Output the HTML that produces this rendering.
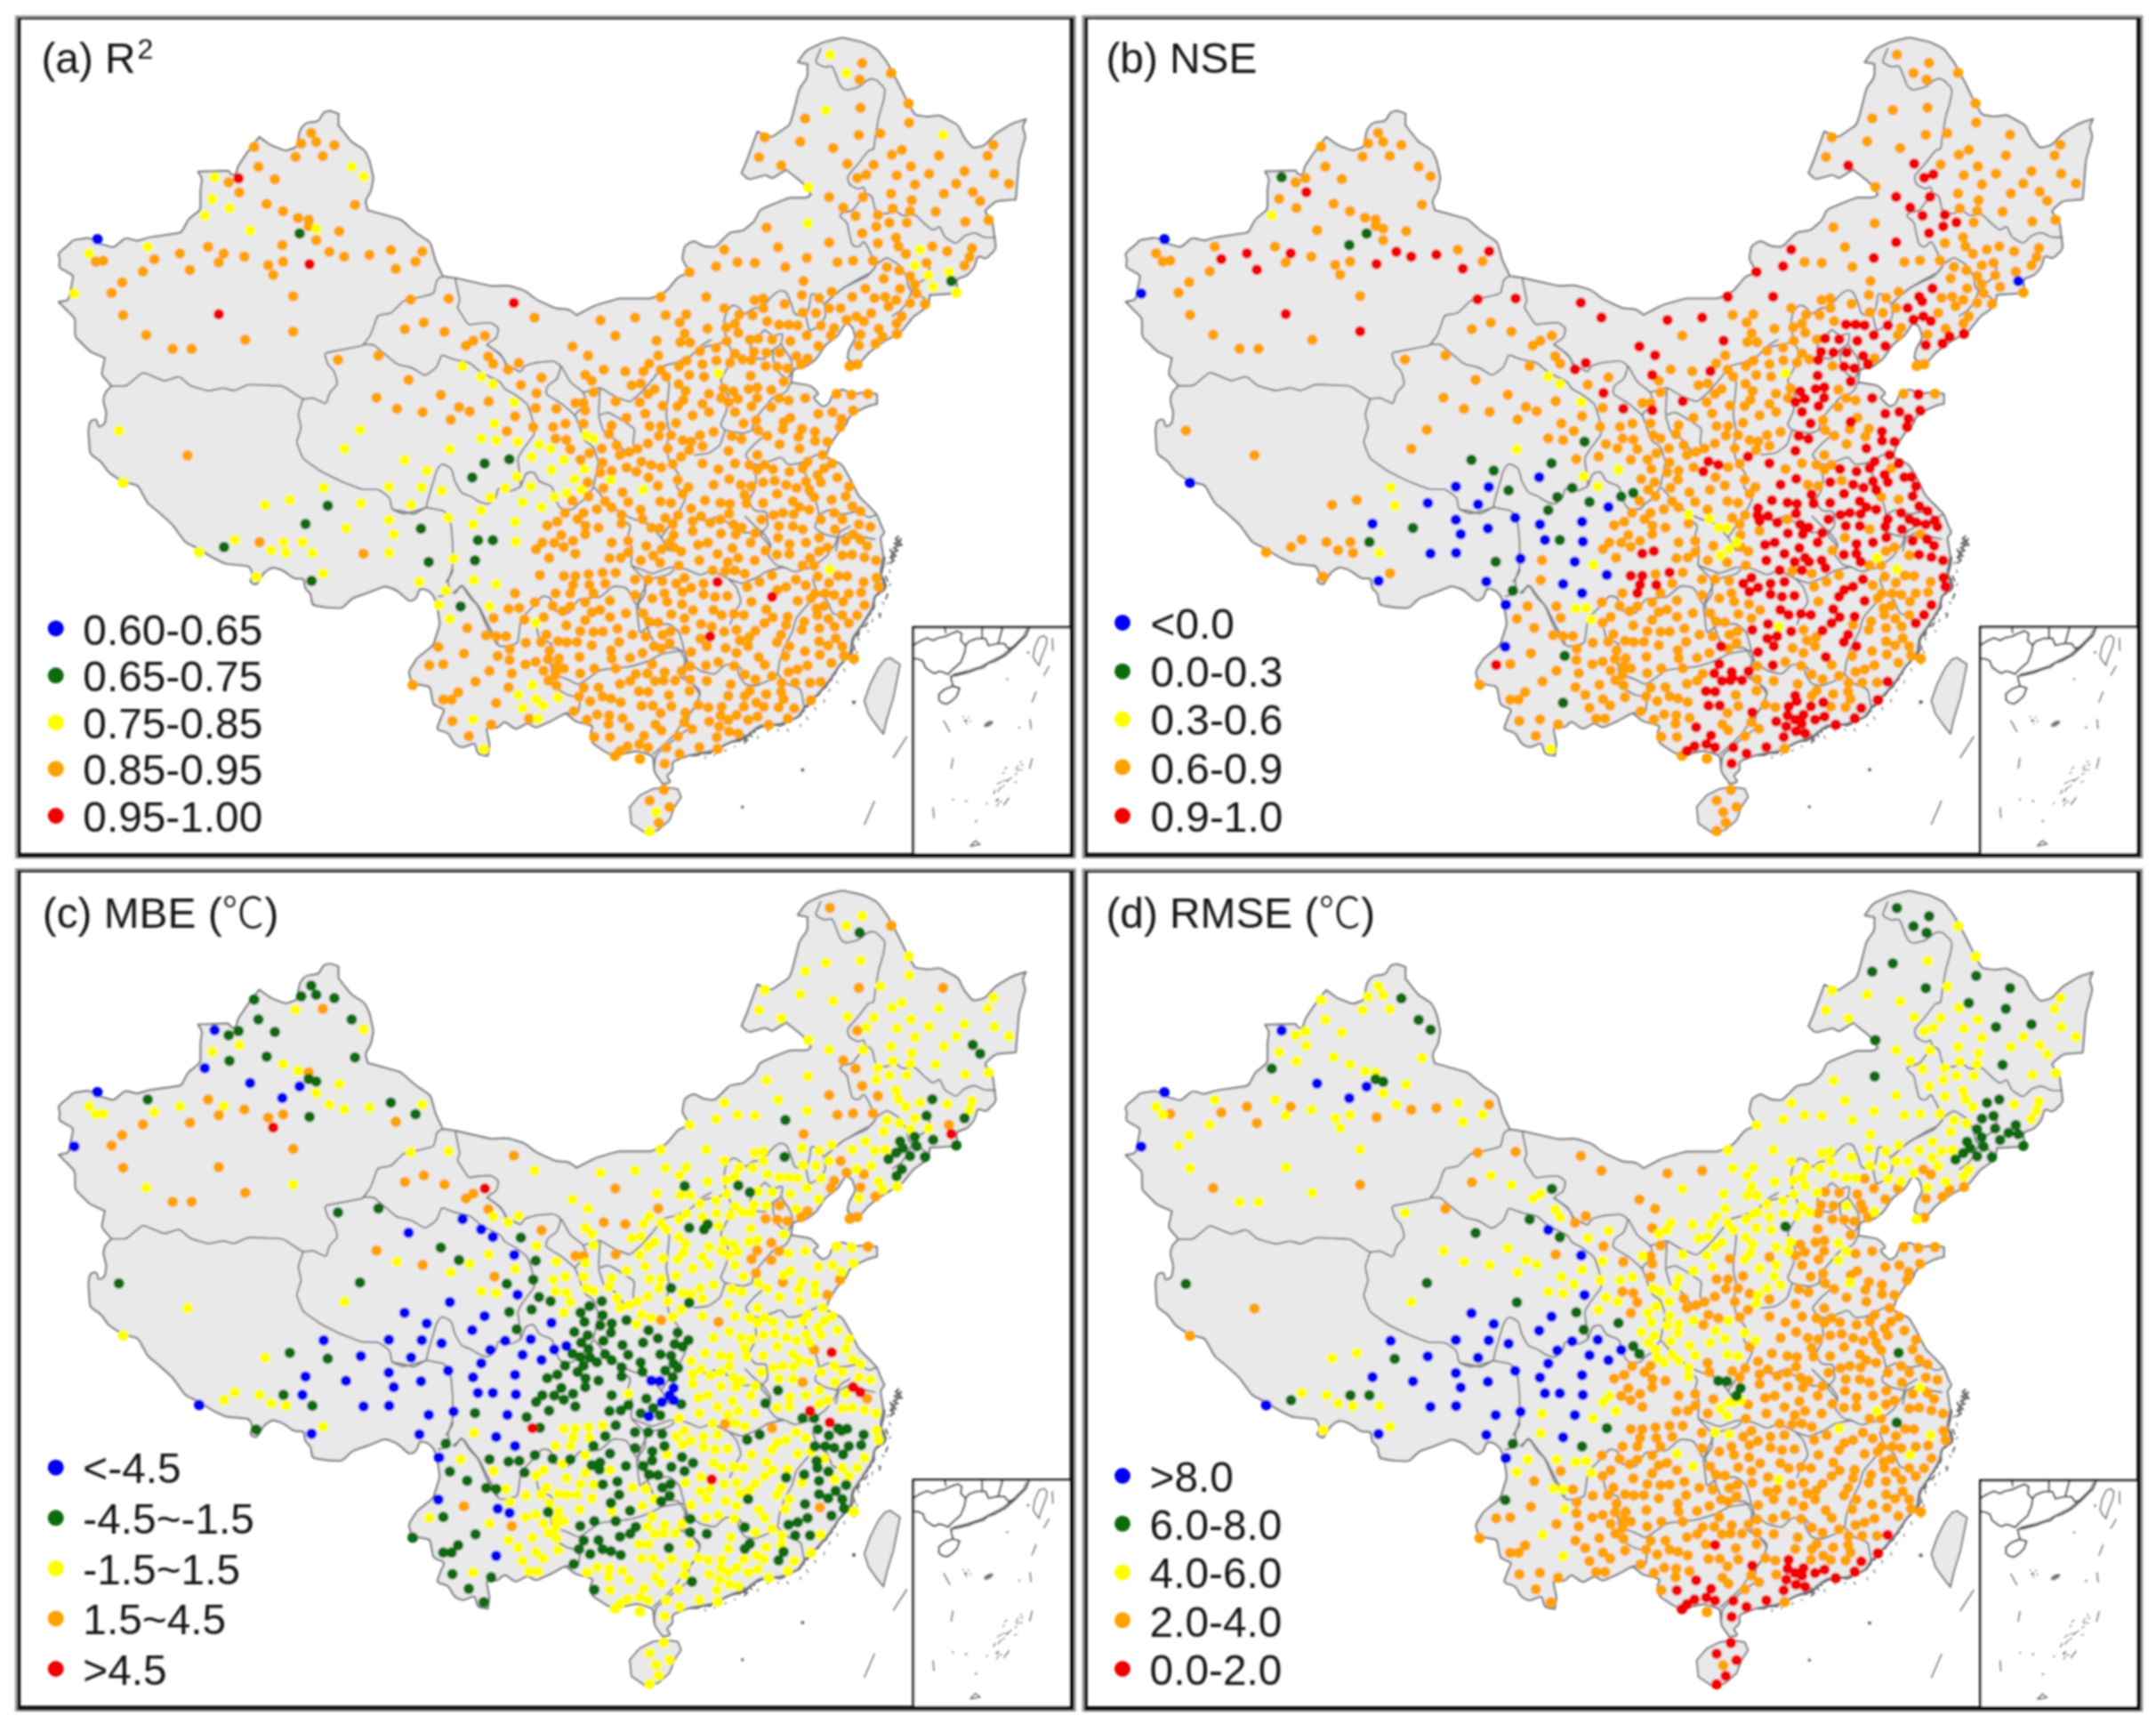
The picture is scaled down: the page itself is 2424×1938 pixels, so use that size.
<!DOCTYPE html><html><head><meta charset="utf-8"><title>Figure</title>
<style>html,body{margin:0;padding:0;background:#fff}svg{display:block}text{font-family:"Liberation Sans","Noto Sans CJK SC",sans-serif;fill:#151515}.cj{font-family:"Noto Sans CJK SC","Noto Serif CJK SC",sans-serif;font-weight:300}</style></head><body>
<svg width="2424" height="1938" viewBox="0 0 2424 1938">
<rect width="2424" height="1938" fill="#fff"/>
<defs><filter id="bl" x="-1%" y="-1%" width="102%" height="102%"><feGaussianBlur stdDeviation="1.0"/></filter>
<g id="map">
<path d="M66.7 289.2 Q65.9 285.8 65.9 285.8 L65.9 285.8 Q65.9 285.8 67.3 283.9 L67.3 283.9 Q68.7 282.0 71.5 279.8 L75.2 276.9 Q78.0 274.7 79.8 272.4 L79.8 272.4 Q81.7 270.0 85.2 269.5 L96.7 267.8 Q100.2 267.3 103.2 269.1 L108.4 272.0 Q111.4 273.8 114.8 274.7 L124.6 277.5 Q128.0 278.4 130.7 276.1 L138.3 269.6 Q141.0 267.3 144.4 268.3 L150.6 270.0 Q154.0 271.0 157.3 270.0 L163.7 268.0 Q167.0 267.0 170.5 266.5 L200.5 262.2 Q204.0 261.7 205.6 258.6 L210.0 250.0 Q211.6 246.9 214.3 244.7 L222.8 237.9 Q225.5 235.7 225.5 232.2 L225.5 216.9 Q225.5 213.4 226.0 209.9 L226.9 204.0 Q227.4 200.5 225.5 197.5 L224.6 196.0 Q222.7 193.0 222.7 193.0 L222.7 193.0 Q222.7 193.0 226.2 192.9 L253.5 192.1 Q257.0 192.0 257.0 192.0 L257.0 192.0 Q257.0 192.0 258.4 194.3 L258.4 194.3 Q259.9 196.7 262.6 196.7 L262.6 196.7 Q265.4 196.7 266.1 193.3 L266.6 190.9 Q267.3 187.5 269.2 184.6 L276.5 173.7 Q278.4 170.8 280.5 168.0 L289.3 156.8 Q291.4 154.0 291.4 154.0 L291.4 154.0 Q291.4 154.0 294.2 156.0 L301.6 161.3 Q304.4 163.3 307.7 164.6 L317.7 168.5 Q321.0 169.8 324.3 168.6 L330.7 166.4 Q334.0 165.2 334.5 161.7 L336.4 150.1 Q336.9 146.6 339.1 143.8 L341.2 141.1 Q343.4 138.3 346.9 137.9 L354.7 136.8 Q358.2 136.4 359.9 133.3 L362.1 129.3 Q363.8 126.2 367.2 125.4 L367.8 125.2 Q371.2 124.4 374.5 125.7 L377.2 126.7 Q380.5 128.0 380.5 128.0 L380.5 128.0 Q380.5 128.0 380.5 131.5 L380.5 137.5 Q380.5 141.0 380.5 141.0 L380.5 141.0 Q380.5 141.0 382.6 143.8 L392.7 156.6 Q394.8 159.4 397.8 161.3 L406.7 166.8 Q409.7 168.7 411.3 171.8 L413.7 176.7 Q415.3 179.8 416.1 183.2 L419.1 196.8 Q419.9 200.2 419.2 203.6 L417.7 211.6 Q417.0 215.0 415.2 218.0 L412.4 223.0 Q410.6 226.0 411.5 229.4 L412.5 233.0 Q413.4 236.4 413.4 236.4 L413.4 236.4 Q413.4 236.4 416.8 237.3 L447.1 245.7 Q450.5 246.6 453.1 248.9 L464.6 259.2 Q467.2 261.5 470.1 263.4 L481.1 270.7 Q484.0 272.6 484.9 276.0 L488.6 289.6 Q489.5 293.0 491.0 296.2 L496.4 307.5 Q497.9 310.7 497.9 310.7 L497.9 310.7 Q497.9 310.7 501.4 311.1 L508.3 312.1 Q511.8 312.5 515.2 313.3 L549.2 321.0 Q552.6 321.8 556.1 321.6 L567.7 321.1 Q571.2 320.9 574.5 321.9 L586.4 325.5 Q589.7 326.5 592.5 328.7 L599.9 334.5 Q602.7 336.7 605.9 338.2 L621.8 345.4 Q625.0 346.9 628.5 347.1 L636.4 347.6 Q639.9 347.8 642.7 350.0 L645.4 352.1 Q648.2 354.3 648.2 354.3 L648.2 354.3 Q648.2 354.3 651.3 352.7 L666.5 344.8 Q669.6 343.2 673.0 342.2 L692.1 336.7 Q695.5 335.7 699.0 335.7 L729.2 335.7 Q732.7 335.7 735.8 334.1 L746.3 329.0 Q749.4 327.4 751.6 324.7 L760.2 314.3 Q762.4 311.6 765.6 310.2 L772.2 307.4 Q775.4 306.0 775.4 306.0 L775.4 306.0 Q775.4 306.0 773.7 303.0 L768.7 294.2 Q767.0 291.2 767.6 287.8 L769.2 279.7 Q769.8 276.3 772.9 274.6 L776.9 272.3 Q780.0 270.6 783.0 272.4 L788.0 275.2 Q791.0 277.0 794.5 277.3 L800.5 277.7 Q804.0 278.0 806.5 275.5 L818.3 263.8 Q820.8 261.3 824.3 260.9 L832.2 259.8 Q835.7 259.4 838.4 257.1 L846.0 250.6 Q848.7 248.3 850.1 245.1 L852.8 239.4 Q854.2 236.2 857.4 234.8 L865.8 231.1 Q869.0 229.7 872.3 228.4 L884.4 223.6 Q887.7 222.3 891.2 222.3 L904.5 222.3 Q908.0 222.3 909.9 220.4 L909.9 220.4 Q911.8 218.6 911.8 218.6 L911.8 218.6 Q911.8 218.6 909.8 215.8 L904.5 208.4 Q902.5 205.6 899.8 203.4 L886.7 193.0 Q884.0 190.8 884.0 190.8 L884.0 190.8 Q884.0 190.8 881.0 192.6 L870.2 199.2 Q867.2 201.0 864.5 198.7 L864.4 198.6 Q861.7 196.3 858.3 197.2 L844.7 201.0 Q841.3 201.9 838.8 199.4 L836.3 197.0 Q833.8 194.5 833.8 194.5 L833.8 194.5 Q833.8 194.5 835.2 191.3 L838.0 184.7 Q839.4 181.5 840.6 178.2 L850.3 151.3 Q851.5 148.0 851.5 148.0 L851.5 148.0 Q851.5 148.0 854.7 149.4 L864.0 153.2 Q867.2 154.6 870.1 152.6 L884.8 142.6 Q887.7 140.6 888.8 137.3 L890.3 132.8 Q891.4 129.5 892.2 126.1 L898.0 103.2 Q898.8 99.8 900.8 96.9 L906.0 89.7 Q908.0 86.8 908.0 83.3 L908.0 75.5 Q908.0 72.0 908.0 72.0 L908.0 72.0 Q908.0 72.0 904.6 71.4 L900.4 70.6 Q897.0 70.0 897.0 70.0 L897.0 70.0 Q897.0 70.0 899.0 67.1 L904.2 59.9 Q906.2 57.0 909.3 55.4 L921.7 49.4 Q924.8 47.8 928.2 47.0 L943.6 43.1 Q947.0 42.3 950.4 43.1 L967.8 47.0 Q971.2 47.8 974.3 49.4 L982.9 53.7 Q986.0 55.3 988.1 58.1 L995.1 67.2 Q997.2 70.0 998.9 73.1 L1006.6 87.4 Q1008.3 90.5 1009.9 93.6 L1019.7 113.4 Q1021.3 116.5 1023.0 119.5 L1027.0 126.5 Q1028.7 129.5 1032.2 129.9 L1040.1 131.0 Q1043.6 131.4 1047.1 130.9 L1053.1 130.0 Q1056.6 129.5 1059.7 131.2 L1073.9 138.9 Q1077.0 140.6 1078.6 143.7 L1082.8 152.4 Q1084.4 155.5 1086.6 158.2 L1091.5 163.9 Q1093.7 166.6 1097.1 165.9 L1103.3 164.5 Q1106.7 163.8 1109.1 161.3 L1117.3 152.5 Q1119.7 150.0 1122.7 148.2 L1135.2 140.6 Q1138.2 138.8 1141.5 137.8 L1150.2 135.0 Q1153.5 134.0 1153.5 134.0 L1153.5 134.0 Q1153.5 134.0 1152.0 137.2 L1150.9 139.3 Q1149.4 142.5 1150.5 145.8 L1151.9 150.3 Q1153.0 153.6 1152.0 157.0 L1146.6 176.2 Q1145.6 179.6 1145.3 183.1 L1144.1 198.4 Q1143.8 201.9 1143.5 205.4 L1142.3 220.7 Q1142.0 224.2 1142.0 224.2 L1142.0 224.2 Q1142.0 224.2 1138.5 224.5 L1123.2 225.7 Q1119.7 226.0 1117.0 228.3 L1109.4 234.9 Q1106.7 237.2 1108.7 240.0 L1114.0 247.4 Q1116.0 250.2 1116.4 253.7 L1119.3 276.4 Q1119.7 279.9 1117.2 282.4 L1111.0 288.5 Q1108.5 291.0 1105.3 289.7 L1102.5 288.6 Q1099.3 287.3 1098.3 290.7 L1096.5 296.9 Q1095.5 300.3 1093.3 303.0 L1090.2 306.6 Q1088.0 309.3 1084.7 310.5 L1078.3 312.8 Q1075.0 314.0 1075.4 317.5 L1076.6 326.2 Q1077.0 329.7 1077.0 329.7 L1077.0 329.7 Q1077.0 329.7 1073.5 329.9 L1048.9 331.3 Q1045.4 331.5 1045.4 331.5 L1045.4 331.5 Q1045.4 331.5 1044.9 335.0 L1044.1 341.0 Q1043.6 344.5 1040.7 346.4 L1029.8 353.8 Q1026.9 355.7 1024.8 358.5 L1016.0 369.6 Q1013.9 372.4 1010.9 374.2 L994.6 383.6 Q991.6 385.4 988.8 387.5 L979.5 394.4 Q976.7 396.5 974.4 399.2 L967.9 406.8 Q965.6 409.5 962.4 408.1 L955.8 405.4 Q952.6 404.0 953.2 400.5 L953.9 396.3 Q954.5 392.8 956.2 389.8 L960.3 382.8 Q962.0 379.8 961.0 376.4 L959.2 370.2 Q958.2 366.8 955.1 365.2 L953.9 364.6 Q950.8 363.0 949.0 366.0 L943.3 375.0 Q941.5 378.0 938.6 380.0 L931.4 385.2 Q928.5 387.2 926.6 390.1 L919.3 401.1 Q917.4 404.0 914.5 406.0 L907.3 411.2 Q904.4 413.2 900.9 413.7 L894.9 414.5 Q891.4 415.0 891.0 418.5 L889.9 426.5 Q889.5 430.0 889.5 430.0 L889.5 430.0 Q889.5 430.0 893.0 430.6 L908.3 433.0 Q911.8 433.6 914.2 436.1 L918.6 440.5 Q921.0 443.0 917.9 444.5 L916.7 445.1 Q913.6 446.6 916.1 449.1 L922.3 455.3 Q924.8 457.8 927.9 456.2 L929.1 455.6 Q932.2 454.0 933.3 450.7 L934.9 446.3 Q936.0 443.0 939.1 441.4 L943.9 439.0 Q947.0 437.4 950.1 439.0 L955.1 441.4 Q958.2 443.0 961.7 442.6 L971.5 441.4 Q975.0 441.0 978.4 441.6 L982.6 442.4 Q986.0 443.0 986.0 443.0 L986.0 443.0 Q986.0 443.0 986.0 446.5 L986.0 450.5 Q986.0 454.0 986.0 454.0 L986.0 454.0 Q986.0 454.0 982.6 454.7 L980.1 455.3 Q976.7 456.0 973.6 457.6 L965.1 461.7 Q962.0 463.3 959.2 465.4 L957.3 466.9 Q954.5 469.0 953.2 472.2 L952.1 475.0 Q950.8 478.2 948.3 480.7 L944.0 485.0 Q941.5 487.5 939.6 490.5 L934.1 499.3 Q932.2 502.3 931.1 505.6 L929.6 510.2 Q928.5 513.5 928.5 513.5 L928.5 513.5 Q928.5 513.5 931.6 515.1 L943.9 521.1 Q947.0 522.7 948.7 525.8 L954.6 536.3 Q956.3 539.4 957.9 542.5 L964.0 554.9 Q965.6 558.0 968.1 560.5 L972.5 564.8 Q975.0 567.3 977.5 569.8 L983.5 575.9 Q986.0 578.4 987.2 581.7 L990.4 590.0 Q991.6 593.3 993.3 596.0 L993.3 596.0 Q995.0 598.6 992.5 601.1 L992.1 601.5 Q989.6 604.0 990.2 607.5 L992.7 622.9 Q993.3 626.4 992.5 629.8 L990.4 639.6 Q989.6 643.0 990.6 646.4 L994.0 658.3 Q995.0 661.7 995.0 661.7 L995.0 661.7 Q995.0 661.7 992.1 663.6 L986.9 667.1 Q984.0 669.0 983.2 672.4 L981.1 680.6 Q980.3 684.0 978.5 687.0 L970.9 699.5 Q969.1 702.5 967.0 705.3 L960.1 714.6 Q958.0 717.4 957.6 720.9 L956.5 730.5 Q956.1 734.0 953.8 736.7 L945.5 746.3 Q943.2 749.0 941.2 751.9 L934.0 762.7 Q932.0 765.6 929.7 768.2 L921.3 777.9 Q919.0 780.5 916.5 783.0 L906.7 792.8 Q904.2 795.3 902.3 798.2 L898.7 803.5 Q896.8 806.4 893.5 807.6 L879.6 812.7 Q876.3 813.9 872.8 814.2 L857.5 815.4 Q854.0 815.7 851.2 817.9 L840.2 826.5 Q837.4 828.7 834.1 829.8 L823.9 833.2 Q820.6 834.3 817.5 836.0 L807.0 841.9 Q803.9 843.6 800.5 844.2 L777.6 848.5 Q774.2 849.1 771.0 850.4 L758.9 855.3 Q755.7 856.6 755.9 860.1 L756.2 863.0 Q756.4 866.5 753.6 868.6 L751.8 869.9 Q749.0 872.0 751.1 874.8 L752.4 876.6 Q754.5 879.4 751.1 880.1 L748.6 880.6 Q745.2 881.3 745.2 881.3 L745.2 881.3 Q745.2 881.3 743.2 878.4 L738.0 871.2 Q736.0 868.3 735.6 864.8 L734.5 853.2 Q734.1 849.7 730.8 848.6 L726.3 847.1 Q723.0 846.0 719.6 845.2 L718.9 845.0 Q715.5 844.2 712.1 844.9 L693.0 849.0 Q689.6 849.7 686.5 848.2 L685.2 847.5 Q682.1 846.0 679.2 844.1 L668.3 836.8 Q665.4 834.9 664.8 831.4 L664.2 827.3 Q663.6 823.8 665.1 820.7 L665.8 819.4 Q667.3 816.3 663.9 815.4 L650.3 811.7 Q646.9 810.8 644.2 808.6 L638.4 803.7 Q635.7 801.5 632.6 803.2 L622.1 809.1 Q619.0 810.8 615.8 812.2 L605.5 816.8 Q602.3 818.2 599.3 816.4 L596.0 814.4 Q593.0 812.6 590.0 814.3 L583.0 818.3 Q580.0 820.0 577.1 818.0 L569.9 812.8 Q567.0 810.8 564.5 813.3 L562.1 815.7 Q559.6 818.2 556.1 818.2 L550.1 818.2 Q546.6 818.2 547.3 821.6 L549.6 833.4 Q550.3 836.8 550.3 836.8 L550.3 836.8 Q550.3 836.8 549.8 840.3 L549.0 846.2 Q548.5 849.7 548.5 849.7 L548.5 849.7 Q548.5 849.7 545.0 849.1 L540.9 848.5 Q537.4 847.9 536.4 844.5 L534.6 838.3 Q533.6 834.9 530.4 836.3 L523.8 839.1 Q520.6 840.5 517.4 839.2 L514.6 838.1 Q511.4 836.8 509.7 833.8 L505.6 826.8 Q503.9 823.8 500.5 822.8 L494.4 821.0 Q491.0 820.0 492.2 816.7 L495.3 808.5 Q496.5 805.2 498.1 802.1 L498.6 800.9 Q500.2 797.8 497.0 796.4 L490.4 793.6 Q487.2 792.2 486.6 788.8 L484.1 775.2 Q483.5 771.8 480.1 771.2 L466.5 768.7 Q463.1 768.1 462.1 764.7 L460.4 758.5 Q459.4 755.1 461.3 752.1 L466.8 743.2 Q468.7 740.2 471.4 738.0 L484.5 727.6 Q487.2 725.4 488.2 722.1 L493.7 704.6 Q494.7 701.3 494.1 697.8 L492.8 689.1 Q492.2 685.6 491.4 682.2 L489.3 674.2 Q488.5 670.8 486.0 668.3 L483.6 665.8 Q481.1 663.3 477.7 662.6 L475.2 662.2 Q471.8 661.5 470.7 664.8 L469.2 669.3 Q468.1 672.6 465.0 674.2 L463.8 674.7 Q460.7 676.3 458.1 674.0 L448.4 665.6 Q445.8 663.3 442.5 662.1 L436.2 659.9 Q432.9 658.7 429.6 660.0 L417.6 664.8 Q414.3 666.1 411.0 667.3 L399.0 671.4 Q395.7 672.6 393.2 675.1 L387.1 681.2 Q384.6 683.7 381.1 683.5 L369.5 683.0 Q366.0 682.8 362.6 682.1 L354.6 680.7 Q351.2 680.0 350.7 676.5 L349.8 670.5 Q349.3 667.0 346.6 664.7 L345.5 663.8 Q342.8 661.5 342.5 658.0 L342.2 653.8 Q341.9 650.3 338.4 650.3 L334.3 650.3 Q330.8 650.3 328.0 648.3 L320.6 643.0 Q317.8 641.0 314.5 639.9 L309.9 638.5 Q306.6 637.4 303.6 639.2 L300.4 641.1 Q297.4 642.9 295.5 645.9 L289.9 654.8 Q288.0 657.8 284.9 656.2 L283.7 655.6 Q280.6 654.0 282.2 650.9 L282.8 649.7 Q284.4 646.6 283.2 643.3 L281.8 639.7 Q280.6 636.4 277.1 636.0 L256.3 634.0 Q252.8 633.6 249.7 632.0 L241.1 627.8 Q238.0 626.2 235.0 624.3 L226.1 618.8 Q223.1 616.9 220.0 615.3 L211.4 611.1 Q208.3 609.5 206.2 606.7 L195.5 591.9 Q193.4 589.1 190.8 586.8 L179.3 576.5 Q176.7 574.2 174.0 572.0 L168.9 568.0 Q166.2 565.8 164.5 562.7 L156.8 548.5 Q155.1 545.4 151.7 544.6 L141.8 542.5 Q138.4 541.7 135.5 539.8 L124.6 532.5 Q121.7 530.6 119.8 527.7 L116.1 522.3 Q114.2 519.4 111.4 517.4 L104.1 512.2 Q101.3 510.2 101.0 506.7 L99.7 487.7 Q99.4 484.2 100.0 480.7 L100.7 476.5 Q101.3 473.0 104.7 472.2 L105.3 472.0 Q108.7 471.2 109.4 474.6 L109.8 477.1 Q110.5 480.5 113.6 479.0 L114.9 478.3 Q118.0 476.8 118.5 473.3 L119.3 467.3 Q119.8 463.8 118.8 460.4 L117.1 454.2 Q116.1 450.8 116.8 447.4 L117.3 444.9 Q118.0 441.5 120.5 439.0 L122.9 436.5 Q125.4 434.0 125.4 434.0 L125.4 434.0 Q125.4 434.0 123.1 431.3 L116.5 423.7 Q114.2 421.0 114.9 417.6 L117.3 405.9 Q118.0 402.5 118.0 402.5 L118.0 402.5 Q118.0 402.5 114.8 401.1 L104.5 396.5 Q101.3 395.1 98.8 392.6 L87.0 380.9 Q84.5 378.4 84.5 374.9 L84.5 361.5 Q84.5 358.0 82.0 355.5 L68.5 341.9 Q66.0 339.4 66.0 339.4 L66.0 339.4 Q66.0 339.4 69.4 338.8 L73.7 338.1 Q77.1 337.5 77.8 334.1 L82.0 313.1 Q82.7 309.7 79.6 308.0 L69.1 302.1 Q66.0 300.4 66.8 297.0 L66.9 296.7 Q67.7 293.3 66.9 289.9 Z" fill="#e9e9ea" stroke="#7b7b80" stroke-width="2.2" stroke-linejoin="round"/>
<path d="M1000.7 739.6 L1011.8 747.0 L1008.1 765.6 L1004.4 784.2 L997.0 808.3 L993.3 825.0 L985.8 815.7 L976.6 802.7 L971.9 787.9 L978.4 769.3 L987.7 750.8 L995.1 741.5 Z" fill="#e9e9ea" stroke="#7b7b80" stroke-width="2" stroke-linejoin="round"/>
<path d="M734.1 886.9 L747.1 885.0 L762.0 886.9 L765.7 896.1 L758.2 907.3 L752.7 922.1 L739.7 933.3 L726.7 937.0 L710.0 925.8 L708.1 907.3 L719.3 894.3 Z" fill="#e9e9ea" stroke="#7b7b80" stroke-width="2" stroke-linejoin="round"/>
<path d="M497.9 310.7 L494.6 312.1 Q491.4 313.5 490.6 316.9 L488.5 326.8 Q487.7 330.2 484.3 331.0 L476.2 333.1 Q472.8 333.9 469.4 334.6 L457.6 336.9 Q454.2 337.6 451.7 340.1 L441.9 349.9 Q439.4 352.4 435.9 352.8 L428.0 353.9 Q424.5 354.3 423.4 357.6 L417.9 373.2 Q416.8 376.5 414.7 379.3 L407.5 388.6" fill="none" stroke="#7b7b80" stroke-width="1.9" stroke-linejoin="round"/>
<path d="M407.5 388.6 L368.2 396.2 Q364.8 396.9 365.8 400.3 L367.5 406.5 Q368.5 409.9 371.0 412.4 L373.5 414.9 Q376.0 417.4 376.8 420.8 L378.9 428.8 Q379.7 432.2 377.2 434.7 L372.9 439.0 Q370.4 441.5 369.4 444.9 L367.7 451.1 Q366.7 454.5 363.6 452.9 L354.9 448.6 Q351.8 447.0 348.4 447.6 L344.1 448.3 Q340.7 448.9 337.8 447.0 L321.3 435.9 Q318.4 434.0 314.9 433.8 L282.9 432.4 Q279.4 432.2 276.2 433.6 L265.9 438.2 Q262.7 439.6 259.4 438.5 L254.9 437.0 Q251.6 435.9 248.2 436.7 L238.3 438.8 Q234.9 439.6 231.5 438.7 L217.9 434.9 Q214.5 434.0 211.8 431.7 L204.2 425.2 Q201.5 422.9 198.2 424.0 L188.1 427.4 Q184.8 428.5 181.6 427.1 L163.8 419.7 Q160.6 418.3 157.9 420.6 L144.7 431.7 Q142.0 434.0 138.5 434.0 L125.4 434.0" fill="none" stroke="#7b7b80" stroke-width="1.9" stroke-linejoin="round"/>
<path d="M340.7 448.9 L336.2 462.3 Q335.1 465.6 335.9 469.0 L338.0 477.1 Q338.8 480.5 337.7 483.8 L334.4 493.9 Q333.3 497.2 334.6 500.4 L339.4 512.5 Q340.7 515.7 343.6 517.7 L357.6 527.7 Q360.5 529.7 363.6 531.3 L379.6 539.2 Q382.7 540.8 386.0 542.1 L403.6 548.8 Q406.9 550.1 410.4 550.1 L421.9 550.1 Q425.4 550.1 428.2 552.1 L435.6 557.4 Q438.4 559.4 438.9 562.9 L439.8 568.9 Q440.3 572.4 443.5 573.8 L450.1 576.6 Q453.3 578.0 456.7 577.1 L464.7 575.1 Q468.1 574.2 471.4 573.1 L479.3 570.5" fill="none" stroke="#7b7b80" stroke-width="1.9" stroke-linejoin="round"/>
<path d="M479.3 570.5 L496.3 573.6 Q499.7 574.2 501.3 577.3 L505.5 586.0 Q507.1 589.1 507.4 592.6 L508.7 607.9 Q509.0 611.4 509.0 614.9 L509.0 633.9 Q509.0 637.4 507.9 640.7 L504.5 650.7 Q503.4 654.0 504.4 657.4 L506.1 663.6 Q507.1 667.0 503.7 667.9 L492.2 670.8" fill="none" stroke="#7b7b80" stroke-width="1.9" stroke-linejoin="round"/>
<path d="M511.8 312.5 L516.6 336.0 Q517.4 339.4 515.5 342.2 L515.5 342.2 Q513.6 345.0 515.5 348.0 L524.8 362.5 Q526.6 365.4 530.1 364.9 L534.3 364.1 Q537.8 363.6 541.3 363.4 L549.1 362.9 Q552.6 362.6 555.4 364.8 L558.2 367.0 Q561.0 369.1 560.1 372.5 L559.0 376.9 Q558.2 380.3 555.2 382.0 L550.1 385.0 Q547.1 386.8 549.9 388.9 L555.4 393.0 Q558.2 395.1 560.7 397.6 L565.0 401.9 Q567.5 404.4 568.0 407.9 L569.3 415.5" fill="none" stroke="#7b7b80" stroke-width="1.9" stroke-linejoin="round"/>
<path d="M407.4 387.2 L416.9 387.2 Q420.4 387.2 422.3 389.1 L422.3 389.1 Q424.1 391.0 426.8 393.2 L432.6 398.0 Q435.3 400.2 438.0 402.5 L443.7 407.3 Q446.4 409.5 449.8 410.3 L459.7 412.5 Q463.1 413.2 466.1 415.1 L475.0 420.7 Q478.0 422.5 480.8 420.5 L488.1 415.3 Q491.0 413.2 492.2 409.9 L495.3 401.7 Q496.5 398.4 499.7 399.8 L506.3 402.6 Q509.5 403.9 512.9 404.6 L524.6 407.0 Q528.1 407.7 530.7 409.9 L538.4 416.5 Q541.1 418.8 544.2 420.4 L560.2 428.4 Q563.3 429.9 564.9 433.1 L565.5 434.2 Q567.1 437.4 570.2 438.9 L575.1 441.4 Q578.2 442.9 581.0 445.0 L590.2 452.0 Q593.0 454.1 594.1 457.4 L597.5 467.4 Q598.6 470.8 599.2 474.2 L600.8 484.0 Q601.4 487.5 599.3 490.3 L589.6 503.2 Q587.5 506.0 585.7 509.0 L583.7 512.3 Q581.9 515.3 582.4 518.8 L583.3 524.8 Q583.8 528.3 584.1 531.8 L585.6 546.9" fill="none" stroke="#7b7b80" stroke-width="1.9" stroke-linejoin="round"/>
<path d="M479.3 570.4 L480.9 563.3 Q481.7 559.9 482.7 556.5 L486.2 544.7 Q487.2 541.3 488.2 537.9 L490.0 531.7 Q491.0 528.3 493.1 525.5 L494.4 523.7 Q496.5 520.9 499.7 522.4 L504.5 524.9 Q507.7 526.5 508.5 529.8 L510.5 537.9 Q511.4 541.3 513.1 544.3 L517.1 551.3 Q518.8 554.3 522.1 555.4 L526.6 556.9 Q529.9 558.0 532.7 560.1 L534.6 561.5 Q537.4 563.6 540.7 564.7 L545.2 566.2 Q548.5 567.3 551.2 565.1 L555.0 562.0 Q557.8 559.9 558.3 556.4 L559.1 552.2 Q559.6 548.7 563.0 549.6 L571.1 551.6 Q574.5 552.4 577.6 550.9 L585.6 546.9" fill="none" stroke="#7b7b80" stroke-width="1.9" stroke-linejoin="round"/>
<path d="M479.3 570.4 L468.0 576.7 Q465.0 578.4 461.6 577.3 L457.1 575.8 Q453.8 574.7 450.4 574.2 L440.8 572.9" fill="none" stroke="#7b7b80" stroke-width="1.9" stroke-linejoin="round"/>
<path d="M585.6 546.9 L590.0 535.3 Q591.2 532.0 594.6 531.3 L597.0 530.8 Q600.5 530.2 602.0 533.3 L604.5 538.2 Q606.0 541.3 609.3 542.5 L617.6 545.6 Q620.9 546.9 621.8 550.2 L624.6 560.2 Q625.5 563.6 627.2 566.6 L628.5 568.9 Q630.2 571.9 633.7 572.1 L641.5 572.6 Q645.0 572.9 646.9 570.1 L646.9 570.1 Q648.7 567.3 651.6 565.3 L656.9 561.8 Q659.9 559.9 661.6 556.8 L665.5 549.9 Q667.3 546.9 669.6 549.5 L676.1 557.2 Q678.4 559.9 680.9 562.3 L687.1 568.5 Q689.6 571.0 692.6 572.8 L705.1 580.3 Q708.1 582.1 711.4 583.2 L727.1 588.5 Q730.4 589.6 732.7 592.2 L741.1 601.8 Q743.4 604.4 745.2 607.4 L752.7 620.0" fill="none" stroke="#7b7b80" stroke-width="1.9" stroke-linejoin="round"/>
<path d="M667.3 546.9 L672.2 522.5 Q672.9 519.0 671.7 515.7 L668.4 505.6 Q667.3 502.3 664.4 500.4 L659.1 496.8 Q656.1 494.9 655.2 491.5 L653.4 485.3 Q652.4 481.9 651.2 478.6 L648.1 470.3 Q646.9 467.1 644.2 464.7 L632.0 454.1" fill="none" stroke="#7b7b80" stroke-width="1.9" stroke-linejoin="round"/>
<path d="M546.6 387.2 L560.4 396.4 Q563.3 398.4 564.9 401.5 L567.3 406.4 Q568.9 409.5 572.0 411.2 L582.6 417.1 Q585.6 418.8 587.2 415.7 L587.8 414.5 Q589.3 411.4 592.7 410.4 L599.0 408.6 Q602.3 407.7 605.8 407.3 L619.3 406.1 Q622.7 405.8 625.6 407.7 L628.2 409.4 Q631.1 411.4 630.0 414.7 L627.5 422.9 Q626.5 426.2 623.5 428.2 L618.2 431.7 Q615.3 433.6 614.6 437.1 L614.1 439.5 Q613.5 442.9 616.5 444.7 L632.0 454.1" fill="none" stroke="#7b7b80" stroke-width="1.9" stroke-linejoin="round"/>
<path d="M631.1 411.4 L639.6 426.9 Q641.3 429.9 644.1 432.0 L653.3 439.0 Q656.1 441.1 657.1 444.4 L658.9 450.7 Q659.9 454.1 657.2 456.3 L651.4 461.1 Q648.7 463.3 647.8 465.2 L646.9 467.1" fill="none" stroke="#7b7b80" stroke-width="1.9" stroke-linejoin="round"/>
<path d="M656.1 441.1 L671.4 436.5 Q674.7 435.5 677.7 437.4 L686.6 442.9 Q689.6 444.8 692.8 446.1 L704.9 450.9 Q708.1 452.2 710.8 449.9 L718.5 443.3 Q721.1 441.1 723.4 438.4 L731.8 428.9 Q734.1 426.2 736.2 423.4 L743.1 414.2 Q745.2 411.4 748.6 410.5 L756.7 408.5 Q760.1 407.7 763.3 406.2 L773.6 401.7 Q776.8 400.2 779.3 397.8 L787.3 389.7 Q789.8 387.2 792.9 385.6 L800.0 381.7" fill="none" stroke="#7b7b80" stroke-width="1.9" stroke-linejoin="round"/>
<path d="M745.2 411.4 L751.4 426.7 Q752.7 429.9 752.3 433.4 L751.2 445.0 Q750.8 448.5 750.5 452.0 L749.3 463.6 Q749.0 467.1 749.6 470.5 L752.0 482.2 Q752.7 485.6 752.0 489.0 L749.6 500.7 Q749.0 504.2 749.8 507.6 L752.7 519.0" fill="none" stroke="#7b7b80" stroke-width="1.9" stroke-linejoin="round"/>
<path d="M752.7 519.0 L761.7 531.1 Q763.8 533.9 762.8 537.2 L761.1 543.5 Q760.1 546.9 762.4 549.5 L769.0 557.2 Q771.2 559.9 769.7 563.0 L765.4 571.6 Q763.8 574.7 761.8 577.6 L743.4 604.4" fill="none" stroke="#7b7b80" stroke-width="1.9" stroke-linejoin="round"/>
<path d="M674.7 435.5 L673.1 463.6 Q672.9 467.1 676.2 465.9 L680.7 464.4 Q684.0 463.3 687.0 465.1 L693.9 469.0 Q697.0 470.8 699.9 472.7 L710.8 480.0 Q713.7 481.9 713.3 485.4 L712.3 493.3 Q711.8 496.8 712.3 500.2 L713.2 506.3 Q713.7 509.7 710.3 510.4 L707.8 510.9 Q704.4 511.6 702.5 508.7 L695.2 497.8 Q693.3 494.9 690.3 493.0 L681.4 487.5 Q678.4 485.6 677.4 482.3 L672.9 467.1" fill="none" stroke="#7b7b80" stroke-width="1.9" stroke-linejoin="round"/>
<path d="M509.0 667.1 L517.4 660.0 Q520.1 657.8 522.1 660.6 L527.3 667.9 Q529.4 670.8 531.6 673.5 L536.4 679.2 Q538.7 681.9 540.2 685.0 L548.2 701.0 Q549.8 704.2 551.5 707.2 L560.0 722.7" fill="none" stroke="#7b7b80" stroke-width="1.9" stroke-linejoin="round"/>
<path d="M501.2 654.8 L505.6 648.4 Q507.7 645.6 508.6 642.8 L509.5 640.0" fill="none" stroke="#7b7b80" stroke-width="1.9" stroke-linejoin="round"/>
<path d="M511.4 667.8 L516.9 659.6 Q518.8 656.7 520.6 659.7 L526.2 668.6 Q528.1 671.6 530.5 674.0 L534.9 678.4 Q537.4 680.8 538.7 684.1 L545.3 699.9 Q546.6 703.1 548.3 706.2 L556.1 720.5 Q557.8 723.5 560.6 725.4 L560.6 725.4 Q563.3 727.2 566.8 726.6 L578.5 724.2 Q581.9 723.5 582.4 720.1 L585.2 699.2 Q585.6 695.7 588.1 693.2 L598.0 683.3 Q600.5 680.8 602.7 678.1 L607.5 672.4 Q609.7 669.7 613.2 670.4 L615.6 670.9 Q619.0 671.6 619.9 675.0 L621.9 683.0 Q622.7 686.4 626.2 687.2 L636.0 689.4 Q639.4 690.1 641.4 687.2 L648.6 676.3 Q650.6 673.4 654.1 673.1 L671.2 671.8 Q674.7 671.6 677.3 669.2 L686.9 660.9 Q689.6 658.6 693.0 659.0 L700.9 660.0 Q704.4 660.4 706.1 663.5 L713.9 677.8 Q715.5 680.8 717.0 677.6 L721.5 667.3 Q723.0 664.1 724.7 661.1 L728.7 654.2 Q730.4 651.1 733.8 650.3 L749.3 646.4 Q752.7 645.6 755.1 643.1 L758.2 640.0" fill="none" stroke="#7b7b80" stroke-width="1.9" stroke-linejoin="round"/>
<path d="M602.3 701.3 L605.3 714.5 Q606.0 718.0 609.3 719.2 L617.6 722.3 Q620.9 723.5 620.6 727.0 L619.3 740.5 Q619.0 743.9 619.5 747.4 L620.4 755.3 Q620.9 758.8 620.3 762.2 L619.6 766.5 Q619.0 769.9 622.0 771.7 L634.6 779.3 Q637.6 781.1 641.0 781.9 L649.0 783.9 Q652.4 784.8 652.0 788.3 L651.0 798.0 Q650.6 801.5 647.1 801.5 L635.7 801.5" fill="none" stroke="#7b7b80" stroke-width="1.9" stroke-linejoin="round"/>
<path d="M620.9 758.8 L632.3 761.7 Q635.7 762.5 638.9 764.1 L647.4 768.4 Q650.6 769.9 653.5 767.9 L671.8 755.2 Q674.7 753.2 678.2 752.8 L686.1 751.8 Q689.6 751.4 693.0 751.0 L704.6 749.9 Q708.1 749.5 711.5 748.5 L723.3 745.0 Q726.7 743.9 729.8 742.4 L742.1 736.2 Q745.2 734.7 748.7 734.1 L765.9 731.5 Q769.4 731.0 770.3 734.3 L772.1 740.6 Q773.1 743.9 771.4 747.0 L765.5 757.6 Q763.8 760.6 766.9 762.3 L777.5 768.2 Q780.5 769.9 783.0 772.4 L785.5 774.9 Q787.9 777.4 786.8 780.7 L783.5 790.7 Q782.4 794.1 780.1 796.7 L773.5 804.4 Q771.2 807.1 769.2 809.9 L760.2 822.7 Q758.2 825.6 755.8 828.1 L749.6 834.3 Q747.1 836.8 744.4 839.0 L734.1 847.9" fill="none" stroke="#7b7b80" stroke-width="1.9" stroke-linejoin="round"/>
<path d="M769.4 731.0 L764.7 713.9 Q763.8 710.5 761.1 708.3 L755.4 703.5 Q752.7 701.3 749.2 701.5 L733.9 702.8 Q730.4 703.1 727.7 705.3 L721.9 710.1 Q719.3 712.4 718.8 708.9 L715.5 680.8" fill="none" stroke="#7b7b80" stroke-width="1.9" stroke-linejoin="round"/>
<path d="M922.9 54.3 L917.8 66.9 Q916.4 70.1 919.5 71.8 L923.6 74.0 Q926.6 75.7 930.1 75.0 L932.5 74.5 Q935.9 73.8 937.1 77.1 L940.3 85.4 Q941.5 88.7 942.8 91.9 L943.9 94.7 Q945.2 98.0 948.0 99.8 L948.0 99.8 Q950.8 101.7 954.2 100.8 L962.2 98.8 Q965.6 98.0 968.3 95.7 L974.1 90.9 Q976.8 88.7 980.3 88.7 L980.7 88.7 Q984.2 88.7 986.7 91.2 L992.8 97.3 Q995.3 99.8 994.8 103.3 L994.0 109.3 Q993.5 112.8 992.5 116.2 L988.9 128.0 Q987.9 131.4 987.3 134.8 L984.8 150.2 Q984.2 153.6 983.7 157.1 L982.8 165.0 Q982.3 168.5 979.5 168.5 L979.5 168.5 Q976.8 168.5 974.7 171.3 L967.7 180.5 Q965.6 183.3 963.3 186.0 L954.9 195.6 Q952.6 198.2 953.3 201.6 L953.8 204.0 Q954.5 207.5 957.6 209.0 L962.5 211.5 Q965.6 213.0 968.4 211.2 L968.4 211.2 Q971.2 209.3 972.0 212.7 L972.2 213.4 Q973.0 216.8 971.0 219.6 L965.8 226.9 Q963.8 229.7 961.7 232.5 L960.3 234.4 Q958.2 237.2 954.7 237.7 L950.5 238.5 Q947.1 239.0 945.2 240.9 L945.2 240.9 Q943.3 242.7 946.1 244.9 L949.9 248.0 Q952.6 250.2 953.2 253.6 L953.9 257.8 Q954.5 261.3 955.3 264.7 L957.3 272.8 Q958.2 276.1 961.6 277.0 L962.2 277.2 Q965.6 278.0 967.7 275.2 L969.1 273.4 Q971.2 270.6 973.0 273.6 L975.0 276.9 Q976.8 279.9 978.1 283.1 L980.9 289.6 Q982.3 292.9 984.2 294.7 L984.2 294.7 Q986.0 296.6 984.2 299.6 L982.3 302.8 Q980.5 305.8 977.3 307.4 L968.7 311.7 Q965.6 313.3 962.6 315.1 L950.1 322.6 Q947.1 324.4 944.4 326.7 L936.7 333.3 Q934.1 335.5 931.3 337.7 L928.5 340.0" fill="none" stroke="#7b7b80" stroke-width="1.9" stroke-linejoin="round"/>
<path d="M973.0 216.8 L977.3 218.9 Q980.5 220.5 981.2 223.9 L983.4 233.8 Q984.2 237.2 987.4 238.5 L990.2 239.6 Q993.5 240.9 996.9 240.0 L1004.9 238.0 Q1008.3 237.2 1010.8 239.6 L1011.4 240.3 Q1013.9 242.7 1017.3 242.3 L1025.3 241.3 Q1028.7 240.9 1031.2 243.4 L1037.4 249.5 Q1039.9 252.0 1042.6 254.2 L1046.4 257.3 Q1049.1 259.4 1051.9 257.3 L1053.8 256.0 Q1056.6 253.9 1057.9 257.1 L1060.8 263.7 Q1062.1 266.9 1065.2 268.6 L1072.1 272.6 Q1075.1 274.3 1077.6 271.8 L1081.9 267.5 Q1084.4 265.0 1087.7 263.9 L1092.2 262.4 Q1095.5 261.3 1098.7 262.9 L1103.6 265.3 Q1106.7 266.9 1110.2 266.9 L1119.7 266.9" fill="none" stroke="#7b7b80" stroke-width="1.9" stroke-linejoin="round"/>
<path d="M986.0 296.6 L994.3 291.1 Q997.2 289.1 1000.1 291.0 L1009.1 296.6 Q1012.0 298.4 1013.8 301.5 L1017.7 308.4 Q1019.4 311.4 1019.9 314.9 L1020.8 320.9 Q1021.3 324.4 1024.3 326.2 L1036.9 333.7 Q1039.9 335.5 1042.6 337.7 L1045.4 340.0" fill="none" stroke="#7b7b80" stroke-width="1.9" stroke-linejoin="round"/>
<path d="M1045.4 300.0 L1044.1 307.7 Q1043.6 311.1 1040.7 313.1 L1029.8 320.3 Q1026.9 322.3 1025.6 325.6 L1022.5 333.8 Q1021.3 337.1 1019.4 340.0 L1015.8 345.3 Q1013.9 348.3 1011.0 350.2 L1002.7 355.7" fill="none" stroke="#7b7b80" stroke-width="1.9" stroke-linejoin="round"/>
<path d="M984.2 300.0 L977.1 308.4 Q974.9 311.1 971.7 312.5 L965.1 315.3 Q961.9 316.7 958.8 318.3 L950.2 322.6 Q947.1 324.1 944.4 326.4 L934.8 334.8 Q932.2 337.1 929.7 339.6 L929.1 340.2 Q926.6 342.7 924.7 339.8 L921.2 334.5 Q919.2 331.6 915.8 330.7 L915.2 330.5 Q911.8 329.7 911.4 333.2 L910.4 341.1 Q909.9 344.5 908.8 347.9 L907.3 352.4 Q906.2 355.7 902.8 355.2 L896.7 354.3 Q893.2 353.8 892.3 350.5 L890.5 344.2 Q889.5 340.8 888.1 337.6 L885.3 331.1 Q883.9 327.8 880.5 327.0 L879.9 326.8 Q876.5 326.0 873.8 328.2 L870.0 331.2 Q867.2 333.4 865.1 336.2 L863.8 338.0 Q861.7 340.8 858.9 342.9 L857.0 344.3 Q854.2 346.4 850.7 346.4 L850.3 346.4 Q846.8 346.4 844.1 348.6 L840.3 351.6 Q837.5 353.8 835.4 351.1 L832.3 347.3 Q830.1 344.5 826.7 343.7 L826.1 343.5 Q822.7 342.7 820.7 345.6 L817.2 350.9 Q815.3 353.8 814.8 357.3 L813.8 365.2 Q813.4 368.7 814.4 372.0 L816.2 378.3 Q817.1 381.7 814.1 383.5 L810.8 385.4 Q807.8 387.2 804.4 387.7 L796.5 388.7 Q793.0 389.1 790.0 390.8 L780.0 396.5" fill="none" stroke="#7b7b80" stroke-width="1.9" stroke-linejoin="round"/>
<path d="M926.6 342.7 L928.0 352.2 Q928.5 355.7 926.6 358.6 L923.0 363.9 Q921.1 366.8 917.9 368.4 L913.1 370.8 Q909.9 372.4 909.2 369.0 L906.2 355.7" fill="none" stroke="#7b7b80" stroke-width="1.9" stroke-linejoin="round"/>
<path d="M817.1 381.7 L821.5 393.2 Q822.7 396.5 821.8 399.9 L819.8 408.0 Q819.0 411.4 817.3 414.4 L811.4 425.0 Q809.7 428.1 811.4 431.1 L817.3 441.7 Q819.0 444.8 818.6 448.3 L817.5 458.0 Q817.1 461.5 815.7 464.7 L811.1 475.0 Q809.7 478.2 812.2 480.7 L812.8 481.3 Q815.3 483.8 818.7 484.4 L832.2 486.8 Q835.7 487.5 838.9 486.2 L845.0 483.8" fill="none" stroke="#7b7b80" stroke-width="1.9" stroke-linejoin="round"/>
<path d="M889.5 429.9 L885.5 437.9 Q883.9 441.1 880.7 442.3 L872.4 445.4 Q869.1 446.6 866.9 449.3 L862.1 455.1 Q859.8 457.8 857.5 460.4 L851.0 468.1 Q848.7 470.8 847.7 474.1 L845.9 480.4 Q845.0 483.8 848.2 485.0 L856.5 488.1 Q859.8 489.3 857.2 491.6 L849.5 498.2 Q846.8 500.5 844.6 503.2 L839.8 508.9 Q837.5 511.6 839.7 514.3 L845.0 520.9" fill="none" stroke="#7b7b80" stroke-width="1.9" stroke-linejoin="round"/>
<path d="M859.8 370.5 L866.4 375.8 Q869.1 378.0 872.4 376.9 L876.9 375.4 Q880.2 374.2 879.7 377.7 L878.9 383.8 Q878.4 387.2 875.4 389.0 L872.1 391.0 Q869.1 392.8 866.9 395.5 L862.1 401.3 Q859.8 403.9 856.3 403.5 L848.4 402.5 Q845.0 402.1 844.5 398.6 L843.6 392.6 Q843.1 389.1 845.3 386.4 L848.3 382.5 Q850.5 379.8 853.0 377.3 L859.8 370.5" fill="none" stroke="#7b7b80" stroke-width="1.9" stroke-linejoin="round"/>
<path d="M878.4 387.2 L887.6 401.0 Q889.5 403.9 890.1 407.4 L890.8 411.6 Q891.4 415.1 889.8 418.2 L887.4 423.1 Q885.8 426.2 882.9 424.3 L877.6 420.7 Q874.7 418.8 873.4 415.5 L870.3 407.2 Q869.1 403.9 869.1 400.4 L869.1 392.8" fill="none" stroke="#7b7b80" stroke-width="1.9" stroke-linejoin="round"/>
<path d="M845.0 520.9 L850.8 522.1 Q854.2 522.7 857.5 521.5 L865.8 518.4 Q869.1 517.2 872.3 515.9 L875.1 514.8 Q878.4 513.5 880.6 516.2 L883.6 520.0 Q885.8 522.7 889.3 522.2 L895.3 521.4 Q898.8 520.9 901.9 519.3 L906.8 516.9 Q909.9 515.3 913.1 513.7 L917.9 511.3 Q921.1 509.7 924.2 511.3 L928.5 513.5" fill="none" stroke="#7b7b80" stroke-width="1.9" stroke-linejoin="round"/>
<path d="M780.0 511.6 L793.2 510.1 Q796.7 509.7 799.6 507.7 L806.9 502.5 Q809.7 500.5 810.8 497.1 L815.3 483.8" fill="none" stroke="#7b7b80" stroke-width="1.9" stroke-linejoin="round"/>
<path d="M845.0 520.9 L849.4 534.3 Q850.5 537.6 850.0 541.1 L849.2 547.1 Q848.7 550.6 846.9 553.6 L843.0 560.5 Q841.3 563.6 843.2 566.5 L846.7 571.8 Q848.7 574.7 852.2 574.7 L858.2 574.7 Q861.7 574.7 862.1 578.2 L863.1 587.9 Q863.5 591.4 861.1 593.9 L856.7 598.2 Q854.2 600.7 856.6 603.3 L867.2 615.5" fill="none" stroke="#7b7b80" stroke-width="1.9" stroke-linejoin="round"/>
<path d="M780.0 582.1 L787.8 584.7 Q791.1 585.8 794.5 584.7 L804.5 581.4 Q807.8 580.3 810.7 582.3 L818.0 587.5 Q820.8 589.6 823.7 591.6 L831.0 596.8 Q833.8 598.8 837.3 598.8 L843.3 598.8 Q846.8 598.8 850.2 599.7 L854.2 600.7" fill="none" stroke="#7b7b80" stroke-width="1.9" stroke-linejoin="round"/>
<path d="M898.8 520.9 L906.4 534.5 Q908.1 537.6 907.7 541.1 L906.6 550.8 Q906.2 554.3 908.9 556.5 L914.7 561.3 Q917.4 563.6 918.2 567.0 L920.2 575.0 Q921.1 578.4 919.8 581.7 L916.7 590.0 Q915.5 593.3 918.4 595.2 L923.7 598.8 Q926.6 600.7 930.1 601.5 L939.9 603.6 Q943.3 604.4 942.5 607.8 L939.6 620.0" fill="none" stroke="#7b7b80" stroke-width="1.9" stroke-linejoin="round"/>
<path d="M921.1 578.4 L929.1 574.4 Q932.2 572.9 935.5 574.1 L943.8 577.2 Q947.1 578.4 950.5 577.7 L962.2 575.4 Q965.6 574.7 968.5 576.7 L973.8 580.2 Q976.8 582.1 980.0 580.8 L986.0 578.4" fill="none" stroke="#7b7b80" stroke-width="1.9" stroke-linejoin="round"/>
<path d="M943.3 604.4 L955.1 598.5 Q958.2 597.0 961.3 598.5 L969.9 602.8 Q973.0 604.4 976.5 605.0 L984.2 606.3" fill="none" stroke="#7b7b80" stroke-width="1.9" stroke-linejoin="round"/>
<path d="M700.0 583.7 L706.5 589.0 Q709.3 591.1 708.3 594.5 L706.5 600.8 Q705.6 604.1 706.9 607.3 L709.8 613.9 Q711.1 617.1 710.8 620.6 L709.6 632.2 Q709.3 635.7 711.8 638.2 L721.7 648.1 Q724.1 650.5 724.5 654.0 L725.6 663.8 Q726.0 667.2 724.0 670.1 L718.7 677.4 Q716.7 680.2 718.3 683.4 L724.1 695.1" fill="none" stroke="#7b7b80" stroke-width="1.9" stroke-linejoin="round"/>
<path d="M709.3 635.7 L730.1 643.7 Q733.4 645.0 736.7 643.8 L750.5 638.7 Q753.8 637.5 757.3 637.9 L767.1 639.0 Q770.5 639.4 773.7 640.8 L784.0 645.4 Q787.2 646.8 790.5 645.4 L797.0 642.6 Q800.2 641.3 803.4 642.8 L815.7 649.0 Q818.8 650.5 822.1 651.8 L830.4 654.9 Q833.6 656.1 836.9 654.8 L849.0 650.0 Q852.2 648.7 855.1 646.7 L860.4 643.2 Q863.3 641.3 866.8 640.6 L878.5 638.2 Q881.9 637.5 885.0 639.1 L889.9 641.5 Q893.0 643.1 896.4 642.2 L910.1 638.5 Q913.5 637.5 916.3 635.4 L925.5 628.5 Q928.3 626.4 930.4 623.6 L937.3 614.4 Q939.4 611.6 940.4 608.2 L942.2 601.9 Q943.2 598.6 946.2 596.8 L956.1 591.1" fill="none" stroke="#7b7b80" stroke-width="1.9" stroke-linejoin="round"/>
<path d="M818.8 650.5 L825.6 657.3 Q828.1 659.8 829.2 663.1 L832.5 673.2 Q833.6 676.5 831.7 679.4 L828.2 684.7 Q826.2 687.7 825.0 690.9 L820.6 702.5" fill="none" stroke="#7b7b80" stroke-width="1.9" stroke-linejoin="round"/>
<path d="M837.4 580.0 L846.0 588.7 Q848.5 591.1 851.2 593.3 L855.0 596.4 Q857.8 598.6 859.8 601.4 L865.0 608.7 Q867.1 611.6 866.1 614.9 L864.3 621.2 Q863.3 624.5 865.6 627.2 L870.4 633.0 Q872.6 635.7 876.1 636.4 L881.9 637.5" fill="none" stroke="#7b7b80" stroke-width="1.9" stroke-linejoin="round"/>
<path d="M913.5 650.5 L917.9 663.9 Q919.0 667.2 921.9 669.2 L927.3 672.7 Q930.2 674.7 931.4 677.9 L934.5 686.2 Q935.7 689.5 938.5 690.4 L941.3 691.4" fill="none" stroke="#7b7b80" stroke-width="1.9" stroke-linejoin="round"/>
<path d="M919.0 667.2 L906.5 681.3 Q904.2 683.9 901.9 686.6 L897.1 692.4 Q894.9 695.1 894.0 698.5 L892.0 706.5 Q891.2 709.9 889.5 713.0 L883.6 723.6 Q881.9 726.6 880.8 730.0 L877.4 740.0 Q876.3 743.3 875.9 746.8 L874.9 754.7 Q874.5 758.2 871.6 760.1 L866.3 763.7 Q863.3 765.6 860.1 766.8 L851.8 770.0 Q848.5 771.2 845.0 770.6 L840.8 769.9 Q837.4 769.3 835.4 766.4 L831.9 761.1 Q829.9 758.2 829.9 754.7 L829.9 747.1" fill="none" stroke="#7b7b80" stroke-width="1.9" stroke-linejoin="round"/>
<path d="M724.1 695.1 L735.9 725.2 Q737.1 728.5 740.6 728.5 L759.6 728.5 Q763.1 728.5 764.8 731.5 L768.8 738.4 Q770.5 741.5 769.8 744.9 L767.6 754.8 Q766.8 758.2 769.5 760.4 L775.3 765.2 Q778.0 767.5 780.0 770.3 L785.2 777.6 Q787.2 780.5 785.9 783.7 L783.0 790.2 Q781.7 793.5 779.7 796.4 L776.2 801.7 Q774.2 804.6 774.2 808.1 L774.2 815.9 Q774.2 819.4 771.3 821.4 L766.0 824.9 Q763.1 826.9 760.5 829.1 L752.8 835.7 Q750.1 838.0 747.5 840.3 L739.8 846.9 Q737.1 849.1 736.7 852.6 L735.3 865.8" fill="none" stroke="#7b7b80" stroke-width="1.9" stroke-linejoin="round"/>
<path d="M770.5 741.5 L784.5 752.3 Q787.2 754.5 790.7 755.2 L800.5 757.4 Q803.9 758.2 806.4 755.7 L812.6 749.5 Q815.1 747.1 818.6 747.1 L826.4 747.1 Q829.9 747.1 831.9 750.0 L837.4 758.2" fill="none" stroke="#7b7b80" stroke-width="1.9" stroke-linejoin="round"/>
<path d="M874.5 758.2 L883.1 766.9 Q885.6 769.3 888.9 770.6 L897.2 773.7 Q900.5 774.9 901.1 778.3 L904.2 795.3" fill="none" stroke="#7b7b80" stroke-width="1.9" stroke-linejoin="round"/>
<g stroke="#777" stroke-width="1.6" fill="none" stroke-linecap="round">
<path d="M1019.4 828.4 L1004.5 851.5 M983.1 900.7 L972 926.7"/>
<path d="M994.5 626.7 L994.1 630.1 L993.5 633.4 L993.1 636.8 L991.9 640.0 L991.5 642.4 L990.3 646.2 L992.2 649.0 L994.3 651.8 L994.5 655.1 L996.0 658.0 L995.0 661.7 L992.7 664.3 L989.7 665.6 L987.3 668.1 L985.1 669.3 L983.0 671.9 L982.8 675.1 L982.2 678.1 L983.0 681.5 L981.7 684.8 L978.8 686.7 L978.5 690.2 L975.5 692.0 L975.0 695.2 L972.3 697.2 L970.4 699.7 L970.6 703.6 L967.4 705.1 L965.6 707.6 L965.3 711.2 L963.2 713.6 L960.2 715.2 L960.1 717.6 L958.7 720.8 L958.6 724.2 L957.1 727.4 L958.5 730.9 L957.2 734.9 L955.6 737.9 L953.3 740.3 L950.0 741.8 L948.0 744.4 L945.4 746.6 L943.3 749.0 L941.2 751.7 L939.8 754.8 L938.6 758.0 L935.5 759.9 L935.0 763.6 L932.4 766.0 L930.2 768.4 L929.0 771.7 L926.2 773.6 L923.7 775.9 L921.8 778.6 L920.0 781.5 L916.4 782.9 L915.6 786.9 L911.4 787.7 L910.2 791.5 L907.9 794.1 L904.0 795.2 L903.7 799.0 L901.0 801.2 L899.6 804.3 L896.7 806.1 L893.8 807.3 L891.0 808.7 L888.7 811.6 L885.2 810.9 L882.7 813.2 L879.9 814.7 L876.5 815.9 L873.2 814.7 L870.0 815.0 L866.8 815.7 L863.7 816.6 L860.4 815.2 L857.3 817.0 L855.0 817.0 L852.8 819.0 L849.1 819.3 L848.2 822.9 L844.5 823.1 L842.5 825.4 L840.5 827.8 L838.0 830.6 L834.2 830.3 L831.3 832.8 L827.7 833.1 L824.1 833.6 L820.8 834.7 L817.9 836.0 L815.0 837.3 L812.3 839.0 L810.2 841.7 L807.7 844.0 L803.9 843.7 L800.9 844.0 L798.4 846.8 L795.2 846.3 L792.2 846.5 L789.1 846.6 L786.3 848.1 L783.4 849.2 L780.3 848.8 L777.3 849.3" stroke="#6d6d74" stroke-width="2.3" stroke-linejoin="round"/>
<path d="M998.8 632.2 l-1.9 2.0 M1000.0 640.8 l0.9 2.9 M1001.4 656.5 l-1.6 1.9 M997.5 669.3 l-0.8 1.9 M992.0 677.0 l1.9 1.9 M988.1 689.2 l-0.1 1.6 M981.0 696.1 l-0.5 3.0 M976.2 708.9 l-0.0 1.7 M964.6 716.8 l1.1 2.7 M962.9 732.1 l1.1 2.4 M960.6 744.8 l-0.5 2.4 M948.7 752.0 l1.1 2.4 M941.0 765.6 l0.6 2.2 M933.0 775.0 l-1.0 2.3 M926.3 786.4 l0.6 2.6 M916.0 795.3 l1.0 2.7 M906.8 806.2 l1.5 2.4 M899.9 814.4 l0.1 2.1 M884.8 819.7 l1.7 2.0 M874.3 820.0 l0.9 1.3 M862.9 820.5 l0.7 1.8 M851.6 827.7 l0.5 2.4 M838.4 831.3 l-0.2 2.3 M825.9 838.8 l0.5 1.1 M816.5 843.1 l-1.8 1.3 M803.9 847.9 l-1.2 1.1 M792.6 850.3 l0.4 2.2" stroke="#777" stroke-width="1.4"/>
<path d="M1010 603 l-3 3 l4 2 l-5 3 l5 2 l-6 3 l4 3 l-5 2 l3 4 l-5 2 l3 3 l-4 3 M1013 606 l-2 4 l3 3 M1001 618 l3 5 l-3 4" stroke="#666" stroke-width="2.2"/>
<path d="M836 826 l3 3 l-4 2 l5 1 l-3 3 M843 824 l2 4 M829 830 l3 3 M996 648 l2 5 M998 668 l-2 5 M990 690 l-1 4 M975 700 l-2 4 M966 712 l-2 3 M960 726 l1 4" stroke="#6a6a70" stroke-width="2"/>
</g>
<g fill="#666"><circle cx="902.4" cy="865.5" r="2"/><circle cx="834.7" cy="907.2" r="1.8"/><circle cx="960" cy="789.4" r="2.2"/></g>
</g>
<g id="inset">
<g fill="none" stroke="#4c4c4c" stroke-width="2.2" stroke-linejoin="round" stroke-linecap="round">
<path d="M-0.1 20.6 L7.2 15.9 L15.5 12.2 L22.2 15.0 L28.2 11.9 L35.6 10.6 L43.2 6.9 L50.0 4.5 L54.5 7.2 L53.4 15.0 L58.9 20.6 L57.8 28.4 L53.4 39.5 L44.5 47.3 L38.9 52.9 L33.2 50.4 L28.9 49.6 L24.2 51.9 L21.1 50.7 L13.3 45.1 L11.1 38.4 L6.2 35.9 L1.0 35.1"/>
<path d="M58.9 20.6 L62.3 16.1 L71.2 12.8 L81.2 12.8 L84.6 20.6 L94.6 18.4 L102.4 18.4 L106.8 23.9 L114.6 21.7"/>
<path d="M130.2 0.9 L126.9 9.5 L120.2 15.9 L114.6 21.7 L103.5 31.7 L91.2 38.4 L84.2 40.4 L79.0 45.1 L70.2 47.4 L62.3 50.7 L48.9 54.0 L42.2 55.1 L43.2 60.9 L44.5 65.1"/>
<path d="M127.2 2.9 L123.7 9.9 L111.2 22.4 L100.2 31.4 L88.2 37.4 L76.2 43.9 L61.2 48.9 L45.2 52.9" stroke-width="1.3"/>
<path d="M52.2 68.5 L48.9 77.4 L43.2 82.9 L37.8 86.3 L32.2 84.9 L28.9 81.9 L28.9 75.2 L35.6 69.6 L44.5 66.3 Z"/>
<path d="M35.6 1 L36.5 6 M77.3 1 V12.8 M100.2 1 L95.7 17.3"/>
</g>
<g fill="none" stroke="#6a6a6a" stroke-width="1.7" stroke-linecap="round">
<path d="M146.9 9.5 L150.2 12.8 L149.7 18.9 L148.0 23.9 L143.6 35.1 L141.4 42.9 L137.2 37.9 L134.7 32.9 L136.9 21.7 L141.4 11.7 Z"/>
<path d="M156.4 12.8 L156.9 26.2 M152.5 44.0 L146.9 54.0 M138.0 72.9 L133.6 84.1 M131.3 104.1 L132.4 114.1 M34.4 105.2 L41.1 117.5 M44.6 147.5 L42.7 158.6 M133.6 147.5 L130.8 158.6 M107.6 192 L102.1 199.4 M22.3 203.1 L23.2 214.2 M64 246 L70 240 L75 244 L66 246"/>
<path d="M94.8 184.4 l2.4 -1.9 M82.2 198.8 l1.2 -1.7 M116.5 161.6 l2.2 -2.2 M93.4 195.9 l2.5 -2.2 M101.0 173.3 l1.8 -1.4 M93.0 194.3 l3.1 -1.9 M114.3 165.8 l2.3 -1.2 M120.4 152.1 l1.0 -1.8 M115.1 159.4 l1.7 -2.2 M96.5 181.9 l2.9 -2.3 M113.5 174.4 l3.0 -1.0 M96.9 196.9 l2.7 -1.1 M104.4 172.8 l1.7 -1.4 M93.9 201.3 l1.5 -3.2 M94.4 176.3 l3.2 -1.8 M89.9 187.0 l2.0 -1.2 M120.2 160.9 l2.2 -0.7 M90.7 185.4 l1.3 -2.2 M100.5 164.3 l2.1 -0.9 M121.3 155.7 l2.0 -2.0 M107.7 171.2 l3.1 -2.3 M101.2 179.2 l1.2 -1.9 M116.6 157.7 l0.9 -2.4 M97.7 174.7 l1.3 -1.0 M105.3 173.8 l2.1 -2.5 M102.5 159.4 l3.2 -2.2" stroke-width="1.2"/>
</g>
<g fill="#777">
<circle cx="58.9" cy="105.2" r="1.9"/>
<circle cx="56.2" cy="100.9" r="1.0"/>
<circle cx="62.2" cy="101.4" r="1.0"/>
<circle cx="64.2" cy="105.9" r="1.0"/>
<circle cx="60.2" cy="108.9" r="0.9"/>
<circle cx="119.1" cy="113.0" r="1.3"/>
<circle cx="105.7" cy="58.5" r="1.3"/>
<circle cx="129.1" cy="28.4" r="1.6"/>
<circle cx="59.4" cy="195.7" r="1.3"/>
<circle cx="44.6" cy="193.8" r="1.2"/>
<circle cx="70.5" cy="218.0" r="1.4"/>
<ellipse cx="84.6" cy="108.6" rx="6" ry="2.8" transform="rotate(-28 84.6 108.6)"/>
</g>
</g>
</defs>
<g filter="url(#bl)">
<path d="M16.8 17.3 H1209.8 V965.3 H16.8 Z M19.5 19.5 H1207.5 V963.9 H19.5 Z" fill="#9c9c9c" fill-rule="evenodd"/>
<path d="M19.5 19.5 H1207.5 V963.9 H19.5 Z M23.2 21.8 H1202.6 V959.0 H23.2 Z" fill="#0a0a0a" fill-rule="evenodd"/>
<g transform="translate(0.0 0.0)">
<use href="#map"/>
<g fill="#ffa200">
<circle cx="107.7" cy="294.2" r="6.0"/><circle cx="116.0" cy="293.3" r="6.0"/><circle cx="173.5" cy="291.4" r="6.0"/><circle cx="160.6" cy="305.3" r="6.0"/><circle cx="202.3" cy="284.9" r="6.0"/><circle cx="213.5" cy="303.5" r="6.0"/><circle cx="233.9" cy="277.5" r="6.0"/><circle cx="251.5" cy="284.9" r="6.0"/><circle cx="245.9" cy="295.1" r="6.0"/><circle cx="274.7" cy="288.6" r="6.0"/><circle cx="257.1" cy="205.1" r="6.0"/><circle cx="269.1" cy="216.2" r="6.0"/><circle cx="285.8" cy="165.2" r="6.0"/><circle cx="290.5" cy="187.5" r="6.0"/><circle cx="309.0" cy="201.4" r="6.0"/><circle cx="299.8" cy="229.2" r="6.0"/><circle cx="318.3" cy="237.6" r="6.0"/><circle cx="335.0" cy="245.0" r="6.0"/><circle cx="347.1" cy="246.9" r="6.0"/><circle cx="347.1" cy="254.3" r="6.0"/><circle cx="355.5" cy="270.1" r="6.0"/><circle cx="317.4" cy="275.6" r="6.0"/><circle cx="318.3" cy="294.2" r="6.0"/><circle cx="301.6" cy="297.9" r="6.0"/><circle cx="307.2" cy="309.0" r="6.0"/><circle cx="370.3" cy="283.1" r="6.0"/><circle cx="387.0" cy="288.6" r="6.0"/><circle cx="381.4" cy="259.9" r="6.0"/><circle cx="332.3" cy="176.3" r="6.0"/><circle cx="338.7" cy="161.5" r="6.0"/><circle cx="349.9" cy="149.4" r="6.0"/><circle cx="355.5" cy="159.6" r="6.0"/><circle cx="362.9" cy="175.4" r="6.0"/><circle cx="375.9" cy="163.3" r="6.0"/><circle cx="399.1" cy="230.2" r="6.0"/><circle cx="137.4" cy="317.4" r="6.0"/><circle cx="415.3" cy="286.5" r="6.0"/><circle cx="439.4" cy="281.0" r="6.0"/><circle cx="445.0" cy="302.3" r="6.0"/><circle cx="474.7" cy="282.8" r="6.0"/><circle cx="467.2" cy="294.0" r="6.0"/><circle cx="461.7" cy="336.7" r="6.0"/><circle cx="504.4" cy="335.7" r="6.0"/><circle cx="600.9" cy="357.1" r="6.0"/><circle cx="455.2" cy="370.1" r="6.0"/><circle cx="476.5" cy="362.6" r="6.0"/><circle cx="499.7" cy="372.9" r="6.0"/><circle cx="545.2" cy="377.5" r="6.0"/><circle cx="532.2" cy="383.1" r="6.0"/><circle cx="523.9" cy="388.6" r="6.0"/><circle cx="425.5" cy="399.8" r="6.0"/><circle cx="548.9" cy="400.7" r="6.0"/><circle cx="554.5" cy="409.0" r="6.0"/><circle cx="583.2" cy="408.1" r="6.0"/><circle cx="571.2" cy="415.5" r="6.0"/><circle cx="643.6" cy="389.6" r="6.0"/><circle cx="661.2" cy="399.8" r="6.0"/><circle cx="675.1" cy="359.9" r="6.0"/><circle cx="691.8" cy="377.5" r="6.0"/><circle cx="714.1" cy="357.1" r="6.0"/><circle cx="748.4" cy="354.3" r="6.0"/><circle cx="742.9" cy="333.9" r="6.0"/><circle cx="771.6" cy="353.4" r="6.0"/><circle cx="764.2" cy="362.6" r="6.0"/><circle cx="769.8" cy="374.7" r="6.0"/><circle cx="738.2" cy="383.1" r="6.0"/><circle cx="740.1" cy="399.8" r="6.0"/><circle cx="763.3" cy="411.8" r="6.0"/><circle cx="678.8" cy="415.5" r="6.0"/><circle cx="703.0" cy="417.4" r="6.0"/><circle cx="723.4" cy="417.4" r="6.0"/><circle cx="775.4" cy="306.0" r="6.0"/><circle cx="380.0" cy="404.4" r="6.0"/><circle cx="969.3" cy="71.0" r="6.0"/><circle cx="966.5" cy="89.6" r="6.0"/><circle cx="1001.8" cy="82.2" r="6.0"/><circle cx="1021.3" cy="116.5" r="6.0"/><circle cx="1022.2" cy="137.9" r="6.0"/><circle cx="967.5" cy="121.2" r="6.0"/><circle cx="905.3" cy="133.2" r="6.0"/><circle cx="965.6" cy="151.8" r="6.0"/><circle cx="989.7" cy="149.9" r="6.0"/><circle cx="899.7" cy="159.2" r="6.0"/><circle cx="936.8" cy="166.6" r="6.0"/><circle cx="859.8" cy="154.6" r="6.0"/><circle cx="853.3" cy="176.8" r="6.0"/><circle cx="878.4" cy="186.1" r="6.0"/><circle cx="952.6" cy="184.3" r="6.0"/><circle cx="982.3" cy="185.2" r="6.0"/><circle cx="974.0" cy="196.3" r="6.0"/><circle cx="963.8" cy="200.0" r="6.0"/><circle cx="932.2" cy="221.4" r="6.0"/><circle cx="970.3" cy="221.4" r="6.0"/><circle cx="948.0" cy="233.5" r="6.0"/><circle cx="961.9" cy="242.7" r="6.0"/><circle cx="861.7" cy="255.7" r="6.0"/><circle cx="1002.7" cy="174.1" r="6.0"/><circle cx="1013.9" cy="168.5" r="6.0"/><circle cx="1055.6" cy="175.0" r="6.0"/><circle cx="1024.1" cy="187.1" r="6.0"/><circle cx="1008.3" cy="197.3" r="6.0"/><circle cx="1044.5" cy="195.4" r="6.0"/><circle cx="1028.7" cy="207.5" r="6.0"/><circle cx="1001.8" cy="217.7" r="6.0"/><circle cx="1025.0" cy="225.1" r="6.0"/><circle cx="1003.7" cy="234.4" r="6.0"/><circle cx="987.0" cy="241.8" r="6.0"/><circle cx="1023.2" cy="237.2" r="6.0"/><circle cx="1019.4" cy="250.2" r="6.0"/><circle cx="1000.0" cy="250.2" r="6.0"/><circle cx="985.1" cy="254.8" r="6.0"/><circle cx="969.3" cy="262.2" r="6.0"/><circle cx="987.0" cy="273.4" r="6.0"/><circle cx="1007.4" cy="266.9" r="6.0"/><circle cx="1010.2" cy="277.1" r="6.0"/><circle cx="1018.5" cy="285.4" r="6.0"/><circle cx="1048.2" cy="277.1" r="6.0"/><circle cx="1064.9" cy="282.6" r="6.0"/><circle cx="1051.9" cy="238.1" r="6.0"/><circle cx="1085.3" cy="249.2" r="6.0"/><circle cx="1111.3" cy="247.4" r="6.0"/><circle cx="1061.2" cy="217.7" r="6.0"/><circle cx="1075.1" cy="206.5" r="6.0"/><circle cx="1084.4" cy="192.6" r="6.0"/><circle cx="1093.7" cy="215.8" r="6.0"/><circle cx="1102.0" cy="226.0" r="6.0"/><circle cx="1117.8" cy="195.4" r="6.0"/><circle cx="1134.5" cy="206.5" r="6.0"/><circle cx="1110.4" cy="175.0" r="6.0"/><circle cx="1116.9" cy="162.9" r="6.0"/><circle cx="1092.8" cy="278.9" r="6.0"/><circle cx="1090.0" cy="289.1" r="6.0"/><circle cx="1084.4" cy="298.4" r="6.0"/><circle cx="1041.7" cy="295.6" r="6.0"/><circle cx="1023.2" cy="310.5" r="6.0"/><circle cx="1011.1" cy="304.0" r="6.0"/><circle cx="997.2" cy="300.3" r="6.0"/><circle cx="993.5" cy="313.3" r="6.0"/><circle cx="981.4" cy="292.9" r="6.0"/><circle cx="959.1" cy="292.9" r="6.0"/><circle cx="941.5" cy="294.7" r="6.0"/><circle cx="932.2" cy="272.4" r="6.0"/><circle cx="907.1" cy="290.1" r="6.0"/><circle cx="883.0" cy="300.3" r="6.0"/><circle cx="874.7" cy="278.0" r="6.0"/><circle cx="848.7" cy="295.6" r="6.0"/><circle cx="829.2" cy="294.7" r="6.0"/><circle cx="805.1" cy="299.4" r="6.0"/><circle cx="814.3" cy="280.8" r="6.0"/><circle cx="903.4" cy="316.1" r="6.0"/><circle cx="901.6" cy="331.8" r="6.0"/><circle cx="935.0" cy="328.1" r="6.0"/><circle cx="793.9" cy="333.7" r="6.0"/><circle cx="858.0" cy="335.5" r="6.0"/><circle cx="1012.0" cy="324.4" r="6.0"/><circle cx="1030.6" cy="330.0" r="6.0"/><circle cx="973.0" cy="324.4" r="6.0"/><circle cx="958.2" cy="333.7" r="6.0"/><circle cx="995.3" cy="333.7" r="6.0"/><circle cx="125.4" cy="329.2" r="6.0"/><circle cx="138.4" cy="354.2" r="6.0"/><circle cx="329.6" cy="332.9" r="6.0"/><circle cx="164.4" cy="376.5" r="6.0"/><circle cx="194.1" cy="392.3" r="6.0"/><circle cx="215.4" cy="392.3" r="6.0"/><circle cx="275.7" cy="382.1" r="6.0"/><circle cx="329.6" cy="372.8" r="6.0"/><circle cx="423.3" cy="447.1" r="6.0"/><circle cx="210.8" cy="512.0" r="6.0"/><circle cx="795.4" cy="369.6" r="6.0"/><circle cx="787.0" cy="394.7" r="6.0"/><circle cx="585.6" cy="432.7" r="6.0"/><circle cx="608.8" cy="424.4" r="6.0"/><circle cx="603.2" cy="442.0" r="6.0"/><circle cx="459.4" cy="427.1" r="6.0"/><circle cx="495.6" cy="443.9" r="6.0"/><circle cx="446.4" cy="459.6" r="6.0"/><circle cx="475.2" cy="463.3" r="6.0"/><circle cx="516.0" cy="457.8" r="6.0"/><circle cx="528.1" cy="462.4" r="6.0"/><circle cx="506.7" cy="471.7" r="6.0"/><circle cx="549.4" cy="451.3" r="6.0"/><circle cx="579.1" cy="468.0" r="6.0"/><circle cx="602.3" cy="458.7" r="6.0"/><circle cx="625.5" cy="459.6" r="6.0"/><circle cx="599.5" cy="480.0" r="6.0"/><circle cx="621.8" cy="480.0" r="6.0"/><circle cx="635.7" cy="476.3" r="6.0"/><circle cx="624.6" cy="493.0" r="6.0"/><circle cx="569.8" cy="484.7" r="6.0"/><circle cx="641.3" cy="505.1" r="6.0"/><circle cx="631.1" cy="601.6" r="6.0"/><circle cx="609.7" cy="610.0" r="6.0"/><circle cx="658.0" cy="600.7" r="6.0"/><circle cx="672.9" cy="593.3" r="6.0"/><circle cx="656.1" cy="576.6" r="6.0"/><circle cx="661.7" cy="558.0" r="6.0"/><circle cx="678.4" cy="548.7" r="6.0"/><circle cx="680.3" cy="563.6" r="6.0"/><circle cx="699.8" cy="553.4" r="6.0"/><circle cx="706.3" cy="564.5" r="6.0"/><circle cx="698.8" cy="578.4" r="6.0"/><circle cx="698.8" cy="588.6" r="6.0"/><circle cx="720.2" cy="572.9" r="6.0"/><circle cx="739.7" cy="545.9" r="6.0"/><circle cx="732.3" cy="593.3" r="6.0"/><circle cx="754.5" cy="565.4" r="6.0"/><circle cx="756.4" cy="589.6" r="6.0"/><circle cx="761.9" cy="539.4" r="6.0"/><circle cx="774.0" cy="547.8" r="6.0"/><circle cx="767.5" cy="555.2" r="6.0"/><circle cx="778.7" cy="585.8" r="6.0"/><circle cx="792.6" cy="562.6" r="6.0"/><circle cx="778.7" cy="597.0" r="6.0"/><circle cx="677.5" cy="520.0" r="6.0"/><circle cx="687.7" cy="529.2" r="6.0"/><circle cx="704.4" cy="525.5" r="6.0"/><circle cx="715.5" cy="530.2" r="6.0"/><circle cx="721.1" cy="519.0" r="6.0"/><circle cx="732.3" cy="522.7" r="6.0"/><circle cx="743.4" cy="525.5" r="6.0"/><circle cx="756.4" cy="521.8" r="6.0"/><circle cx="765.7" cy="513.5" r="6.0"/><circle cx="774.9" cy="506.0" r="6.0"/><circle cx="789.8" cy="501.4" r="6.0"/><circle cx="789.8" cy="520.9" r="6.0"/><circle cx="693.3" cy="500.5" r="6.0"/><circle cx="697.0" cy="511.6" r="6.0"/><circle cx="728.5" cy="498.6" r="6.0"/><circle cx="750.8" cy="504.2" r="6.0"/><circle cx="767.5" cy="494.9" r="6.0"/><circle cx="787.0" cy="489.3" r="6.0"/><circle cx="754.5" cy="489.3" r="6.0"/><circle cx="730.4" cy="479.1" r="6.0"/><circle cx="743.4" cy="479.1" r="6.0"/><circle cx="760.1" cy="475.4" r="6.0"/><circle cx="778.7" cy="467.1" r="6.0"/><circle cx="687.7" cy="478.2" r="6.0"/><circle cx="704.4" cy="469.8" r="6.0"/><circle cx="676.6" cy="504.2" r="6.0"/><circle cx="658.0" cy="461.5" r="6.0"/><circle cx="656.1" cy="476.3" r="6.0"/><circle cx="646.9" cy="453.1" r="6.0"/><circle cx="656.1" cy="453.1" r="6.0"/><circle cx="667.3" cy="441.1" r="6.0"/><circle cx="665.4" cy="428.1" r="6.0"/><circle cx="658.0" cy="421.6" r="6.0"/><circle cx="692.3" cy="451.3" r="6.0"/><circle cx="719.3" cy="452.2" r="6.0"/><circle cx="728.5" cy="442.9" r="6.0"/><circle cx="736.0" cy="437.4" r="6.0"/><circle cx="749.0" cy="423.4" r="6.0"/><circle cx="762.9" cy="431.8" r="6.0"/><circle cx="774.9" cy="421.6" r="6.0"/><circle cx="789.8" cy="409.5" r="6.0"/><circle cx="791.6" cy="423.4" r="6.0"/><circle cx="745.2" cy="455.9" r="6.0"/><circle cx="761.9" cy="456.8" r="6.0"/><circle cx="789.8" cy="454.1" r="6.0"/><circle cx="797.2" cy="463.3" r="6.0"/><circle cx="706.3" cy="608.1" r="6.0"/><circle cx="687.7" cy="610.0" r="6.0"/><circle cx="726.7" cy="613.7" r="6.0"/><circle cx="752.7" cy="610.0" r="6.0"/><circle cx="814.3" cy="346.4" r="6.0"/><circle cx="882.1" cy="341.8" r="6.0"/><circle cx="917.4" cy="352.0" r="6.0"/><circle cx="932.2" cy="346.4" r="6.0"/><circle cx="945.2" cy="346.4" r="6.0"/><circle cx="1023.2" cy="340.8" r="6.0"/><circle cx="1039.9" cy="341.8" r="6.0"/><circle cx="999.0" cy="344.5" r="6.0"/><circle cx="1013.9" cy="355.7" r="6.0"/><circle cx="979.5" cy="352.0" r="6.0"/><circle cx="962.8" cy="355.7" r="6.0"/><circle cx="971.2" cy="361.3" r="6.0"/><circle cx="826.4" cy="364.0" r="6.0"/><circle cx="830.1" cy="374.2" r="6.0"/><circle cx="843.1" cy="381.7" r="6.0"/><circle cx="852.4" cy="380.7" r="6.0"/><circle cx="862.6" cy="361.3" r="6.0"/><circle cx="886.7" cy="365.0" r="6.0"/><circle cx="868.2" cy="381.7" r="6.0"/><circle cx="888.6" cy="383.5" r="6.0"/><circle cx="907.1" cy="377.0" r="6.0"/><circle cx="922.9" cy="365.9" r="6.0"/><circle cx="937.8" cy="368.7" r="6.0"/><circle cx="934.1" cy="377.0" r="6.0"/><circle cx="920.1" cy="389.1" r="6.0"/><circle cx="987.9" cy="369.6" r="6.0"/><circle cx="1008.3" cy="375.2" r="6.0"/><circle cx="984.2" cy="386.3" r="6.0"/><circle cx="967.5" cy="376.1" r="6.0"/><circle cx="965.6" cy="388.2" r="6.0"/><circle cx="805.1" cy="391.0" r="6.0"/><circle cx="817.1" cy="383.5" r="6.0"/><circle cx="826.4" cy="397.4" r="6.0"/><circle cx="820.8" cy="407.7" r="6.0"/><circle cx="861.7" cy="396.5" r="6.0"/><circle cx="876.5" cy="396.5" r="6.0"/><circle cx="895.1" cy="400.2" r="6.0"/><circle cx="908.1" cy="403.0" r="6.0"/><circle cx="900.6" cy="409.5" r="6.0"/><circle cx="860.7" cy="411.4" r="6.0"/><circle cx="873.7" cy="412.3" r="6.0"/><circle cx="955.4" cy="411.4" r="6.0"/><circle cx="963.8" cy="409.5" r="6.0"/><circle cx="844.0" cy="422.5" r="6.0"/><circle cx="851.5" cy="435.5" r="6.0"/><circle cx="867.2" cy="438.3" r="6.0"/><circle cx="881.2" cy="429.0" r="6.0"/><circle cx="824.5" cy="440.1" r="6.0"/><circle cx="810.6" cy="447.6" r="6.0"/><circle cx="826.4" cy="463.3" r="6.0"/><circle cx="845.0" cy="456.8" r="6.0"/><circle cx="867.2" cy="457.8" r="6.0"/><circle cx="886.7" cy="450.3" r="6.0"/><circle cx="905.3" cy="447.6" r="6.0"/><circle cx="940.6" cy="442.9" r="6.0"/><circle cx="957.3" cy="443.9" r="6.0"/><circle cx="975.8" cy="442.9" r="6.0"/><circle cx="959.1" cy="461.5" r="6.0"/><circle cx="920.1" cy="465.2" r="6.0"/><circle cx="935.9" cy="463.3" r="6.0"/><circle cx="944.3" cy="480.0" r="6.0"/><circle cx="888.6" cy="469.8" r="6.0"/><circle cx="881.2" cy="474.5" r="6.0"/><circle cx="880.2" cy="482.8" r="6.0"/><circle cx="901.6" cy="481.9" r="6.0"/><circle cx="802.3" cy="485.6" r="6.0"/><circle cx="822.7" cy="490.3" r="6.0"/><circle cx="852.4" cy="483.8" r="6.0"/><circle cx="876.5" cy="499.5" r="6.0"/><circle cx="898.8" cy="504.2" r="6.0"/><circle cx="916.4" cy="495.8" r="6.0"/><circle cx="930.3" cy="496.8" r="6.0"/><circle cx="819.0" cy="507.0" r="6.0"/><circle cx="851.5" cy="511.6" r="6.0"/><circle cx="924.8" cy="511.6" r="6.0"/><circle cx="807.8" cy="527.4" r="6.0"/><circle cx="826.4" cy="520.9" r="6.0"/><circle cx="851.5" cy="528.3" r="6.0"/><circle cx="869.1" cy="527.4" r="6.0"/><circle cx="887.7" cy="530.2" r="6.0"/><circle cx="902.5" cy="526.5" r="6.0"/><circle cx="908.1" cy="519.0" r="6.0"/><circle cx="926.6" cy="526.5" r="6.0"/><circle cx="919.2" cy="533.9" r="6.0"/><circle cx="941.5" cy="536.7" r="6.0"/><circle cx="802.3" cy="545.0" r="6.0"/><circle cx="819.9" cy="538.5" r="6.0"/><circle cx="832.9" cy="545.0" r="6.0"/><circle cx="858.0" cy="542.2" r="6.0"/><circle cx="871.0" cy="540.4" r="6.0"/><circle cx="883.9" cy="545.0" r="6.0"/><circle cx="906.2" cy="541.3" r="6.0"/><circle cx="922.9" cy="542.2" r="6.0"/><circle cx="954.5" cy="546.9" r="6.0"/><circle cx="909.9" cy="550.6" r="6.0"/><circle cx="950.8" cy="558.0" r="6.0"/><circle cx="873.7" cy="555.2" r="6.0"/><circle cx="915.5" cy="558.9" r="6.0"/><circle cx="935.0" cy="561.7" r="6.0"/><circle cx="820.8" cy="566.4" r="6.0"/><circle cx="858.0" cy="565.4" r="6.0"/><circle cx="891.4" cy="563.6" r="6.0"/><circle cx="898.8" cy="570.1" r="6.0"/><circle cx="909.9" cy="572.9" r="6.0"/><circle cx="880.2" cy="576.6" r="6.0"/><circle cx="856.1" cy="584.0" r="6.0"/><circle cx="937.8" cy="576.6" r="6.0"/><circle cx="958.2" cy="569.1" r="6.0"/><circle cx="967.5" cy="574.7" r="6.0"/><circle cx="922.9" cy="584.0" r="6.0"/><circle cx="947.1" cy="584.0" r="6.0"/><circle cx="965.6" cy="589.6" r="6.0"/><circle cx="978.6" cy="592.3" r="6.0"/><circle cx="938.7" cy="595.1" r="6.0"/><circle cx="875.6" cy="591.4" r="6.0"/><circle cx="891.4" cy="591.4" r="6.0"/><circle cx="902.5" cy="595.1" r="6.0"/><circle cx="809.7" cy="584.0" r="6.0"/><circle cx="824.5" cy="589.6" r="6.0"/><circle cx="798.6" cy="587.7" r="6.0"/><circle cx="810.6" cy="599.8" r="6.0"/><circle cx="827.3" cy="600.7" r="6.0"/><circle cx="795.8" cy="610.0" r="6.0"/><circle cx="844.0" cy="610.0" r="6.0"/><circle cx="874.7" cy="604.4" r="6.0"/><circle cx="887.7" cy="611.8" r="6.0"/><circle cx="906.2" cy="610.0" r="6.0"/><circle cx="921.1" cy="604.4" r="6.0"/><circle cx="950.8" cy="608.1" r="6.0"/><circle cx="974.9" cy="613.7" r="6.0"/><circle cx="930.3" cy="615.5" r="6.0"/><circle cx="959.1" cy="600.7" r="6.0"/><circle cx="860.6" cy="619.0" r="6.0"/><circle cx="873.5" cy="623.6" r="6.0"/><circle cx="887.5" cy="622.7" r="6.0"/><circle cx="823.4" cy="616.2" r="6.0"/><circle cx="806.7" cy="622.7" r="6.0"/><circle cx="829.9" cy="627.3" r="6.0"/><circle cx="848.5" cy="630.1" r="6.0"/><circle cx="786.3" cy="630.1" r="6.0"/><circle cx="763.1" cy="635.7" r="6.0"/><circle cx="757.5" cy="615.3" r="6.0"/><circle cx="734.3" cy="624.5" r="6.0"/><circle cx="706.5" cy="620.8" r="6.0"/><circle cx="720.4" cy="630.1" r="6.0"/><circle cx="765.9" cy="619.9" r="6.0"/><circle cx="910.7" cy="627.3" r="6.0"/><circle cx="902.3" cy="635.7" r="6.0"/><circle cx="915.3" cy="635.7" r="6.0"/><circle cx="946.9" cy="624.5" r="6.0"/><circle cx="958.0" cy="623.6" r="6.0"/><circle cx="971.9" cy="626.4" r="6.0"/><circle cx="984.9" cy="630.1" r="6.0"/><circle cx="952.4" cy="647.7" r="6.0"/><circle cx="971.0" cy="654.2" r="6.0"/><circle cx="932.0" cy="655.2" r="6.0"/><circle cx="987.7" cy="659.8" r="6.0"/><circle cx="954.3" cy="667.2" r="6.0"/><circle cx="947.8" cy="676.5" r="6.0"/><circle cx="971.9" cy="680.2" r="6.0"/><circle cx="963.6" cy="691.4" r="6.0"/><circle cx="946.9" cy="691.4" r="6.0"/><circle cx="938.5" cy="704.4" r="6.0"/><circle cx="954.3" cy="700.6" r="6.0"/><circle cx="946.9" cy="726.6" r="6.0"/><circle cx="959.9" cy="740.6" r="6.0"/><circle cx="934.8" cy="745.2" r="6.0"/><circle cx="713.9" cy="651.5" r="6.0"/><circle cx="728.8" cy="651.5" r="6.0"/><circle cx="744.5" cy="653.3" r="6.0"/><circle cx="769.6" cy="649.6" r="6.0"/><circle cx="777.0" cy="660.7" r="6.0"/><circle cx="791.0" cy="656.1" r="6.0"/><circle cx="801.2" cy="641.3" r="6.0"/><circle cx="815.1" cy="642.2" r="6.0"/><circle cx="826.2" cy="641.3" r="6.0"/><circle cx="837.4" cy="645.0" r="6.0"/><circle cx="854.1" cy="654.2" r="6.0"/><circle cx="840.1" cy="659.8" r="6.0"/><circle cx="868.0" cy="646.8" r="6.0"/><circle cx="883.8" cy="659.8" r="6.0"/><circle cx="894.9" cy="651.5" r="6.0"/><circle cx="906.0" cy="658.0" r="6.0"/><circle cx="916.2" cy="667.2" r="6.0"/><circle cx="911.6" cy="672.8" r="6.0"/><circle cx="896.8" cy="675.6" r="6.0"/><circle cx="844.8" cy="676.5" r="6.0"/><circle cx="861.5" cy="684.9" r="6.0"/><circle cx="836.4" cy="691.4" r="6.0"/><circle cx="817.9" cy="670.0" r="6.0"/><circle cx="803.9" cy="671.0" r="6.0"/><circle cx="791.0" cy="668.2" r="6.0"/><circle cx="713.9" cy="669.1" r="6.0"/><circle cx="733.4" cy="672.8" r="6.0"/><circle cx="750.1" cy="676.5" r="6.0"/><circle cx="766.8" cy="679.3" r="6.0"/><circle cx="802.1" cy="685.8" r="6.0"/><circle cx="811.4" cy="691.4" r="6.0"/><circle cx="703.7" cy="689.5" r="6.0"/><circle cx="723.2" cy="689.5" r="6.0"/><circle cx="754.8" cy="690.4" r="6.0"/><circle cx="769.6" cy="695.1" r="6.0"/><circle cx="739.9" cy="699.7" r="6.0"/><circle cx="729.7" cy="698.8" r="6.0"/><circle cx="788.2" cy="701.6" r="6.0"/><circle cx="800.2" cy="704.4" r="6.0"/><circle cx="814.2" cy="709.9" r="6.0"/><circle cx="828.1" cy="708.1" r="6.0"/><circle cx="859.6" cy="700.6" r="6.0"/><circle cx="849.4" cy="709.0" r="6.0"/><circle cx="885.6" cy="693.2" r="6.0"/><circle cx="883.8" cy="702.5" r="6.0"/><circle cx="904.2" cy="698.8" r="6.0"/><circle cx="901.4" cy="708.1" r="6.0"/><circle cx="919.0" cy="691.4" r="6.0"/><circle cx="920.9" cy="706.2" r="6.0"/><circle cx="926.5" cy="681.2" r="6.0"/><circle cx="918.1" cy="683.9" r="6.0"/><circle cx="878.2" cy="713.6" r="6.0"/><circle cx="873.5" cy="722.0" r="6.0"/><circle cx="887.5" cy="726.6" r="6.0"/><circle cx="882.8" cy="737.8" r="6.0"/><circle cx="905.1" cy="732.2" r="6.0"/><circle cx="920.9" cy="721.1" r="6.0"/><circle cx="921.8" cy="735.9" r="6.0"/><circle cx="831.8" cy="720.1" r="6.0"/><circle cx="828.1" cy="734.1" r="6.0"/><circle cx="841.1" cy="726.6" r="6.0"/><circle cx="853.1" cy="738.7" r="6.0"/><circle cx="794.7" cy="726.6" r="6.0"/><circle cx="777.0" cy="733.1" r="6.0"/><circle cx="770.5" cy="708.1" r="6.0"/><circle cx="753.8" cy="709.9" r="6.0"/><circle cx="711.1" cy="713.6" r="6.0"/><circle cx="726.0" cy="715.5" r="6.0"/><circle cx="752.9" cy="722.9" r="6.0"/><circle cx="735.3" cy="726.6" r="6.0"/><circle cx="722.3" cy="734.1" r="6.0"/><circle cx="708.4" cy="739.6" r="6.0"/><circle cx="776.1" cy="748.9" r="6.0"/><circle cx="793.7" cy="748.0" r="6.0"/><circle cx="807.7" cy="744.3" r="6.0"/><circle cx="727.8" cy="757.3" r="6.0"/><circle cx="747.3" cy="755.4" r="6.0"/><circle cx="837.4" cy="758.2" r="6.0"/><circle cx="849.4" cy="763.8" r="6.0"/><circle cx="868.0" cy="760.0" r="6.0"/><circle cx="886.5" cy="755.4" r="6.0"/><circle cx="896.8" cy="752.6" r="6.0"/><circle cx="907.9" cy="748.0" r="6.0"/><circle cx="894.0" cy="767.5" r="6.0"/><circle cx="910.7" cy="767.5" r="6.0"/><circle cx="922.7" cy="766.5" r="6.0"/><circle cx="794.7" cy="765.6" r="6.0"/><circle cx="821.6" cy="769.3" r="6.0"/><circle cx="775.2" cy="776.8" r="6.0"/><circle cx="752.0" cy="781.4" r="6.0"/><circle cx="728.8" cy="777.7" r="6.0"/><circle cx="818.8" cy="782.3" r="6.0"/><circle cx="837.4" cy="782.3" r="6.0"/><circle cx="842.9" cy="776.8" r="6.0"/><circle cx="861.5" cy="780.5" r="6.0"/><circle cx="878.2" cy="777.7" r="6.0"/><circle cx="881.0" cy="786.0" r="6.0"/><circle cx="911.6" cy="787.0" r="6.0"/><circle cx="850.3" cy="789.7" r="6.0"/><circle cx="858.7" cy="794.4" r="6.0"/><circle cx="875.4" cy="795.3" r="6.0"/><circle cx="893.0" cy="796.2" r="6.0"/><circle cx="811.4" cy="794.4" r="6.0"/><circle cx="796.5" cy="795.3" r="6.0"/><circle cx="770.5" cy="800.9" r="6.0"/><circle cx="742.7" cy="801.8" r="6.0"/><circle cx="721.3" cy="793.5" r="6.0"/><circle cx="828.1" cy="803.7" r="6.0"/><circle cx="818.8" cy="809.2" r="6.0"/><circle cx="841.1" cy="809.2" r="6.0"/><circle cx="797.4" cy="811.1" r="6.0"/><circle cx="885.6" cy="807.4" r="6.0"/><circle cx="864.3" cy="814.8" r="6.0"/><circle cx="778.0" cy="819.4" r="6.0"/><circle cx="743.6" cy="821.3" r="6.0"/><circle cx="707.4" cy="817.6" r="6.0"/><circle cx="724.1" cy="826.9" r="6.0"/><circle cx="762.2" cy="827.8" r="6.0"/><circle cx="819.7" cy="822.2" r="6.0"/><circle cx="805.8" cy="828.7" r="6.0"/><circle cx="806.7" cy="841.7" r="6.0"/><circle cx="786.3" cy="839.9" r="6.0"/><circle cx="764.0" cy="847.3" r="6.0"/><circle cx="719.5" cy="852.9" r="6.0"/><circle cx="747.3" cy="858.4" r="6.0"/><circle cx="705.6" cy="838.9" r="6.0"/><circle cx="746.4" cy="888.1" r="6.0"/><circle cx="579.1" cy="666.9" r="6.0"/><circle cx="571.7" cy="684.5" r="6.0"/><circle cx="583.8" cy="683.6" r="6.0"/><circle cx="601.4" cy="677.1" r="6.0"/><circle cx="607.0" cy="646.5" r="6.0"/><circle cx="555.0" cy="694.8" r="6.0"/><circle cx="525.3" cy="705.9" r="6.0"/><circle cx="546.6" cy="714.2" r="6.0"/><circle cx="557.8" cy="715.2" r="6.0"/><circle cx="568.9" cy="715.2" r="6.0"/><circle cx="591.2" cy="722.6" r="6.0"/><circle cx="614.4" cy="713.3" r="6.0"/><circle cx="627.4" cy="720.7" r="6.0"/><circle cx="636.7" cy="703.1" r="6.0"/><circle cx="624.6" cy="666.9" r="6.0"/><circle cx="641.3" cy="666.9" r="6.0"/><circle cx="641.3" cy="681.8" r="6.0"/><circle cx="633.9" cy="647.4" r="6.0"/><circle cx="646.9" cy="647.4" r="6.0"/><circle cx="661.7" cy="645.6" r="6.0"/><circle cx="677.5" cy="643.7" r="6.0"/><circle cx="692.3" cy="643.7" r="6.0"/><circle cx="662.6" cy="657.6" r="6.0"/><circle cx="667.3" cy="666.9" r="6.0"/><circle cx="658.0" cy="677.1" r="6.0"/><circle cx="665.4" cy="688.3" r="6.0"/><circle cx="674.7" cy="685.5" r="6.0"/><circle cx="685.8" cy="675.3" r="6.0"/><circle cx="685.8" cy="693.8" r="6.0"/><circle cx="652.4" cy="709.6" r="6.0"/><circle cx="667.3" cy="710.5" r="6.0"/><circle cx="694.2" cy="706.8" r="6.0"/><circle cx="648.7" cy="721.7" r="6.0"/><circle cx="665.4" cy="725.4" r="6.0"/><circle cx="696.1" cy="721.7" r="6.0"/><circle cx="686.8" cy="731.0" r="6.0"/><circle cx="651.5" cy="738.4" r="6.0"/><circle cx="743.4" cy="729.1" r="6.0"/><circle cx="492.8" cy="727.2" r="6.0"/><circle cx="482.6" cy="747.7" r="6.0"/><circle cx="498.4" cy="746.7" r="6.0"/><circle cx="521.6" cy="734.7" r="6.0"/><circle cx="559.6" cy="737.4" r="6.0"/><circle cx="550.3" cy="754.2" r="6.0"/><circle cx="575.4" cy="756.9" r="6.0"/><circle cx="602.3" cy="743.9" r="6.0"/><circle cx="616.2" cy="741.2" r="6.0"/><circle cx="628.3" cy="740.2" r="6.0"/><circle cx="625.5" cy="749.5" r="6.0"/><circle cx="633.9" cy="751.4" r="6.0"/><circle cx="624.6" cy="758.8" r="6.0"/><circle cx="652.4" cy="756.9" r="6.0"/><circle cx="668.2" cy="751.4" r="6.0"/><circle cx="687.7" cy="740.2" r="6.0"/><circle cx="692.3" cy="751.4" r="6.0"/><circle cx="464.0" cy="769.9" r="6.0"/><circle cx="534.6" cy="766.2" r="6.0"/><circle cx="571.7" cy="772.7" r="6.0"/><circle cx="515.1" cy="778.3" r="6.0"/><circle cx="507.7" cy="786.6" r="6.0"/><circle cx="498.4" cy="786.6" r="6.0"/><circle cx="557.8" cy="790.3" r="6.0"/><circle cx="645.0" cy="799.6" r="6.0"/><circle cx="663.6" cy="788.5" r="6.0"/><circle cx="672.9" cy="772.7" r="6.0"/><circle cx="677.5" cy="782.9" r="6.0"/><circle cx="697.0" cy="769.0" r="6.0"/><circle cx="697.9" cy="789.4" r="6.0"/><circle cx="508.6" cy="810.8" r="6.0"/><circle cx="552.2" cy="814.5" r="6.0"/><circle cx="594.9" cy="808.0" r="6.0"/><circle cx="659.9" cy="808.9" r="6.0"/><circle cx="684.9" cy="804.3" r="6.0"/><circle cx="527.1" cy="827.5" r="6.0"/><circle cx="668.2" cy="828.4" r="6.0"/><circle cx="697.0" cy="844.2" r="6.0"/><circle cx="691.4" cy="849.7" r="6.0"/><circle cx="730.4" cy="899.9" r="6.0"/><circle cx="752.7" cy="907.3" r="6.0"/><circle cx="740.6" cy="924.9" r="6.0"/><circle cx="291.8" cy="609.5" r="6.0"/><circle cx="408.7" cy="622.5" r="6.0"/><circle cx="787.4" cy="718.0" r="6.0"/><circle cx="885.3" cy="414.1" r="6.0"/><circle cx="766.3" cy="754.6" r="6.0"/><circle cx="746.0" cy="765.0" r="6.0"/><circle cx="844.8" cy="546.4" r="6.0"/><circle cx="813.6" cy="436.7" r="6.0"/><circle cx="931.4" cy="695.7" r="6.0"/><circle cx="632.5" cy="687.1" r="6.0"/><circle cx="740.8" cy="489.9" r="6.0"/><circle cx="851.7" cy="805.6" r="6.0"/><circle cx="742.9" cy="415.7" r="6.0"/><circle cx="785.0" cy="792.5" r="6.0"/><circle cx="836.0" cy="476.1" r="6.0"/><circle cx="725.4" cy="465.0" r="6.0"/><circle cx="873.9" cy="663.2" r="6.0"/><circle cx="617.3" cy="627.2" r="6.0"/><circle cx="770.9" cy="439.6" r="6.0"/><circle cx="572.8" cy="742.1" r="6.0"/><circle cx="573.2" cy="729.8" r="6.0"/><circle cx="685.8" cy="828.7" r="6.0"/><circle cx="819.0" cy="452.3" r="6.0"/><circle cx="831.2" cy="353.7" r="6.0"/><circle cx="652.7" cy="516.8" r="6.0"/><circle cx="699.9" cy="807.2" r="6.0"/><circle cx="651.0" cy="782.9" r="6.0"/><circle cx="878.9" cy="767.5" r="6.0"/><circle cx="992.3" cy="378.5" r="6.0"/><circle cx="837.1" cy="556.3" r="6.0"/><circle cx="771.8" cy="405.6" r="6.0"/><circle cx="849.1" cy="599.3" r="6.0"/><circle cx="927.8" cy="667.1" r="6.0"/><circle cx="833.9" cy="593.1" r="6.0"/><circle cx="744.7" cy="713.7" r="6.0"/><circle cx="754.8" cy="794.0" r="6.0"/><circle cx="685.2" cy="627.6" r="6.0"/><circle cx="644.3" cy="657.4" r="6.0"/><circle cx="616.6" cy="765.0" r="6.0"/><circle cx="895.6" cy="548.4" r="6.0"/><circle cx="623.1" cy="610.2" r="6.0"/><circle cx="716.8" cy="504.5" r="6.0"/><circle cx="775.9" cy="763.9" r="6.0"/><circle cx="846.3" cy="354.5" r="6.0"/><circle cx="897.7" cy="491.0" r="6.0"/><circle cx="788.2" cy="580.3" r="6.0"/><circle cx="829.9" cy="824.4" r="6.0"/><circle cx="836.4" cy="794.3" r="6.0"/><circle cx="920.9" cy="335.0" r="6.0"/><circle cx="747.0" cy="667.0" r="6.0"/><circle cx="839.4" cy="566.1" r="6.0"/><circle cx="815.8" cy="728.6" r="6.0"/><circle cx="698.0" cy="626.9" r="6.0"/><circle cx="684.2" cy="814.0" r="6.0"/><circle cx="759.0" cy="764.9" r="6.0"/><circle cx="617.9" cy="731.3" r="6.0"/><circle cx="643.6" cy="563.1" r="6.0"/><circle cx="635.3" cy="576.7" r="6.0"/><circle cx="621.3" cy="681.1" r="6.0"/><circle cx="767.3" cy="665.4" r="6.0"/><circle cx="784.9" cy="612.6" r="6.0"/><circle cx="657.9" cy="697.2" r="6.0"/><circle cx="742.5" cy="563.8" r="6.0"/><circle cx="710.1" cy="433.2" r="6.0"/><circle cx="608.5" cy="721.7" r="6.0"/><circle cx="625.8" cy="770.7" r="6.0"/><circle cx="644.3" cy="608.1" r="6.0"/><circle cx="829.6" cy="448.5" r="6.0"/><circle cx="859.9" cy="747.6" r="6.0"/><circle cx="841.7" cy="437.4" r="6.0"/><circle cx="733.3" cy="746.6" r="6.0"/><circle cx="810.2" cy="804.5" r="6.0"/><circle cx="611.3" cy="693.8" r="6.0"/><circle cx="729.2" cy="536.8" r="6.0"/><circle cx="757.3" cy="601.6" r="6.0"/><circle cx="868.8" cy="693.9" r="6.0"/><circle cx="680.5" cy="655.9" r="6.0"/><circle cx="633.8" cy="614.9" r="6.0"/><circle cx="808.7" cy="816.7" r="6.0"/><circle cx="896.8" cy="365.9" r="6.0"/><circle cx="611.2" cy="754.0" r="6.0"/><circle cx="1028.4" cy="319.5" r="6.0"/><circle cx="637.2" cy="721.9" r="6.0"/><circle cx="760.3" cy="656.1" r="6.0"/><circle cx="677.8" cy="710.1" r="6.0"/><circle cx="764.9" cy="384.8" r="6.0"/><circle cx="769.2" cy="811.9" r="6.0"/><circle cx="847.8" cy="395.6" r="6.0"/><circle cx="646.8" cy="622.5" r="6.0"/><circle cx="742.0" cy="593.8" r="6.0"/><circle cx="985.4" cy="649.5" r="6.0"/><circle cx="902.6" cy="351.2" r="6.0"/><circle cx="834.7" cy="404.1" r="6.0"/><circle cx="875.9" cy="447.8" r="6.0"/><circle cx="951.7" cy="359.4" r="6.0"/><circle cx="946.2" cy="470.7" r="6.0"/><circle cx="779.2" cy="685.9" r="6.0"/><circle cx="833.7" cy="493.7" r="6.0"/><circle cx="687.6" cy="570.4" r="6.0"/><circle cx="718.3" cy="777.1" r="6.0"/><circle cx="714.8" cy="757.8" r="6.0"/><circle cx="825.2" cy="690.1" r="6.0"/><circle cx="742.3" cy="632.4" r="6.0"/><circle cx="762.4" cy="579.2" r="6.0"/><circle cx="722.3" cy="583.5" r="6.0"/><circle cx="684.6" cy="488.1" r="6.0"/><circle cx="844.7" cy="404.9" r="6.0"/><circle cx="708.6" cy="765.4" r="6.0"/><circle cx="626.6" cy="586.6" r="6.0"/><circle cx="939.6" cy="717.4" r="6.0"/><circle cx="707.1" cy="508.3" r="6.0"/><circle cx="736.3" cy="765.8" r="6.0"/><circle cx="875.8" cy="365.0" r="6.0"/><circle cx="590.7" cy="747.0" r="6.0"/><circle cx="662.7" cy="509.6" r="6.0"/><circle cx="589.6" cy="696.6" r="6.0"/><circle cx="636.7" cy="494.5" r="6.0"/><circle cx="656.3" cy="773.1" r="6.0"/><circle cx="805.5" cy="405.3" r="6.0"/><circle cx="859.4" cy="522.6" r="6.0"/><circle cx="869.6" cy="579.0" r="6.0"/><circle cx="968.2" cy="665.9" r="6.0"/><circle cx="819.7" cy="577.4" r="6.0"/><circle cx="1007.7" cy="337.2" r="6.0"/><circle cx="733.9" cy="793.2" r="6.0"/><circle cx="777.1" cy="496.4" r="6.0"/><circle cx="862.7" cy="490.0" r="6.0"/><circle cx="718.8" cy="836.7" r="6.0"/><circle cx="916.2" cy="485.3" r="6.0"/><circle cx="660.7" cy="542.3" r="6.0"/><circle cx="686.9" cy="785.2" r="6.0"/><circle cx="818.2" cy="631.7" r="6.0"/><circle cx="850.1" cy="472.5" r="6.0"/><circle cx="810.0" cy="565.2" r="6.0"/><circle cx="777.0" cy="571.5" r="6.0"/><circle cx="851.3" cy="447.2" r="6.0"/><circle cx="797.1" cy="442.8" r="6.0"/><circle cx="842.4" cy="716.2" r="6.0"/><circle cx="942.3" cy="647.2" r="6.0"/><circle cx="858.2" cy="346.5" r="6.0"/><circle cx="825.4" cy="748.5" r="6.0"/><circle cx="736.9" cy="814.4" r="6.0"/><circle cx="729.9" cy="408.7" r="6.0"/><circle cx="674.8" cy="531.3" r="6.0"/><circle cx="728.6" cy="840.3" r="6.0"/><circle cx="931.1" cy="725.7" r="6.0"/><circle cx="768.4" cy="449.7" r="6.0"/><circle cx="747.9" cy="582.2" r="6.0"/><circle cx="749.1" cy="840.5" r="6.0"/><circle cx="967.1" cy="606.5" r="6.0"/><circle cx="1008.0" cy="363.5" r="6.0"/><circle cx="615.2" cy="590.7" r="6.0"/><circle cx="602.7" cy="617.4" r="6.0"/><circle cx="842.6" cy="522.8" r="6.0"/><circle cx="920.9" cy="619.7" r="6.0"/><circle cx="816.5" cy="368.2" r="6.0"/><circle cx="671.1" cy="572.6" r="6.0"/><circle cx="919.4" cy="648.1" r="6.0"/><circle cx="671.5" cy="803.2" r="6.0"/><circle cx="658.3" cy="590.9" r="6.0"/><circle cx="948.9" cy="737.0" r="6.0"/><circle cx="892.4" cy="578.0" r="6.0"/><circle cx="935.3" cy="521.3" r="6.0"/><circle cx="649.4" cy="583.6" r="6.0"/><circle cx="983.2" cy="334.9" r="6.0"/><circle cx="937.9" cy="668.8" r="6.0"/><circle cx="775.9" cy="385.0" r="6.0"/><circle cx="744.1" cy="617.6" r="6.0"/><circle cx="848.4" cy="337.5" r="6.0"/><circle cx="720.5" cy="431.1" r="6.0"/>
</g>
<g fill="#ffff00">
<circle cx="100.2" cy="284.9" r="6.0"/><circle cx="166.1" cy="277.5" r="6.0"/><circle cx="281.2" cy="258.9" r="6.0"/><circle cx="230.2" cy="242.2" r="6.0"/><circle cx="238.5" cy="223.7" r="6.0"/><circle cx="258.0" cy="233.9" r="6.0"/><circle cx="241.3" cy="199.5" r="6.0"/><circle cx="355.5" cy="257.1" r="6.0"/><circle cx="395.4" cy="187.5" r="6.0"/><circle cx="408.8" cy="198.4" r="6.0"/><circle cx="520.1" cy="411.8" r="6.0"/><circle cx="933.1" cy="61.8" r="6.0"/><circle cx="951.7" cy="82.2" r="6.0"/><circle cx="928.5" cy="123.9" r="6.0"/><circle cx="909.0" cy="210.3" r="6.0"/><circle cx="908.1" cy="251.1" r="6.0"/><circle cx="1060.3" cy="151.8" r="6.0"/><circle cx="1034.3" cy="280.8" r="6.0"/><circle cx="1028.7" cy="298.4" r="6.0"/><circle cx="1043.6" cy="309.6" r="6.0"/><circle cx="1049.1" cy="322.6" r="6.0"/><circle cx="1075.1" cy="329.0" r="6.0"/><circle cx="1066.8" cy="305.8" r="6.0"/><circle cx="83.6" cy="330.1" r="6.0"/><circle cx="133.7" cy="484.2" r="6.0"/><circle cx="138.4" cy="542.6" r="6.0"/><circle cx="404.7" cy="483.2" r="6.0"/><circle cx="387.1" cy="504.6" r="6.0"/><circle cx="363.9" cy="548.2" r="6.0"/><circle cx="298.0" cy="567.7" r="6.0"/><circle cx="325.8" cy="562.1" r="6.0"/><circle cx="405.7" cy="565.8" r="6.0"/><circle cx="389.0" cy="593.7" r="6.0"/><circle cx="437.2" cy="547.3" r="6.0"/><circle cx="437.2" cy="584.4" r="6.0"/><circle cx="541.1" cy="423.4" r="6.0"/><circle cx="554.1" cy="431.8" r="6.0"/><circle cx="578.2" cy="452.2" r="6.0"/><circle cx="555.9" cy="476.3" r="6.0"/><circle cx="541.1" cy="493.0" r="6.0"/><circle cx="557.8" cy="494.9" r="6.0"/><circle cx="581.9" cy="496.8" r="6.0"/><circle cx="606.0" cy="499.5" r="6.0"/><circle cx="619.0" cy="504.2" r="6.0"/><circle cx="505.8" cy="505.1" r="6.0"/><circle cx="454.8" cy="517.2" r="6.0"/><circle cx="479.8" cy="529.2" r="6.0"/><circle cx="597.7" cy="513.5" r="6.0"/><circle cx="581.0" cy="535.7" r="6.0"/><circle cx="620.0" cy="528.3" r="6.0"/><circle cx="657.1" cy="527.4" r="6.0"/><circle cx="474.2" cy="547.8" r="6.0"/><circle cx="496.5" cy="551.5" r="6.0"/><circle cx="568.0" cy="548.7" r="6.0"/><circle cx="596.8" cy="546.9" r="6.0"/><circle cx="551.3" cy="558.9" r="6.0"/><circle cx="587.5" cy="564.5" r="6.0"/><circle cx="608.8" cy="570.1" r="6.0"/><circle cx="636.7" cy="554.3" r="6.0"/><circle cx="541.1" cy="573.8" r="6.0"/><circle cx="462.2" cy="567.3" r="6.0"/><circle cx="503.9" cy="582.1" r="6.0"/><circle cx="531.8" cy="589.6" r="6.0"/><circle cx="579.1" cy="586.8" r="6.0"/><circle cx="442.7" cy="600.7" r="6.0"/><circle cx="580.0" cy="609.0" r="6.0"/><circle cx="723.0" cy="550.6" r="6.0"/><circle cx="686.8" cy="539.4" r="6.0"/><circle cx="658.9" cy="489.3" r="6.0"/><circle cx="667.3" cy="493.0" r="6.0"/><circle cx="807.8" cy="419.7" r="6.0"/><circle cx="932.9" cy="640.3" r="6.0"/><circle cx="471.5" cy="653.9" r="6.0"/><circle cx="501.2" cy="664.1" r="6.0"/><circle cx="493.7" cy="679.9" r="6.0"/><circle cx="505.8" cy="695.7" r="6.0"/><circle cx="532.7" cy="652.1" r="6.0"/><circle cx="557.8" cy="656.7" r="6.0"/><circle cx="550.3" cy="681.8" r="6.0"/><circle cx="602.3" cy="700.3" r="6.0"/><circle cx="598.6" cy="769.9" r="6.0"/><circle cx="627.4" cy="783.9" r="6.0"/><circle cx="587.5" cy="795.9" r="6.0"/><circle cx="610.7" cy="793.1" r="6.0"/><circle cx="531.8" cy="808.9" r="6.0"/><circle cx="543.9" cy="842.3" r="6.0"/><circle cx="737.8" cy="912.9" r="6.0"/><circle cx="730.4" cy="934.2" r="6.0"/><circle cx="263.9" cy="606.7" r="6.0"/><circle cx="318.7" cy="609.5" r="6.0"/><circle cx="340.0" cy="609.5" r="6.0"/><circle cx="304.8" cy="618.8" r="6.0"/><circle cx="321.5" cy="621.6" r="6.0"/><circle cx="351.2" cy="621.6" r="6.0"/><circle cx="224.0" cy="620.6" r="6.0"/><circle cx="437.5" cy="621.6" r="6.0"/><circle cx="509.9" cy="628.1" r="6.0"/><circle cx="288.1" cy="648.5" r="6.0"/><circle cx="363.2" cy="644.8" r="6.0"/><circle cx="633.9" cy="516.9" r="6.0"/><circle cx="602.6" cy="786.2" r="6.0"/><circle cx="604.9" cy="808.0" r="6.0"/><circle cx="645.7" cy="538.6" r="6.0"/><circle cx="653.5" cy="550.6" r="6.0"/><circle cx="582.7" cy="781.2" r="6.0"/><circle cx="623.1" cy="558.4" r="6.0"/>
</g>
<g fill="#0a6a0a">
<circle cx="336.9" cy="262.6" r="6.0"/><circle cx="1069.6" cy="316.1" r="6.0"/><circle cx="368.5" cy="568.6" r="6.0"/><circle cx="343.5" cy="589.0" r="6.0"/><circle cx="544.8" cy="520.9" r="6.0"/><circle cx="572.6" cy="516.2" r="6.0"/><circle cx="530.9" cy="536.7" r="6.0"/><circle cx="473.3" cy="594.2" r="6.0"/><circle cx="537.4" cy="607.2" r="6.0"/><circle cx="554.1" cy="607.2" r="6.0"/><circle cx="517.9" cy="681.8" r="6.0"/><circle cx="251.9" cy="615.1" r="6.0"/><circle cx="482.0" cy="631.8" r="6.0"/><circle cx="534.0" cy="629.9" r="6.0"/><circle cx="350.3" cy="653.1" r="6.0"/>
</g>
<g fill="#f00000">
<circle cx="268.2" cy="200.5" r="6.0"/><circle cx="348.0" cy="297.0" r="6.0"/><circle cx="577.7" cy="340.4" r="6.0"/><circle cx="246.0" cy="353.3" r="6.0"/><circle cx="806.7" cy="654.2" r="6.0"/><circle cx="868.0" cy="671.0" r="6.0"/><circle cx="798.4" cy="715.5" r="6.0"/>
</g>
<g fill="#0000f5">
<circle cx="109.5" cy="269.1" r="6.0"/>
</g>
<rect x="1026.8" y="705.1" width="175.2" height="253.9" fill="#fff"/>
<g transform="translate(1026.8 705.1)"><use href="#inset"/></g>
<path d="M1026.8 960 V705.1 H1203" fill="none" stroke="#161616" stroke-width="2.8"/>
</g>
<text x="46.4" y="81.7" font-size="47.8">(a) R<tspan dx="2" dy="-16" font-size="32">2</tspan></text>
<circle cx="62.7" cy="706.4" r="9" fill="#0000f5"/>
<text x="93.3" y="725.0" font-size="47.8">0.60-0.65</text>
<circle cx="62.7" cy="759.3" r="9" fill="#0a6a0a"/>
<text x="93.3" y="777.4" font-size="47.8">0.65-0.75</text>
<circle cx="62.7" cy="812.2" r="9" fill="#ffff00"/>
<text x="93.3" y="829.8" font-size="47.8">0.75-0.85</text>
<circle cx="62.7" cy="864.2" r="9" fill="#ffa200"/>
<text x="93.3" y="882.2" font-size="47.8">0.85-0.95</text>
<circle cx="62.7" cy="917.0" r="9" fill="#f00000"/>
<text x="93.3" y="934.7" font-size="47.8">0.95-1.00</text>
<path d="M1216.4 17.1 H2409.4 V965.1 H1216.4 Z M1219.1 19.3 H2407.1 V963.7 H1219.1 Z" fill="#9c9c9c" fill-rule="evenodd"/>
<path d="M1219.1 19.3 H2407.1 V963.7 H1219.1 Z M1222.8 21.6 H2402.2 V958.8 H1222.8 Z" fill="#0a0a0a" fill-rule="evenodd"/>
<g transform="translate(1199.6 -0.2)">
<use href="#map"/>
<g fill="#ffa200">
<circle cx="100.2" cy="284.9" r="6.0"/><circle cx="107.7" cy="294.2" r="6.0"/><circle cx="116.0" cy="293.3" r="6.0"/><circle cx="166.1" cy="277.5" r="6.0"/><circle cx="160.6" cy="305.3" r="6.0"/><circle cx="233.9" cy="277.5" r="6.0"/><circle cx="245.9" cy="295.1" r="6.0"/><circle cx="274.7" cy="288.6" r="6.0"/><circle cx="281.2" cy="258.9" r="6.0"/><circle cx="238.5" cy="223.7" r="6.0"/><circle cx="258.0" cy="233.9" r="6.0"/><circle cx="257.1" cy="205.1" r="6.0"/><circle cx="268.2" cy="200.5" r="6.0"/><circle cx="285.8" cy="165.2" r="6.0"/><circle cx="290.5" cy="187.5" r="6.0"/><circle cx="309.0" cy="201.4" r="6.0"/><circle cx="299.8" cy="229.2" r="6.0"/><circle cx="318.3" cy="237.6" r="6.0"/><circle cx="335.0" cy="245.0" r="6.0"/><circle cx="347.1" cy="246.9" r="6.0"/><circle cx="347.1" cy="254.3" r="6.0"/><circle cx="355.5" cy="257.1" r="6.0"/><circle cx="355.5" cy="270.1" r="6.0"/><circle cx="318.3" cy="294.2" r="6.0"/><circle cx="301.6" cy="297.9" r="6.0"/><circle cx="307.2" cy="309.0" r="6.0"/><circle cx="381.4" cy="259.9" r="6.0"/><circle cx="332.3" cy="176.3" r="6.0"/><circle cx="338.7" cy="161.5" r="6.0"/><circle cx="349.9" cy="149.4" r="6.0"/><circle cx="355.5" cy="159.6" r="6.0"/><circle cx="362.9" cy="175.4" r="6.0"/><circle cx="375.9" cy="163.3" r="6.0"/><circle cx="395.4" cy="187.5" r="6.0"/><circle cx="399.1" cy="230.2" r="6.0"/><circle cx="137.4" cy="317.4" r="6.0"/><circle cx="408.8" cy="198.4" r="6.0"/><circle cx="439.4" cy="281.0" r="6.0"/><circle cx="467.2" cy="294.0" r="6.0"/><circle cx="455.2" cy="370.1" r="6.0"/><circle cx="476.5" cy="362.6" r="6.0"/><circle cx="499.7" cy="372.9" r="6.0"/><circle cx="545.2" cy="377.5" r="6.0"/><circle cx="532.2" cy="383.1" r="6.0"/><circle cx="523.9" cy="388.6" r="6.0"/><circle cx="425.5" cy="399.8" r="6.0"/><circle cx="548.9" cy="400.7" r="6.0"/><circle cx="554.5" cy="409.0" r="6.0"/><circle cx="520.1" cy="411.8" r="6.0"/><circle cx="691.8" cy="377.5" r="6.0"/><circle cx="748.4" cy="354.3" r="6.0"/><circle cx="771.6" cy="353.4" r="6.0"/><circle cx="764.2" cy="362.6" r="6.0"/><circle cx="769.8" cy="374.7" r="6.0"/><circle cx="740.1" cy="399.8" r="6.0"/><circle cx="763.3" cy="411.8" r="6.0"/><circle cx="678.8" cy="415.5" r="6.0"/><circle cx="703.0" cy="417.4" r="6.0"/><circle cx="380.0" cy="404.4" r="6.0"/><circle cx="933.1" cy="61.8" r="6.0"/><circle cx="969.3" cy="71.0" r="6.0"/><circle cx="951.7" cy="82.2" r="6.0"/><circle cx="966.5" cy="89.6" r="6.0"/><circle cx="1001.8" cy="82.2" r="6.0"/><circle cx="1021.3" cy="116.5" r="6.0"/><circle cx="1022.2" cy="137.9" r="6.0"/><circle cx="928.5" cy="123.9" r="6.0"/><circle cx="967.5" cy="121.2" r="6.0"/><circle cx="905.3" cy="133.2" r="6.0"/><circle cx="965.6" cy="151.8" r="6.0"/><circle cx="989.7" cy="149.9" r="6.0"/><circle cx="899.7" cy="159.2" r="6.0"/><circle cx="936.8" cy="166.6" r="6.0"/><circle cx="859.8" cy="154.6" r="6.0"/><circle cx="853.3" cy="176.8" r="6.0"/><circle cx="982.3" cy="185.2" r="6.0"/><circle cx="909.0" cy="210.3" r="6.0"/><circle cx="908.1" cy="251.1" r="6.0"/><circle cx="861.7" cy="255.7" r="6.0"/><circle cx="1002.7" cy="174.1" r="6.0"/><circle cx="1013.9" cy="168.5" r="6.0"/><circle cx="1055.6" cy="175.0" r="6.0"/><circle cx="1060.3" cy="151.8" r="6.0"/><circle cx="1024.1" cy="187.1" r="6.0"/><circle cx="1008.3" cy="197.3" r="6.0"/><circle cx="1044.5" cy="195.4" r="6.0"/><circle cx="1028.7" cy="207.5" r="6.0"/><circle cx="1001.8" cy="217.7" r="6.0"/><circle cx="1025.0" cy="225.1" r="6.0"/><circle cx="1003.7" cy="234.4" r="6.0"/><circle cx="1023.2" cy="237.2" r="6.0"/><circle cx="1019.4" cy="250.2" r="6.0"/><circle cx="987.0" cy="273.4" r="6.0"/><circle cx="1007.4" cy="266.9" r="6.0"/><circle cx="1010.2" cy="277.1" r="6.0"/><circle cx="1018.5" cy="285.4" r="6.0"/><circle cx="1034.3" cy="280.8" r="6.0"/><circle cx="1048.2" cy="277.1" r="6.0"/><circle cx="1064.9" cy="282.6" r="6.0"/><circle cx="1051.9" cy="238.1" r="6.0"/><circle cx="1085.3" cy="249.2" r="6.0"/><circle cx="1111.3" cy="247.4" r="6.0"/><circle cx="1061.2" cy="217.7" r="6.0"/><circle cx="1075.1" cy="206.5" r="6.0"/><circle cx="1084.4" cy="192.6" r="6.0"/><circle cx="1093.7" cy="215.8" r="6.0"/><circle cx="1102.0" cy="226.0" r="6.0"/><circle cx="1117.8" cy="195.4" r="6.0"/><circle cx="1134.5" cy="206.5" r="6.0"/><circle cx="1110.4" cy="175.0" r="6.0"/><circle cx="1116.9" cy="162.9" r="6.0"/><circle cx="1092.8" cy="278.9" r="6.0"/><circle cx="1090.0" cy="289.1" r="6.0"/><circle cx="1084.4" cy="298.4" r="6.0"/><circle cx="1041.7" cy="295.6" r="6.0"/><circle cx="1028.7" cy="298.4" r="6.0"/><circle cx="1043.6" cy="309.6" r="6.0"/><circle cx="1049.1" cy="322.6" r="6.0"/><circle cx="1075.1" cy="329.0" r="6.0"/><circle cx="1066.8" cy="305.8" r="6.0"/><circle cx="1023.2" cy="310.5" r="6.0"/><circle cx="1011.1" cy="304.0" r="6.0"/><circle cx="997.2" cy="300.3" r="6.0"/><circle cx="993.5" cy="313.3" r="6.0"/><circle cx="981.4" cy="292.9" r="6.0"/><circle cx="959.1" cy="292.9" r="6.0"/><circle cx="941.5" cy="294.7" r="6.0"/><circle cx="883.0" cy="300.3" r="6.0"/><circle cx="874.7" cy="278.0" r="6.0"/><circle cx="848.7" cy="295.6" r="6.0"/><circle cx="829.2" cy="294.7" r="6.0"/><circle cx="903.4" cy="316.1" r="6.0"/><circle cx="901.6" cy="331.8" r="6.0"/><circle cx="935.0" cy="328.1" r="6.0"/><circle cx="858.0" cy="335.5" r="6.0"/><circle cx="1012.0" cy="324.4" r="6.0"/><circle cx="1030.6" cy="330.0" r="6.0"/><circle cx="995.3" cy="333.7" r="6.0"/><circle cx="125.4" cy="329.2" r="6.0"/><circle cx="138.4" cy="354.2" r="6.0"/><circle cx="329.6" cy="332.9" r="6.0"/><circle cx="164.4" cy="376.5" r="6.0"/><circle cx="194.1" cy="392.3" r="6.0"/><circle cx="215.4" cy="392.3" r="6.0"/><circle cx="275.7" cy="382.1" r="6.0"/><circle cx="423.3" cy="447.1" r="6.0"/><circle cx="133.7" cy="484.2" r="6.0"/><circle cx="210.8" cy="512.0" r="6.0"/><circle cx="404.7" cy="483.2" r="6.0"/><circle cx="387.1" cy="504.6" r="6.0"/><circle cx="298.0" cy="567.7" r="6.0"/><circle cx="325.8" cy="562.1" r="6.0"/><circle cx="795.4" cy="369.6" r="6.0"/><circle cx="787.0" cy="394.7" r="6.0"/><circle cx="585.6" cy="432.7" r="6.0"/><circle cx="608.8" cy="424.4" r="6.0"/><circle cx="459.4" cy="427.1" r="6.0"/><circle cx="495.6" cy="443.9" r="6.0"/><circle cx="446.4" cy="459.6" r="6.0"/><circle cx="475.2" cy="463.3" r="6.0"/><circle cx="516.0" cy="457.8" r="6.0"/><circle cx="528.1" cy="462.4" r="6.0"/><circle cx="506.7" cy="471.7" r="6.0"/><circle cx="549.4" cy="451.3" r="6.0"/><circle cx="579.1" cy="468.0" r="6.0"/><circle cx="602.3" cy="458.7" r="6.0"/><circle cx="599.5" cy="480.0" r="6.0"/><circle cx="621.8" cy="480.0" r="6.0"/><circle cx="635.7" cy="476.3" r="6.0"/><circle cx="624.6" cy="493.0" r="6.0"/><circle cx="555.9" cy="476.3" r="6.0"/><circle cx="569.8" cy="484.7" r="6.0"/><circle cx="541.1" cy="493.0" r="6.0"/><circle cx="557.8" cy="494.9" r="6.0"/><circle cx="606.0" cy="499.5" r="6.0"/><circle cx="619.0" cy="504.2" r="6.0"/><circle cx="641.3" cy="505.1" r="6.0"/><circle cx="572.6" cy="516.2" r="6.0"/><circle cx="597.7" cy="513.5" r="6.0"/><circle cx="657.1" cy="527.4" r="6.0"/><circle cx="631.1" cy="601.6" r="6.0"/><circle cx="609.7" cy="610.0" r="6.0"/><circle cx="658.0" cy="600.7" r="6.0"/><circle cx="672.9" cy="593.3" r="6.0"/><circle cx="656.1" cy="576.6" r="6.0"/><circle cx="661.7" cy="558.0" r="6.0"/><circle cx="678.4" cy="548.7" r="6.0"/><circle cx="680.3" cy="563.6" r="6.0"/><circle cx="699.8" cy="553.4" r="6.0"/><circle cx="706.3" cy="564.5" r="6.0"/><circle cx="698.8" cy="588.6" r="6.0"/><circle cx="723.0" cy="550.6" r="6.0"/><circle cx="720.2" cy="572.9" r="6.0"/><circle cx="739.7" cy="545.9" r="6.0"/><circle cx="754.5" cy="565.4" r="6.0"/><circle cx="756.4" cy="589.6" r="6.0"/><circle cx="761.9" cy="539.4" r="6.0"/><circle cx="774.0" cy="547.8" r="6.0"/><circle cx="767.5" cy="555.2" r="6.0"/><circle cx="778.7" cy="597.0" r="6.0"/><circle cx="686.8" cy="539.4" r="6.0"/><circle cx="677.5" cy="520.0" r="6.0"/><circle cx="687.7" cy="529.2" r="6.0"/><circle cx="704.4" cy="525.5" r="6.0"/><circle cx="743.4" cy="525.5" r="6.0"/><circle cx="756.4" cy="521.8" r="6.0"/><circle cx="774.9" cy="506.0" r="6.0"/><circle cx="789.8" cy="501.4" r="6.0"/><circle cx="693.3" cy="500.5" r="6.0"/><circle cx="697.0" cy="511.6" r="6.0"/><circle cx="728.5" cy="498.6" r="6.0"/><circle cx="750.8" cy="504.2" r="6.0"/><circle cx="767.5" cy="494.9" r="6.0"/><circle cx="787.0" cy="489.3" r="6.0"/><circle cx="754.5" cy="489.3" r="6.0"/><circle cx="730.4" cy="479.1" r="6.0"/><circle cx="743.4" cy="479.1" r="6.0"/><circle cx="760.1" cy="475.4" r="6.0"/><circle cx="778.7" cy="467.1" r="6.0"/><circle cx="687.7" cy="478.2" r="6.0"/><circle cx="704.4" cy="469.8" r="6.0"/><circle cx="658.9" cy="489.3" r="6.0"/><circle cx="667.3" cy="493.0" r="6.0"/><circle cx="676.6" cy="504.2" r="6.0"/><circle cx="656.1" cy="476.3" r="6.0"/><circle cx="646.9" cy="453.1" r="6.0"/><circle cx="656.1" cy="453.1" r="6.0"/><circle cx="667.3" cy="441.1" r="6.0"/><circle cx="665.4" cy="428.1" r="6.0"/><circle cx="719.3" cy="452.2" r="6.0"/><circle cx="728.5" cy="442.9" r="6.0"/><circle cx="736.0" cy="437.4" r="6.0"/><circle cx="749.0" cy="423.4" r="6.0"/><circle cx="762.9" cy="431.8" r="6.0"/><circle cx="774.9" cy="421.6" r="6.0"/><circle cx="789.8" cy="409.5" r="6.0"/><circle cx="791.6" cy="423.4" r="6.0"/><circle cx="745.2" cy="455.9" r="6.0"/><circle cx="761.9" cy="456.8" r="6.0"/><circle cx="789.8" cy="454.1" r="6.0"/><circle cx="797.2" cy="463.3" r="6.0"/><circle cx="706.3" cy="608.1" r="6.0"/><circle cx="687.7" cy="610.0" r="6.0"/><circle cx="726.7" cy="613.7" r="6.0"/><circle cx="814.3" cy="346.4" r="6.0"/><circle cx="882.1" cy="341.8" r="6.0"/><circle cx="917.4" cy="352.0" r="6.0"/><circle cx="932.2" cy="346.4" r="6.0"/><circle cx="1023.2" cy="340.8" r="6.0"/><circle cx="1039.9" cy="341.8" r="6.0"/><circle cx="999.0" cy="344.5" r="6.0"/><circle cx="1013.9" cy="355.7" r="6.0"/><circle cx="979.5" cy="352.0" r="6.0"/><circle cx="826.4" cy="364.0" r="6.0"/><circle cx="830.1" cy="374.2" r="6.0"/><circle cx="843.1" cy="381.7" r="6.0"/><circle cx="862.6" cy="361.3" r="6.0"/><circle cx="937.8" cy="368.7" r="6.0"/><circle cx="934.1" cy="377.0" r="6.0"/><circle cx="987.9" cy="369.6" r="6.0"/><circle cx="967.5" cy="376.1" r="6.0"/><circle cx="805.1" cy="391.0" r="6.0"/><circle cx="817.1" cy="383.5" r="6.0"/><circle cx="826.4" cy="397.4" r="6.0"/><circle cx="820.8" cy="407.7" r="6.0"/><circle cx="908.1" cy="403.0" r="6.0"/><circle cx="860.7" cy="411.4" r="6.0"/><circle cx="955.4" cy="411.4" r="6.0"/><circle cx="963.8" cy="409.5" r="6.0"/><circle cx="867.2" cy="438.3" r="6.0"/><circle cx="810.6" cy="447.6" r="6.0"/><circle cx="867.2" cy="457.8" r="6.0"/><circle cx="886.7" cy="450.3" r="6.0"/><circle cx="940.6" cy="442.9" r="6.0"/><circle cx="975.8" cy="442.9" r="6.0"/><circle cx="888.6" cy="469.8" r="6.0"/><circle cx="880.2" cy="482.8" r="6.0"/><circle cx="901.6" cy="481.9" r="6.0"/><circle cx="802.3" cy="485.6" r="6.0"/><circle cx="852.4" cy="483.8" r="6.0"/><circle cx="876.5" cy="499.5" r="6.0"/><circle cx="851.5" cy="511.6" r="6.0"/><circle cx="807.8" cy="527.4" r="6.0"/><circle cx="826.4" cy="520.9" r="6.0"/><circle cx="851.5" cy="528.3" r="6.0"/><circle cx="926.6" cy="526.5" r="6.0"/><circle cx="832.9" cy="545.0" r="6.0"/><circle cx="871.0" cy="540.4" r="6.0"/><circle cx="915.5" cy="558.9" r="6.0"/><circle cx="935.0" cy="561.7" r="6.0"/><circle cx="902.5" cy="595.1" r="6.0"/><circle cx="809.7" cy="584.0" r="6.0"/><circle cx="874.7" cy="604.4" r="6.0"/><circle cx="930.3" cy="615.5" r="6.0"/><circle cx="959.1" cy="600.7" r="6.0"/><circle cx="860.6" cy="619.0" r="6.0"/><circle cx="763.1" cy="635.7" r="6.0"/><circle cx="757.5" cy="615.3" r="6.0"/><circle cx="706.5" cy="620.8" r="6.0"/><circle cx="720.4" cy="630.1" r="6.0"/><circle cx="765.9" cy="619.9" r="6.0"/><circle cx="902.3" cy="635.7" r="6.0"/><circle cx="915.3" cy="635.7" r="6.0"/><circle cx="946.9" cy="624.5" r="6.0"/><circle cx="952.4" cy="647.7" r="6.0"/><circle cx="971.0" cy="654.2" r="6.0"/><circle cx="932.0" cy="655.2" r="6.0"/><circle cx="954.3" cy="667.2" r="6.0"/><circle cx="947.8" cy="676.5" r="6.0"/><circle cx="946.9" cy="691.4" r="6.0"/><circle cx="938.5" cy="704.4" r="6.0"/><circle cx="946.9" cy="726.6" r="6.0"/><circle cx="959.9" cy="740.6" r="6.0"/><circle cx="934.8" cy="745.2" r="6.0"/><circle cx="713.9" cy="651.5" r="6.0"/><circle cx="728.8" cy="651.5" r="6.0"/><circle cx="744.5" cy="653.3" r="6.0"/><circle cx="815.1" cy="642.2" r="6.0"/><circle cx="837.4" cy="645.0" r="6.0"/><circle cx="854.1" cy="654.2" r="6.0"/><circle cx="840.1" cy="659.8" r="6.0"/><circle cx="868.0" cy="646.8" r="6.0"/><circle cx="906.0" cy="658.0" r="6.0"/><circle cx="916.2" cy="667.2" r="6.0"/><circle cx="911.6" cy="672.8" r="6.0"/><circle cx="844.8" cy="676.5" r="6.0"/><circle cx="713.9" cy="669.1" r="6.0"/><circle cx="733.4" cy="672.8" r="6.0"/><circle cx="750.1" cy="676.5" r="6.0"/><circle cx="766.8" cy="679.3" r="6.0"/><circle cx="703.7" cy="689.5" r="6.0"/><circle cx="723.2" cy="689.5" r="6.0"/><circle cx="754.8" cy="690.4" r="6.0"/><circle cx="769.6" cy="695.1" r="6.0"/><circle cx="739.9" cy="699.7" r="6.0"/><circle cx="729.7" cy="698.8" r="6.0"/><circle cx="828.1" cy="708.1" r="6.0"/><circle cx="883.8" cy="702.5" r="6.0"/><circle cx="904.2" cy="698.8" r="6.0"/><circle cx="901.4" cy="708.1" r="6.0"/><circle cx="919.0" cy="691.4" r="6.0"/><circle cx="920.9" cy="706.2" r="6.0"/><circle cx="926.5" cy="681.2" r="6.0"/><circle cx="918.1" cy="683.9" r="6.0"/><circle cx="882.8" cy="737.8" r="6.0"/><circle cx="905.1" cy="732.2" r="6.0"/><circle cx="920.9" cy="721.1" r="6.0"/><circle cx="921.8" cy="735.9" r="6.0"/><circle cx="831.8" cy="720.1" r="6.0"/><circle cx="828.1" cy="734.1" r="6.0"/><circle cx="841.1" cy="726.6" r="6.0"/><circle cx="753.8" cy="709.9" r="6.0"/><circle cx="711.1" cy="713.6" r="6.0"/><circle cx="726.0" cy="715.5" r="6.0"/><circle cx="752.9" cy="722.9" r="6.0"/><circle cx="722.3" cy="734.1" r="6.0"/><circle cx="708.4" cy="739.6" r="6.0"/><circle cx="776.1" cy="748.9" r="6.0"/><circle cx="807.7" cy="744.3" r="6.0"/><circle cx="837.4" cy="758.2" r="6.0"/><circle cx="849.4" cy="763.8" r="6.0"/><circle cx="868.0" cy="760.0" r="6.0"/><circle cx="886.5" cy="755.4" r="6.0"/><circle cx="896.8" cy="752.6" r="6.0"/><circle cx="907.9" cy="748.0" r="6.0"/><circle cx="894.0" cy="767.5" r="6.0"/><circle cx="910.7" cy="767.5" r="6.0"/><circle cx="794.7" cy="765.6" r="6.0"/><circle cx="821.6" cy="769.3" r="6.0"/><circle cx="775.2" cy="776.8" r="6.0"/><circle cx="752.0" cy="781.4" r="6.0"/><circle cx="837.4" cy="782.3" r="6.0"/><circle cx="842.9" cy="776.8" r="6.0"/><circle cx="861.5" cy="780.5" r="6.0"/><circle cx="878.2" cy="777.7" r="6.0"/><circle cx="881.0" cy="786.0" r="6.0"/><circle cx="858.7" cy="794.4" r="6.0"/><circle cx="875.4" cy="795.3" r="6.0"/><circle cx="796.5" cy="795.3" r="6.0"/><circle cx="742.7" cy="801.8" r="6.0"/><circle cx="778.0" cy="819.4" r="6.0"/><circle cx="743.6" cy="821.3" r="6.0"/><circle cx="762.2" cy="827.8" r="6.0"/><circle cx="806.7" cy="841.7" r="6.0"/><circle cx="719.5" cy="852.9" r="6.0"/><circle cx="746.4" cy="888.1" r="6.0"/><circle cx="517.9" cy="681.8" r="6.0"/><circle cx="505.8" cy="695.7" r="6.0"/><circle cx="532.7" cy="652.1" r="6.0"/><circle cx="550.3" cy="681.8" r="6.0"/><circle cx="601.4" cy="677.1" r="6.0"/><circle cx="555.0" cy="694.8" r="6.0"/><circle cx="525.3" cy="705.9" r="6.0"/><circle cx="546.6" cy="714.2" r="6.0"/><circle cx="557.8" cy="715.2" r="6.0"/><circle cx="568.9" cy="715.2" r="6.0"/><circle cx="591.2" cy="722.6" r="6.0"/><circle cx="602.3" cy="700.3" r="6.0"/><circle cx="614.4" cy="713.3" r="6.0"/><circle cx="627.4" cy="720.7" r="6.0"/><circle cx="636.7" cy="703.1" r="6.0"/><circle cx="624.6" cy="666.9" r="6.0"/><circle cx="641.3" cy="681.8" r="6.0"/><circle cx="661.7" cy="645.6" r="6.0"/><circle cx="692.3" cy="643.7" r="6.0"/><circle cx="667.3" cy="666.9" r="6.0"/><circle cx="658.0" cy="677.1" r="6.0"/><circle cx="665.4" cy="688.3" r="6.0"/><circle cx="674.7" cy="685.5" r="6.0"/><circle cx="685.8" cy="675.3" r="6.0"/><circle cx="685.8" cy="693.8" r="6.0"/><circle cx="652.4" cy="709.6" r="6.0"/><circle cx="667.3" cy="710.5" r="6.0"/><circle cx="694.2" cy="706.8" r="6.0"/><circle cx="648.7" cy="721.7" r="6.0"/><circle cx="665.4" cy="725.4" r="6.0"/><circle cx="696.1" cy="721.7" r="6.0"/><circle cx="686.8" cy="731.0" r="6.0"/><circle cx="651.5" cy="738.4" r="6.0"/><circle cx="743.4" cy="729.1" r="6.0"/><circle cx="498.4" cy="746.7" r="6.0"/><circle cx="521.6" cy="734.7" r="6.0"/><circle cx="550.3" cy="754.2" r="6.0"/><circle cx="575.4" cy="756.9" r="6.0"/><circle cx="602.3" cy="743.9" r="6.0"/><circle cx="616.2" cy="741.2" r="6.0"/><circle cx="628.3" cy="740.2" r="6.0"/><circle cx="625.5" cy="749.5" r="6.0"/><circle cx="633.9" cy="751.4" r="6.0"/><circle cx="624.6" cy="758.8" r="6.0"/><circle cx="652.4" cy="756.9" r="6.0"/><circle cx="668.2" cy="751.4" r="6.0"/><circle cx="687.7" cy="740.2" r="6.0"/><circle cx="692.3" cy="751.4" r="6.0"/><circle cx="464.0" cy="769.9" r="6.0"/><circle cx="534.6" cy="766.2" r="6.0"/><circle cx="571.7" cy="772.7" r="6.0"/><circle cx="598.6" cy="769.9" r="6.0"/><circle cx="627.4" cy="783.9" r="6.0"/><circle cx="515.1" cy="778.3" r="6.0"/><circle cx="507.7" cy="786.6" r="6.0"/><circle cx="498.4" cy="786.6" r="6.0"/><circle cx="587.5" cy="795.9" r="6.0"/><circle cx="610.7" cy="793.1" r="6.0"/><circle cx="645.0" cy="799.6" r="6.0"/><circle cx="663.6" cy="788.5" r="6.0"/><circle cx="672.9" cy="772.7" r="6.0"/><circle cx="677.5" cy="782.9" r="6.0"/><circle cx="697.0" cy="769.0" r="6.0"/><circle cx="697.9" cy="789.4" r="6.0"/><circle cx="508.6" cy="810.8" r="6.0"/><circle cx="531.8" cy="808.9" r="6.0"/><circle cx="552.2" cy="814.5" r="6.0"/><circle cx="594.9" cy="808.0" r="6.0"/><circle cx="659.9" cy="808.9" r="6.0"/><circle cx="684.9" cy="804.3" r="6.0"/><circle cx="527.1" cy="827.5" r="6.0"/><circle cx="668.2" cy="828.4" r="6.0"/><circle cx="691.4" cy="849.7" r="6.0"/><circle cx="730.4" cy="899.9" r="6.0"/><circle cx="752.7" cy="907.3" r="6.0"/><circle cx="737.8" cy="912.9" r="6.0"/><circle cx="740.6" cy="924.9" r="6.0"/><circle cx="730.4" cy="934.2" r="6.0"/><circle cx="251.9" cy="615.1" r="6.0"/><circle cx="263.9" cy="606.7" r="6.0"/><circle cx="291.8" cy="609.5" r="6.0"/><circle cx="318.7" cy="609.5" r="6.0"/><circle cx="304.8" cy="618.8" r="6.0"/><circle cx="321.5" cy="621.6" r="6.0"/><circle cx="224.0" cy="620.6" r="6.0"/><circle cx="534.0" cy="629.9" r="6.0"/><circle cx="288.1" cy="648.5" r="6.0"/><circle cx="363.2" cy="644.8" r="6.0"/><circle cx="633.9" cy="516.9" r="6.0"/><circle cx="844.8" cy="546.4" r="6.0"/><circle cx="813.6" cy="436.7" r="6.0"/><circle cx="931.4" cy="695.7" r="6.0"/><circle cx="632.5" cy="687.1" r="6.0"/><circle cx="740.8" cy="489.9" r="6.0"/><circle cx="602.6" cy="786.2" r="6.0"/><circle cx="742.9" cy="415.7" r="6.0"/><circle cx="785.0" cy="792.5" r="6.0"/><circle cx="725.4" cy="465.0" r="6.0"/><circle cx="617.3" cy="627.2" r="6.0"/><circle cx="770.9" cy="439.6" r="6.0"/><circle cx="572.8" cy="742.1" r="6.0"/><circle cx="573.2" cy="729.8" r="6.0"/><circle cx="685.8" cy="828.7" r="6.0"/><circle cx="831.2" cy="353.7" r="6.0"/><circle cx="652.7" cy="516.8" r="6.0"/><circle cx="699.9" cy="807.2" r="6.0"/><circle cx="651.0" cy="782.9" r="6.0"/><circle cx="878.9" cy="767.5" r="6.0"/><circle cx="771.8" cy="405.6" r="6.0"/><circle cx="927.8" cy="667.1" r="6.0"/><circle cx="744.7" cy="713.7" r="6.0"/><circle cx="754.8" cy="794.0" r="6.0"/><circle cx="685.2" cy="627.6" r="6.0"/><circle cx="616.6" cy="765.0" r="6.0"/><circle cx="623.1" cy="610.2" r="6.0"/><circle cx="716.8" cy="504.5" r="6.0"/><circle cx="775.9" cy="763.9" r="6.0"/><circle cx="846.3" cy="354.5" r="6.0"/><circle cx="897.7" cy="491.0" r="6.0"/><circle cx="920.9" cy="335.0" r="6.0"/><circle cx="747.0" cy="667.0" r="6.0"/><circle cx="604.9" cy="808.0" r="6.0"/><circle cx="645.7" cy="538.6" r="6.0"/><circle cx="815.8" cy="728.6" r="6.0"/><circle cx="653.5" cy="550.6" r="6.0"/><circle cx="698.0" cy="626.9" r="6.0"/><circle cx="684.2" cy="814.0" r="6.0"/><circle cx="617.9" cy="731.3" r="6.0"/><circle cx="643.6" cy="563.1" r="6.0"/><circle cx="635.3" cy="576.7" r="6.0"/><circle cx="621.3" cy="681.1" r="6.0"/><circle cx="657.9" cy="697.2" r="6.0"/><circle cx="742.5" cy="563.8" r="6.0"/><circle cx="710.1" cy="433.2" r="6.0"/><circle cx="608.5" cy="721.7" r="6.0"/><circle cx="625.8" cy="770.7" r="6.0"/><circle cx="644.3" cy="608.1" r="6.0"/><circle cx="859.9" cy="747.6" r="6.0"/><circle cx="611.3" cy="693.8" r="6.0"/><circle cx="729.2" cy="536.8" r="6.0"/><circle cx="757.3" cy="601.6" r="6.0"/><circle cx="680.5" cy="655.9" r="6.0"/><circle cx="633.8" cy="614.9" r="6.0"/><circle cx="611.2" cy="754.0" r="6.0"/><circle cx="1028.4" cy="319.5" r="6.0"/><circle cx="637.2" cy="721.9" r="6.0"/><circle cx="677.8" cy="710.1" r="6.0"/><circle cx="764.9" cy="384.8" r="6.0"/><circle cx="769.2" cy="811.9" r="6.0"/><circle cx="902.6" cy="351.2" r="6.0"/><circle cx="834.7" cy="404.1" r="6.0"/><circle cx="875.9" cy="447.8" r="6.0"/><circle cx="779.2" cy="685.9" r="6.0"/><circle cx="687.6" cy="570.4" r="6.0"/><circle cx="582.7" cy="781.2" r="6.0"/><circle cx="714.8" cy="757.8" r="6.0"/><circle cx="742.3" cy="632.4" r="6.0"/><circle cx="762.4" cy="579.2" r="6.0"/><circle cx="684.6" cy="488.1" r="6.0"/><circle cx="708.6" cy="765.4" r="6.0"/><circle cx="626.6" cy="586.6" r="6.0"/><circle cx="939.6" cy="717.4" r="6.0"/><circle cx="707.1" cy="508.3" r="6.0"/><circle cx="590.7" cy="747.0" r="6.0"/><circle cx="662.7" cy="509.6" r="6.0"/><circle cx="636.7" cy="494.5" r="6.0"/><circle cx="656.3" cy="773.1" r="6.0"/><circle cx="805.5" cy="405.3" r="6.0"/><circle cx="859.4" cy="522.6" r="6.0"/><circle cx="968.2" cy="665.9" r="6.0"/><circle cx="1007.7" cy="337.2" r="6.0"/><circle cx="777.1" cy="496.4" r="6.0"/><circle cx="862.7" cy="490.0" r="6.0"/><circle cx="660.7" cy="542.3" r="6.0"/><circle cx="686.9" cy="785.2" r="6.0"/><circle cx="850.1" cy="472.5" r="6.0"/><circle cx="797.1" cy="442.8" r="6.0"/><circle cx="842.4" cy="716.2" r="6.0"/><circle cx="942.3" cy="647.2" r="6.0"/><circle cx="858.2" cy="346.5" r="6.0"/><circle cx="825.4" cy="748.5" r="6.0"/><circle cx="736.9" cy="814.4" r="6.0"/><circle cx="729.9" cy="408.7" r="6.0"/><circle cx="674.8" cy="531.3" r="6.0"/><circle cx="931.1" cy="725.7" r="6.0"/><circle cx="768.4" cy="449.7" r="6.0"/><circle cx="747.9" cy="582.2" r="6.0"/><circle cx="1008.0" cy="363.5" r="6.0"/><circle cx="615.2" cy="590.7" r="6.0"/><circle cx="602.7" cy="617.4" r="6.0"/><circle cx="842.6" cy="522.8" r="6.0"/><circle cx="920.9" cy="619.7" r="6.0"/><circle cx="816.5" cy="368.2" r="6.0"/><circle cx="671.1" cy="572.6" r="6.0"/><circle cx="919.4" cy="648.1" r="6.0"/><circle cx="671.5" cy="803.2" r="6.0"/><circle cx="658.3" cy="590.9" r="6.0"/><circle cx="948.9" cy="737.0" r="6.0"/><circle cx="649.4" cy="583.6" r="6.0"/><circle cx="983.2" cy="334.9" r="6.0"/><circle cx="937.9" cy="668.8" r="6.0"/><circle cx="775.9" cy="385.0" r="6.0"/><circle cx="848.4" cy="337.5" r="6.0"/><circle cx="720.5" cy="431.1" r="6.0"/>
</g>
<g fill="#ffff00">
<circle cx="230.2" cy="242.2" r="6.0"/><circle cx="363.9" cy="548.2" r="6.0"/><circle cx="368.5" cy="568.6" r="6.0"/><circle cx="541.1" cy="423.4" r="6.0"/><circle cx="554.1" cy="431.8" r="6.0"/><circle cx="578.2" cy="452.2" r="6.0"/><circle cx="505.8" cy="505.1" r="6.0"/><circle cx="581.0" cy="535.7" r="6.0"/><circle cx="620.0" cy="528.3" r="6.0"/><circle cx="596.8" cy="546.9" r="6.0"/><circle cx="698.8" cy="578.4" r="6.0"/><circle cx="732.3" cy="593.3" r="6.0"/><circle cx="752.7" cy="610.0" r="6.0"/><circle cx="807.8" cy="419.7" r="6.0"/><circle cx="734.3" cy="624.5" r="6.0"/><circle cx="910.7" cy="627.3" r="6.0"/><circle cx="932.9" cy="640.3" r="6.0"/><circle cx="800.2" cy="704.4" r="6.0"/><circle cx="571.7" cy="684.5" r="6.0"/><circle cx="583.8" cy="683.6" r="6.0"/><circle cx="543.9" cy="842.3" r="6.0"/><circle cx="351.2" cy="621.6" r="6.0"/><circle cx="591.8" cy="635.1" r="6.0"/><circle cx="742.0" cy="593.8" r="6.0"/><circle cx="722.3" cy="583.5" r="6.0"/><circle cx="589.6" cy="696.6" r="6.0"/><circle cx="744.1" cy="617.6" r="6.0"/>
</g>
<g fill="#0a6a0a">
<circle cx="241.3" cy="199.5" r="6.0"/><circle cx="336.9" cy="262.6" r="6.0"/><circle cx="317.4" cy="275.6" r="6.0"/><circle cx="389.0" cy="593.7" r="6.0"/><circle cx="581.9" cy="496.8" r="6.0"/><circle cx="454.8" cy="517.2" r="6.0"/><circle cx="479.8" cy="529.2" r="6.0"/><circle cx="544.8" cy="520.9" r="6.0"/><circle cx="496.5" cy="551.5" r="6.0"/><circle cx="568.0" cy="548.7" r="6.0"/><circle cx="551.3" cy="558.9" r="6.0"/><circle cx="587.5" cy="564.5" r="6.0"/><circle cx="636.7" cy="554.3" r="6.0"/><circle cx="541.1" cy="573.8" r="6.0"/><circle cx="554.1" cy="607.2" r="6.0"/><circle cx="501.2" cy="664.1" r="6.0"/><circle cx="559.6" cy="737.4" r="6.0"/><circle cx="557.8" cy="790.3" r="6.0"/><circle cx="340.0" cy="609.5" r="6.0"/><circle cx="482.0" cy="631.8" r="6.0"/><circle cx="623.1" cy="558.4" r="6.0"/>
</g>
<g fill="#f00000">
<circle cx="173.5" cy="291.4" r="6.0"/><circle cx="202.3" cy="284.9" r="6.0"/><circle cx="213.5" cy="303.5" r="6.0"/><circle cx="251.5" cy="284.9" r="6.0"/><circle cx="269.1" cy="216.2" r="6.0"/><circle cx="348.0" cy="297.0" r="6.0"/><circle cx="370.3" cy="283.1" r="6.0"/><circle cx="387.0" cy="288.6" r="6.0"/><circle cx="415.3" cy="286.5" r="6.0"/><circle cx="445.0" cy="302.3" r="6.0"/><circle cx="474.7" cy="282.8" r="6.0"/><circle cx="461.7" cy="336.7" r="6.0"/><circle cx="504.4" cy="335.7" r="6.0"/><circle cx="577.7" cy="340.4" r="6.0"/><circle cx="600.9" cy="357.1" r="6.0"/><circle cx="583.2" cy="408.1" r="6.0"/><circle cx="571.2" cy="415.5" r="6.0"/><circle cx="643.6" cy="389.6" r="6.0"/><circle cx="661.2" cy="399.8" r="6.0"/><circle cx="675.1" cy="359.9" r="6.0"/><circle cx="714.1" cy="357.1" r="6.0"/><circle cx="742.9" cy="333.9" r="6.0"/><circle cx="738.2" cy="383.1" r="6.0"/><circle cx="723.4" cy="417.4" r="6.0"/><circle cx="775.4" cy="306.0" r="6.0"/><circle cx="878.4" cy="186.1" r="6.0"/><circle cx="952.6" cy="184.3" r="6.0"/><circle cx="974.0" cy="196.3" r="6.0"/><circle cx="963.8" cy="200.0" r="6.0"/><circle cx="932.2" cy="221.4" r="6.0"/><circle cx="970.3" cy="221.4" r="6.0"/><circle cx="948.0" cy="233.5" r="6.0"/><circle cx="961.9" cy="242.7" r="6.0"/><circle cx="987.0" cy="241.8" r="6.0"/><circle cx="1000.0" cy="250.2" r="6.0"/><circle cx="985.1" cy="254.8" r="6.0"/><circle cx="969.3" cy="262.2" r="6.0"/><circle cx="932.2" cy="272.4" r="6.0"/><circle cx="907.1" cy="290.1" r="6.0"/><circle cx="805.1" cy="299.4" r="6.0"/><circle cx="814.3" cy="280.8" r="6.0"/><circle cx="793.9" cy="333.7" r="6.0"/><circle cx="973.0" cy="324.4" r="6.0"/><circle cx="958.2" cy="333.7" r="6.0"/><circle cx="246.0" cy="353.3" r="6.0"/><circle cx="329.6" cy="372.8" r="6.0"/><circle cx="603.2" cy="442.0" r="6.0"/><circle cx="625.5" cy="459.6" r="6.0"/><circle cx="778.7" cy="585.8" r="6.0"/><circle cx="792.6" cy="562.6" r="6.0"/><circle cx="715.5" cy="530.2" r="6.0"/><circle cx="721.1" cy="519.0" r="6.0"/><circle cx="732.3" cy="522.7" r="6.0"/><circle cx="765.7" cy="513.5" r="6.0"/><circle cx="789.8" cy="520.9" r="6.0"/><circle cx="658.0" cy="461.5" r="6.0"/><circle cx="658.0" cy="421.6" r="6.0"/><circle cx="692.3" cy="451.3" r="6.0"/><circle cx="945.2" cy="346.4" r="6.0"/><circle cx="962.8" cy="355.7" r="6.0"/><circle cx="971.2" cy="361.3" r="6.0"/><circle cx="852.4" cy="380.7" r="6.0"/><circle cx="886.7" cy="365.0" r="6.0"/><circle cx="868.2" cy="381.7" r="6.0"/><circle cx="888.6" cy="383.5" r="6.0"/><circle cx="907.1" cy="377.0" r="6.0"/><circle cx="922.9" cy="365.9" r="6.0"/><circle cx="920.1" cy="389.1" r="6.0"/><circle cx="1008.3" cy="375.2" r="6.0"/><circle cx="984.2" cy="386.3" r="6.0"/><circle cx="965.6" cy="388.2" r="6.0"/><circle cx="861.7" cy="396.5" r="6.0"/><circle cx="876.5" cy="396.5" r="6.0"/><circle cx="895.1" cy="400.2" r="6.0"/><circle cx="900.6" cy="409.5" r="6.0"/><circle cx="873.7" cy="412.3" r="6.0"/><circle cx="844.0" cy="422.5" r="6.0"/><circle cx="851.5" cy="435.5" r="6.0"/><circle cx="881.2" cy="429.0" r="6.0"/><circle cx="824.5" cy="440.1" r="6.0"/><circle cx="826.4" cy="463.3" r="6.0"/><circle cx="845.0" cy="456.8" r="6.0"/><circle cx="905.3" cy="447.6" r="6.0"/><circle cx="957.3" cy="443.9" r="6.0"/><circle cx="959.1" cy="461.5" r="6.0"/><circle cx="920.1" cy="465.2" r="6.0"/><circle cx="935.9" cy="463.3" r="6.0"/><circle cx="944.3" cy="480.0" r="6.0"/><circle cx="881.2" cy="474.5" r="6.0"/><circle cx="822.7" cy="490.3" r="6.0"/><circle cx="898.8" cy="504.2" r="6.0"/><circle cx="916.4" cy="495.8" r="6.0"/><circle cx="930.3" cy="496.8" r="6.0"/><circle cx="819.0" cy="507.0" r="6.0"/><circle cx="924.8" cy="511.6" r="6.0"/><circle cx="869.1" cy="527.4" r="6.0"/><circle cx="887.7" cy="530.2" r="6.0"/><circle cx="902.5" cy="526.5" r="6.0"/><circle cx="908.1" cy="519.0" r="6.0"/><circle cx="919.2" cy="533.9" r="6.0"/><circle cx="941.5" cy="536.7" r="6.0"/><circle cx="802.3" cy="545.0" r="6.0"/><circle cx="819.9" cy="538.5" r="6.0"/><circle cx="858.0" cy="542.2" r="6.0"/><circle cx="883.9" cy="545.0" r="6.0"/><circle cx="906.2" cy="541.3" r="6.0"/><circle cx="922.9" cy="542.2" r="6.0"/><circle cx="954.5" cy="546.9" r="6.0"/><circle cx="909.9" cy="550.6" r="6.0"/><circle cx="950.8" cy="558.0" r="6.0"/><circle cx="873.7" cy="555.2" r="6.0"/><circle cx="820.8" cy="566.4" r="6.0"/><circle cx="858.0" cy="565.4" r="6.0"/><circle cx="891.4" cy="563.6" r="6.0"/><circle cx="898.8" cy="570.1" r="6.0"/><circle cx="909.9" cy="572.9" r="6.0"/><circle cx="880.2" cy="576.6" r="6.0"/><circle cx="856.1" cy="584.0" r="6.0"/><circle cx="937.8" cy="576.6" r="6.0"/><circle cx="958.2" cy="569.1" r="6.0"/><circle cx="967.5" cy="574.7" r="6.0"/><circle cx="922.9" cy="584.0" r="6.0"/><circle cx="947.1" cy="584.0" r="6.0"/><circle cx="965.6" cy="589.6" r="6.0"/><circle cx="978.6" cy="592.3" r="6.0"/><circle cx="938.7" cy="595.1" r="6.0"/><circle cx="875.6" cy="591.4" r="6.0"/><circle cx="891.4" cy="591.4" r="6.0"/><circle cx="824.5" cy="589.6" r="6.0"/><circle cx="798.6" cy="587.7" r="6.0"/><circle cx="810.6" cy="599.8" r="6.0"/><circle cx="827.3" cy="600.7" r="6.0"/><circle cx="795.8" cy="610.0" r="6.0"/><circle cx="844.0" cy="610.0" r="6.0"/><circle cx="887.7" cy="611.8" r="6.0"/><circle cx="906.2" cy="610.0" r="6.0"/><circle cx="921.1" cy="604.4" r="6.0"/><circle cx="950.8" cy="608.1" r="6.0"/><circle cx="974.9" cy="613.7" r="6.0"/><circle cx="873.5" cy="623.6" r="6.0"/><circle cx="887.5" cy="622.7" r="6.0"/><circle cx="823.4" cy="616.2" r="6.0"/><circle cx="806.7" cy="622.7" r="6.0"/><circle cx="829.9" cy="627.3" r="6.0"/><circle cx="848.5" cy="630.1" r="6.0"/><circle cx="786.3" cy="630.1" r="6.0"/><circle cx="958.0" cy="623.6" r="6.0"/><circle cx="971.9" cy="626.4" r="6.0"/><circle cx="984.9" cy="630.1" r="6.0"/><circle cx="987.7" cy="659.8" r="6.0"/><circle cx="971.9" cy="680.2" r="6.0"/><circle cx="963.6" cy="691.4" r="6.0"/><circle cx="954.3" cy="700.6" r="6.0"/><circle cx="769.6" cy="649.6" r="6.0"/><circle cx="777.0" cy="660.7" r="6.0"/><circle cx="791.0" cy="656.1" r="6.0"/><circle cx="806.7" cy="654.2" r="6.0"/><circle cx="801.2" cy="641.3" r="6.0"/><circle cx="826.2" cy="641.3" r="6.0"/><circle cx="868.0" cy="671.0" r="6.0"/><circle cx="883.8" cy="659.8" r="6.0"/><circle cx="894.9" cy="651.5" r="6.0"/><circle cx="896.8" cy="675.6" r="6.0"/><circle cx="861.5" cy="684.9" r="6.0"/><circle cx="836.4" cy="691.4" r="6.0"/><circle cx="817.9" cy="670.0" r="6.0"/><circle cx="803.9" cy="671.0" r="6.0"/><circle cx="791.0" cy="668.2" r="6.0"/><circle cx="802.1" cy="685.8" r="6.0"/><circle cx="811.4" cy="691.4" r="6.0"/><circle cx="788.2" cy="701.6" r="6.0"/><circle cx="798.4" cy="715.5" r="6.0"/><circle cx="814.2" cy="709.9" r="6.0"/><circle cx="859.6" cy="700.6" r="6.0"/><circle cx="849.4" cy="709.0" r="6.0"/><circle cx="885.6" cy="693.2" r="6.0"/><circle cx="878.2" cy="713.6" r="6.0"/><circle cx="873.5" cy="722.0" r="6.0"/><circle cx="887.5" cy="726.6" r="6.0"/><circle cx="853.1" cy="738.7" r="6.0"/><circle cx="794.7" cy="726.6" r="6.0"/><circle cx="777.0" cy="733.1" r="6.0"/><circle cx="770.5" cy="708.1" r="6.0"/><circle cx="735.3" cy="726.6" r="6.0"/><circle cx="793.7" cy="748.0" r="6.0"/><circle cx="727.8" cy="757.3" r="6.0"/><circle cx="747.3" cy="755.4" r="6.0"/><circle cx="922.7" cy="766.5" r="6.0"/><circle cx="728.8" cy="777.7" r="6.0"/><circle cx="818.8" cy="782.3" r="6.0"/><circle cx="911.6" cy="787.0" r="6.0"/><circle cx="850.3" cy="789.7" r="6.0"/><circle cx="893.0" cy="796.2" r="6.0"/><circle cx="811.4" cy="794.4" r="6.0"/><circle cx="770.5" cy="800.9" r="6.0"/><circle cx="721.3" cy="793.5" r="6.0"/><circle cx="828.1" cy="803.7" r="6.0"/><circle cx="818.8" cy="809.2" r="6.0"/><circle cx="841.1" cy="809.2" r="6.0"/><circle cx="797.4" cy="811.1" r="6.0"/><circle cx="885.6" cy="807.4" r="6.0"/><circle cx="864.3" cy="814.8" r="6.0"/><circle cx="707.4" cy="817.6" r="6.0"/><circle cx="724.1" cy="826.9" r="6.0"/><circle cx="819.7" cy="822.2" r="6.0"/><circle cx="805.8" cy="828.7" r="6.0"/><circle cx="786.3" cy="839.9" r="6.0"/><circle cx="764.0" cy="847.3" r="6.0"/><circle cx="747.3" cy="858.4" r="6.0"/><circle cx="705.6" cy="838.9" r="6.0"/><circle cx="641.3" cy="666.9" r="6.0"/><circle cx="633.9" cy="647.4" r="6.0"/><circle cx="646.9" cy="647.4" r="6.0"/><circle cx="677.5" cy="643.7" r="6.0"/><circle cx="662.6" cy="657.6" r="6.0"/><circle cx="482.6" cy="747.7" r="6.0"/><circle cx="697.0" cy="844.2" r="6.0"/><circle cx="961.5" cy="339.0" r="6.0"/><circle cx="949.1" cy="536.5" r="6.0"/><circle cx="776.3" cy="579.4" r="6.0"/><circle cx="975.8" cy="585.2" r="6.0"/><circle cx="920.1" cy="592.2" r="6.0"/><circle cx="954.9" cy="587.5" r="6.0"/><circle cx="659.8" cy="619.6" r="6.0"/><circle cx="834.3" cy="631.6" r="6.0"/><circle cx="852.8" cy="638.6" r="6.0"/><circle cx="892.3" cy="631.6" r="6.0"/><circle cx="748.1" cy="761.6" r="6.0"/><circle cx="820.5" cy="788.5" r="6.0"/><circle cx="826.0" cy="813.5" r="6.0"/><circle cx="787.4" cy="718.0" r="6.0"/><circle cx="885.3" cy="414.1" r="6.0"/><circle cx="766.3" cy="754.6" r="6.0"/><circle cx="746.0" cy="765.0" r="6.0"/><circle cx="851.7" cy="805.6" r="6.0"/><circle cx="836.0" cy="476.1" r="6.0"/><circle cx="873.9" cy="663.2" r="6.0"/><circle cx="819.0" cy="452.3" r="6.0"/><circle cx="992.3" cy="378.5" r="6.0"/><circle cx="837.1" cy="556.3" r="6.0"/><circle cx="849.1" cy="599.3" r="6.0"/><circle cx="833.9" cy="593.1" r="6.0"/><circle cx="644.3" cy="657.4" r="6.0"/><circle cx="895.6" cy="548.4" r="6.0"/><circle cx="788.2" cy="580.3" r="6.0"/><circle cx="829.9" cy="824.4" r="6.0"/><circle cx="836.4" cy="794.3" r="6.0"/><circle cx="839.4" cy="566.1" r="6.0"/><circle cx="759.0" cy="764.9" r="6.0"/><circle cx="767.3" cy="665.4" r="6.0"/><circle cx="784.9" cy="612.6" r="6.0"/><circle cx="829.6" cy="448.5" r="6.0"/><circle cx="841.7" cy="437.4" r="6.0"/><circle cx="733.3" cy="746.6" r="6.0"/><circle cx="810.2" cy="804.5" r="6.0"/><circle cx="868.8" cy="693.9" r="6.0"/><circle cx="808.7" cy="816.7" r="6.0"/><circle cx="896.8" cy="365.9" r="6.0"/><circle cx="760.3" cy="656.1" r="6.0"/><circle cx="847.8" cy="395.6" r="6.0"/><circle cx="646.8" cy="622.5" r="6.0"/><circle cx="985.4" cy="649.5" r="6.0"/><circle cx="951.7" cy="359.4" r="6.0"/><circle cx="946.2" cy="470.7" r="6.0"/><circle cx="833.7" cy="493.7" r="6.0"/><circle cx="718.3" cy="777.1" r="6.0"/><circle cx="825.2" cy="690.1" r="6.0"/><circle cx="844.7" cy="404.9" r="6.0"/><circle cx="736.3" cy="765.8" r="6.0"/><circle cx="875.8" cy="365.0" r="6.0"/><circle cx="869.6" cy="579.0" r="6.0"/><circle cx="819.7" cy="577.4" r="6.0"/><circle cx="733.9" cy="793.2" r="6.0"/><circle cx="718.8" cy="836.7" r="6.0"/><circle cx="916.2" cy="485.3" r="6.0"/><circle cx="818.2" cy="631.7" r="6.0"/><circle cx="810.0" cy="565.2" r="6.0"/><circle cx="777.0" cy="571.5" r="6.0"/><circle cx="851.3" cy="447.2" r="6.0"/><circle cx="728.6" cy="840.3" r="6.0"/><circle cx="749.1" cy="840.5" r="6.0"/><circle cx="967.1" cy="606.5" r="6.0"/><circle cx="892.4" cy="578.0" r="6.0"/><circle cx="935.3" cy="521.3" r="6.0"/>
</g>
<g fill="#0000f5">
<circle cx="109.5" cy="269.1" r="6.0"/><circle cx="1069.6" cy="316.1" r="6.0"/><circle cx="83.6" cy="330.1" r="6.0"/><circle cx="138.4" cy="542.6" r="6.0"/><circle cx="405.7" cy="565.8" r="6.0"/><circle cx="343.5" cy="589.0" r="6.0"/><circle cx="437.2" cy="547.3" r="6.0"/><circle cx="437.2" cy="584.4" r="6.0"/><circle cx="530.9" cy="536.7" r="6.0"/><circle cx="474.2" cy="547.8" r="6.0"/><circle cx="608.8" cy="570.1" r="6.0"/><circle cx="462.2" cy="567.3" r="6.0"/><circle cx="503.9" cy="582.1" r="6.0"/><circle cx="531.8" cy="589.6" r="6.0"/><circle cx="579.1" cy="586.8" r="6.0"/><circle cx="473.3" cy="594.2" r="6.0"/><circle cx="442.7" cy="600.7" r="6.0"/><circle cx="537.4" cy="607.2" r="6.0"/><circle cx="580.0" cy="609.0" r="6.0"/><circle cx="471.5" cy="653.9" r="6.0"/><circle cx="493.7" cy="679.9" r="6.0"/><circle cx="557.8" cy="656.7" r="6.0"/><circle cx="579.1" cy="666.9" r="6.0"/><circle cx="607.0" cy="646.5" r="6.0"/><circle cx="492.8" cy="727.2" r="6.0"/><circle cx="408.7" cy="622.5" r="6.0"/><circle cx="437.5" cy="621.6" r="6.0"/><circle cx="509.9" cy="628.1" r="6.0"/><circle cx="350.3" cy="653.1" r="6.0"/><circle cx="570.9" cy="631.6" r="6.0"/>
</g>
<rect x="1026.8" y="705.1" width="175.2" height="253.9" fill="#fff"/>
<g transform="translate(1026.8 705.1)"><use href="#inset"/></g>
<path d="M1026.8 960 V705.1 H1203" fill="none" stroke="#161616" stroke-width="2.8"/>
</g>
<text x="1243.4" y="81.7" font-size="47.8">(b) NSE</text>
<circle cx="1262.0" cy="699.9" r="9" fill="#0000f5"/>
<text x="1293.5" y="717.5" font-size="47.8">&lt;0.0</text>
<circle cx="1262.0" cy="754.7" r="9" fill="#0a6a0a"/>
<text x="1293.5" y="772.3" font-size="47.8">0.0-0.3</text>
<circle cx="1262.0" cy="808.5" r="9" fill="#ffff00"/>
<text x="1293.5" y="826.4" font-size="47.8">0.3-0.6</text>
<circle cx="1262.0" cy="862.3" r="9" fill="#ffa200"/>
<text x="1293.5" y="880.5" font-size="47.8">0.6-0.9</text>
<circle cx="1262.0" cy="917.1" r="9" fill="#f00000"/>
<text x="1293.5" y="934.7" font-size="47.8">0.9-1.0</text>
<path d="M16.8 975.9 H1209.8 V1923.9 H16.8 Z M19.5 978.1 H1207.5 V1922.5 H19.5 Z" fill="#9c9c9c" fill-rule="evenodd"/>
<path d="M19.5 978.1 H1207.5 V1922.5 H19.5 Z M23.2 980.4 H1202.6 V1917.6 H23.2 Z" fill="#0a0a0a" fill-rule="evenodd"/>
<g transform="translate(0.0 958.6)">
<use href="#map"/>
<g fill="#ffa200">
<circle cx="160.6" cy="305.3" r="6.0"/><circle cx="213.5" cy="303.5" r="6.0"/><circle cx="233.9" cy="277.5" r="6.0"/><circle cx="245.9" cy="295.1" r="6.0"/><circle cx="274.7" cy="288.6" r="6.0"/><circle cx="347.1" cy="246.9" r="6.0"/><circle cx="318.3" cy="294.2" r="6.0"/><circle cx="301.6" cy="297.9" r="6.0"/><circle cx="362.9" cy="175.4" r="6.0"/><circle cx="137.4" cy="317.4" r="6.0"/><circle cx="445.0" cy="302.3" r="6.0"/><circle cx="577.7" cy="340.4" r="6.0"/><circle cx="455.2" cy="370.1" r="6.0"/><circle cx="476.5" cy="362.6" r="6.0"/><circle cx="499.7" cy="372.9" r="6.0"/><circle cx="532.2" cy="383.1" r="6.0"/><circle cx="523.9" cy="388.6" r="6.0"/><circle cx="548.9" cy="400.7" r="6.0"/><circle cx="691.8" cy="377.5" r="6.0"/><circle cx="740.1" cy="399.8" r="6.0"/><circle cx="678.8" cy="415.5" r="6.0"/><circle cx="703.0" cy="417.4" r="6.0"/><circle cx="933.1" cy="61.8" r="6.0"/><circle cx="1001.8" cy="82.2" r="6.0"/><circle cx="965.6" cy="151.8" r="6.0"/><circle cx="963.8" cy="200.0" r="6.0"/><circle cx="948.0" cy="233.5" r="6.0"/><circle cx="961.9" cy="242.7" r="6.0"/><circle cx="1060.3" cy="151.8" r="6.0"/><circle cx="969.3" cy="262.2" r="6.0"/><circle cx="987.0" cy="273.4" r="6.0"/><circle cx="1066.8" cy="305.8" r="6.0"/><circle cx="981.4" cy="292.9" r="6.0"/><circle cx="959.1" cy="292.9" r="6.0"/><circle cx="941.5" cy="294.7" r="6.0"/><circle cx="932.2" cy="272.4" r="6.0"/><circle cx="903.4" cy="316.1" r="6.0"/><circle cx="125.4" cy="329.2" r="6.0"/><circle cx="138.4" cy="354.2" r="6.0"/><circle cx="246.0" cy="353.3" r="6.0"/><circle cx="329.6" cy="332.9" r="6.0"/><circle cx="194.1" cy="392.3" r="6.0"/><circle cx="215.4" cy="392.3" r="6.0"/><circle cx="275.7" cy="382.1" r="6.0"/><circle cx="423.3" cy="447.1" r="6.0"/><circle cx="608.8" cy="424.4" r="6.0"/><circle cx="475.2" cy="463.3" r="6.0"/><circle cx="555.9" cy="476.3" r="6.0"/><circle cx="743.4" cy="525.5" r="6.0"/><circle cx="646.9" cy="453.1" r="6.0"/><circle cx="656.1" cy="453.1" r="6.0"/><circle cx="692.3" cy="451.3" r="6.0"/><circle cx="945.2" cy="346.4" r="6.0"/><circle cx="971.2" cy="361.3" r="6.0"/><circle cx="937.8" cy="368.7" r="6.0"/><circle cx="934.1" cy="377.0" r="6.0"/><circle cx="984.2" cy="386.3" r="6.0"/><circle cx="967.5" cy="376.1" r="6.0"/><circle cx="876.5" cy="396.5" r="6.0"/><circle cx="908.1" cy="403.0" r="6.0"/><circle cx="900.6" cy="409.5" r="6.0"/><circle cx="860.7" cy="411.4" r="6.0"/><circle cx="873.7" cy="412.3" r="6.0"/><circle cx="955.4" cy="411.4" r="6.0"/><circle cx="963.8" cy="409.5" r="6.0"/><circle cx="867.2" cy="438.3" r="6.0"/><circle cx="845.0" cy="456.8" r="6.0"/><circle cx="867.2" cy="457.8" r="6.0"/><circle cx="975.8" cy="442.9" r="6.0"/><circle cx="944.3" cy="480.0" r="6.0"/><circle cx="880.2" cy="482.8" r="6.0"/><circle cx="930.3" cy="496.8" r="6.0"/><circle cx="807.8" cy="527.4" r="6.0"/><circle cx="915.5" cy="558.9" r="6.0"/><circle cx="902.5" cy="595.1" r="6.0"/><circle cx="974.9" cy="613.7" r="6.0"/><circle cx="815.1" cy="642.2" r="6.0"/><circle cx="868.0" cy="646.8" r="6.0"/><circle cx="921.8" cy="735.9" r="6.0"/><circle cx="521.6" cy="734.7" r="6.0"/><circle cx="575.4" cy="756.9" r="6.0"/><circle cx="885.3" cy="414.1" r="6.0"/><circle cx="875.9" cy="447.8" r="6.0"/><circle cx="951.7" cy="359.4" r="6.0"/><circle cx="850.1" cy="472.5" r="6.0"/><circle cx="851.3" cy="447.2" r="6.0"/>
</g>
<g fill="#ffff00">
<circle cx="100.2" cy="284.9" r="6.0"/><circle cx="107.7" cy="294.2" r="6.0"/><circle cx="116.0" cy="293.3" r="6.0"/><circle cx="173.5" cy="291.4" r="6.0"/><circle cx="202.3" cy="284.9" r="6.0"/><circle cx="251.5" cy="284.9" r="6.0"/><circle cx="238.5" cy="223.7" r="6.0"/><circle cx="269.1" cy="216.2" r="6.0"/><circle cx="318.3" cy="237.6" r="6.0"/><circle cx="335.0" cy="245.0" r="6.0"/><circle cx="355.5" cy="270.1" r="6.0"/><circle cx="370.3" cy="283.1" r="6.0"/><circle cx="387.0" cy="288.6" r="6.0"/><circle cx="381.4" cy="259.9" r="6.0"/><circle cx="332.3" cy="176.3" r="6.0"/><circle cx="408.8" cy="198.4" r="6.0"/><circle cx="415.3" cy="286.5" r="6.0"/><circle cx="474.7" cy="282.8" r="6.0"/><circle cx="461.7" cy="336.7" r="6.0"/><circle cx="504.4" cy="335.7" r="6.0"/><circle cx="600.9" cy="357.1" r="6.0"/><circle cx="554.5" cy="409.0" r="6.0"/><circle cx="583.2" cy="408.1" r="6.0"/><circle cx="571.2" cy="415.5" r="6.0"/><circle cx="643.6" cy="389.6" r="6.0"/><circle cx="661.2" cy="399.8" r="6.0"/><circle cx="675.1" cy="359.9" r="6.0"/><circle cx="714.1" cy="357.1" r="6.0"/><circle cx="748.4" cy="354.3" r="6.0"/><circle cx="742.9" cy="333.9" r="6.0"/><circle cx="771.6" cy="353.4" r="6.0"/><circle cx="764.2" cy="362.6" r="6.0"/><circle cx="738.2" cy="383.1" r="6.0"/><circle cx="763.3" cy="411.8" r="6.0"/><circle cx="723.4" cy="417.4" r="6.0"/><circle cx="775.4" cy="306.0" r="6.0"/><circle cx="969.3" cy="71.0" r="6.0"/><circle cx="951.7" cy="82.2" r="6.0"/><circle cx="1021.3" cy="116.5" r="6.0"/><circle cx="1022.2" cy="137.9" r="6.0"/><circle cx="928.5" cy="123.9" r="6.0"/><circle cx="967.5" cy="121.2" r="6.0"/><circle cx="905.3" cy="133.2" r="6.0"/><circle cx="989.7" cy="149.9" r="6.0"/><circle cx="899.7" cy="159.2" r="6.0"/><circle cx="936.8" cy="166.6" r="6.0"/><circle cx="859.8" cy="154.6" r="6.0"/><circle cx="853.3" cy="176.8" r="6.0"/><circle cx="878.4" cy="186.1" r="6.0"/><circle cx="952.6" cy="184.3" r="6.0"/><circle cx="982.3" cy="185.2" r="6.0"/><circle cx="974.0" cy="196.3" r="6.0"/><circle cx="909.0" cy="210.3" r="6.0"/><circle cx="932.2" cy="221.4" r="6.0"/><circle cx="970.3" cy="221.4" r="6.0"/><circle cx="908.1" cy="251.1" r="6.0"/><circle cx="861.7" cy="255.7" r="6.0"/><circle cx="1002.7" cy="174.1" r="6.0"/><circle cx="1013.9" cy="168.5" r="6.0"/><circle cx="1055.6" cy="175.0" r="6.0"/><circle cx="1024.1" cy="187.1" r="6.0"/><circle cx="1008.3" cy="197.3" r="6.0"/><circle cx="1044.5" cy="195.4" r="6.0"/><circle cx="1028.7" cy="207.5" r="6.0"/><circle cx="1001.8" cy="217.7" r="6.0"/><circle cx="1025.0" cy="225.1" r="6.0"/><circle cx="1003.7" cy="234.4" r="6.0"/><circle cx="987.0" cy="241.8" r="6.0"/><circle cx="1023.2" cy="237.2" r="6.0"/><circle cx="1019.4" cy="250.2" r="6.0"/><circle cx="1000.0" cy="250.2" r="6.0"/><circle cx="985.1" cy="254.8" r="6.0"/><circle cx="1007.4" cy="266.9" r="6.0"/><circle cx="1010.2" cy="277.1" r="6.0"/><circle cx="1018.5" cy="285.4" r="6.0"/><circle cx="1034.3" cy="280.8" r="6.0"/><circle cx="1064.9" cy="282.6" r="6.0"/><circle cx="1051.9" cy="238.1" r="6.0"/><circle cx="1085.3" cy="249.2" r="6.0"/><circle cx="1111.3" cy="247.4" r="6.0"/><circle cx="1061.2" cy="217.7" r="6.0"/><circle cx="1075.1" cy="206.5" r="6.0"/><circle cx="1084.4" cy="192.6" r="6.0"/><circle cx="1117.8" cy="195.4" r="6.0"/><circle cx="1134.5" cy="206.5" r="6.0"/><circle cx="1110.4" cy="175.0" r="6.0"/><circle cx="1116.9" cy="162.9" r="6.0"/><circle cx="1092.8" cy="278.9" r="6.0"/><circle cx="1090.0" cy="289.1" r="6.0"/><circle cx="1028.7" cy="298.4" r="6.0"/><circle cx="1043.6" cy="309.6" r="6.0"/><circle cx="1023.2" cy="310.5" r="6.0"/><circle cx="1011.1" cy="304.0" r="6.0"/><circle cx="997.2" cy="300.3" r="6.0"/><circle cx="993.5" cy="313.3" r="6.0"/><circle cx="907.1" cy="290.1" r="6.0"/><circle cx="874.7" cy="278.0" r="6.0"/><circle cx="848.7" cy="295.6" r="6.0"/><circle cx="829.2" cy="294.7" r="6.0"/><circle cx="805.1" cy="299.4" r="6.0"/><circle cx="814.3" cy="280.8" r="6.0"/><circle cx="901.6" cy="331.8" r="6.0"/><circle cx="935.0" cy="328.1" r="6.0"/><circle cx="793.9" cy="333.7" r="6.0"/><circle cx="858.0" cy="335.5" r="6.0"/><circle cx="973.0" cy="324.4" r="6.0"/><circle cx="958.2" cy="333.7" r="6.0"/><circle cx="995.3" cy="333.7" r="6.0"/><circle cx="164.4" cy="376.5" r="6.0"/><circle cx="329.6" cy="372.8" r="6.0"/><circle cx="210.8" cy="512.0" r="6.0"/><circle cx="138.4" cy="542.6" r="6.0"/><circle cx="387.1" cy="504.6" r="6.0"/><circle cx="298.0" cy="567.7" r="6.0"/><circle cx="795.4" cy="369.6" r="6.0"/><circle cx="787.0" cy="394.7" r="6.0"/><circle cx="603.2" cy="442.0" r="6.0"/><circle cx="446.4" cy="459.6" r="6.0"/><circle cx="528.1" cy="462.4" r="6.0"/><circle cx="506.7" cy="471.7" r="6.0"/><circle cx="549.4" cy="451.3" r="6.0"/><circle cx="579.1" cy="468.0" r="6.0"/><circle cx="625.5" cy="459.6" r="6.0"/><circle cx="621.8" cy="480.0" r="6.0"/><circle cx="635.7" cy="476.3" r="6.0"/><circle cx="624.6" cy="493.0" r="6.0"/><circle cx="541.1" cy="493.0" r="6.0"/><circle cx="557.8" cy="494.9" r="6.0"/><circle cx="641.3" cy="505.1" r="6.0"/><circle cx="778.7" cy="585.8" r="6.0"/><circle cx="792.6" cy="562.6" r="6.0"/><circle cx="778.7" cy="597.0" r="6.0"/><circle cx="715.5" cy="530.2" r="6.0"/><circle cx="721.1" cy="519.0" r="6.0"/><circle cx="732.3" cy="522.7" r="6.0"/><circle cx="756.4" cy="521.8" r="6.0"/><circle cx="765.7" cy="513.5" r="6.0"/><circle cx="789.8" cy="501.4" r="6.0"/><circle cx="789.8" cy="520.9" r="6.0"/><circle cx="693.3" cy="500.5" r="6.0"/><circle cx="697.0" cy="511.6" r="6.0"/><circle cx="728.5" cy="498.6" r="6.0"/><circle cx="750.8" cy="504.2" r="6.0"/><circle cx="767.5" cy="494.9" r="6.0"/><circle cx="787.0" cy="489.3" r="6.0"/><circle cx="730.4" cy="479.1" r="6.0"/><circle cx="743.4" cy="479.1" r="6.0"/><circle cx="760.1" cy="475.4" r="6.0"/><circle cx="778.7" cy="467.1" r="6.0"/><circle cx="687.7" cy="478.2" r="6.0"/><circle cx="704.4" cy="469.8" r="6.0"/><circle cx="658.9" cy="489.3" r="6.0"/><circle cx="667.3" cy="493.0" r="6.0"/><circle cx="658.0" cy="461.5" r="6.0"/><circle cx="656.1" cy="476.3" r="6.0"/><circle cx="667.3" cy="441.1" r="6.0"/><circle cx="665.4" cy="428.1" r="6.0"/><circle cx="658.0" cy="421.6" r="6.0"/><circle cx="719.3" cy="452.2" r="6.0"/><circle cx="728.5" cy="442.9" r="6.0"/><circle cx="736.0" cy="437.4" r="6.0"/><circle cx="749.0" cy="423.4" r="6.0"/><circle cx="762.9" cy="431.8" r="6.0"/><circle cx="789.8" cy="409.5" r="6.0"/><circle cx="745.2" cy="455.9" r="6.0"/><circle cx="761.9" cy="456.8" r="6.0"/><circle cx="789.8" cy="454.1" r="6.0"/><circle cx="797.2" cy="463.3" r="6.0"/><circle cx="706.3" cy="608.1" r="6.0"/><circle cx="814.3" cy="346.4" r="6.0"/><circle cx="917.4" cy="352.0" r="6.0"/><circle cx="932.2" cy="346.4" r="6.0"/><circle cx="979.5" cy="352.0" r="6.0"/><circle cx="962.8" cy="355.7" r="6.0"/><circle cx="826.4" cy="364.0" r="6.0"/><circle cx="852.4" cy="380.7" r="6.0"/><circle cx="862.6" cy="361.3" r="6.0"/><circle cx="886.7" cy="365.0" r="6.0"/><circle cx="868.2" cy="381.7" r="6.0"/><circle cx="888.6" cy="383.5" r="6.0"/><circle cx="907.1" cy="377.0" r="6.0"/><circle cx="922.9" cy="365.9" r="6.0"/><circle cx="920.1" cy="389.1" r="6.0"/><circle cx="987.9" cy="369.6" r="6.0"/><circle cx="1008.3" cy="375.2" r="6.0"/><circle cx="965.6" cy="388.2" r="6.0"/><circle cx="805.1" cy="391.0" r="6.0"/><circle cx="817.1" cy="383.5" r="6.0"/><circle cx="826.4" cy="397.4" r="6.0"/><circle cx="820.8" cy="407.7" r="6.0"/><circle cx="861.7" cy="396.5" r="6.0"/><circle cx="895.1" cy="400.2" r="6.0"/><circle cx="807.8" cy="419.7" r="6.0"/><circle cx="844.0" cy="422.5" r="6.0"/><circle cx="851.5" cy="435.5" r="6.0"/><circle cx="881.2" cy="429.0" r="6.0"/><circle cx="824.5" cy="440.1" r="6.0"/><circle cx="810.6" cy="447.6" r="6.0"/><circle cx="826.4" cy="463.3" r="6.0"/><circle cx="886.7" cy="450.3" r="6.0"/><circle cx="905.3" cy="447.6" r="6.0"/><circle cx="940.6" cy="442.9" r="6.0"/><circle cx="957.3" cy="443.9" r="6.0"/><circle cx="959.1" cy="461.5" r="6.0"/><circle cx="920.1" cy="465.2" r="6.0"/><circle cx="935.9" cy="463.3" r="6.0"/><circle cx="888.6" cy="469.8" r="6.0"/><circle cx="881.2" cy="474.5" r="6.0"/><circle cx="901.6" cy="481.9" r="6.0"/><circle cx="802.3" cy="485.6" r="6.0"/><circle cx="822.7" cy="490.3" r="6.0"/><circle cx="852.4" cy="483.8" r="6.0"/><circle cx="876.5" cy="499.5" r="6.0"/><circle cx="898.8" cy="504.2" r="6.0"/><circle cx="916.4" cy="495.8" r="6.0"/><circle cx="819.0" cy="507.0" r="6.0"/><circle cx="851.5" cy="511.6" r="6.0"/><circle cx="924.8" cy="511.6" r="6.0"/><circle cx="826.4" cy="520.9" r="6.0"/><circle cx="851.5" cy="528.3" r="6.0"/><circle cx="869.1" cy="527.4" r="6.0"/><circle cx="887.7" cy="530.2" r="6.0"/><circle cx="902.5" cy="526.5" r="6.0"/><circle cx="908.1" cy="519.0" r="6.0"/><circle cx="926.6" cy="526.5" r="6.0"/><circle cx="919.2" cy="533.9" r="6.0"/><circle cx="941.5" cy="536.7" r="6.0"/><circle cx="802.3" cy="545.0" r="6.0"/><circle cx="819.9" cy="538.5" r="6.0"/><circle cx="832.9" cy="545.0" r="6.0"/><circle cx="858.0" cy="542.2" r="6.0"/><circle cx="871.0" cy="540.4" r="6.0"/><circle cx="883.9" cy="545.0" r="6.0"/><circle cx="906.2" cy="541.3" r="6.0"/><circle cx="922.9" cy="542.2" r="6.0"/><circle cx="954.5" cy="546.9" r="6.0"/><circle cx="909.9" cy="550.6" r="6.0"/><circle cx="950.8" cy="558.0" r="6.0"/><circle cx="873.7" cy="555.2" r="6.0"/><circle cx="820.8" cy="566.4" r="6.0"/><circle cx="858.0" cy="565.4" r="6.0"/><circle cx="891.4" cy="563.6" r="6.0"/><circle cx="898.8" cy="570.1" r="6.0"/><circle cx="909.9" cy="572.9" r="6.0"/><circle cx="880.2" cy="576.6" r="6.0"/><circle cx="856.1" cy="584.0" r="6.0"/><circle cx="937.8" cy="576.6" r="6.0"/><circle cx="958.2" cy="569.1" r="6.0"/><circle cx="967.5" cy="574.7" r="6.0"/><circle cx="922.9" cy="584.0" r="6.0"/><circle cx="947.1" cy="584.0" r="6.0"/><circle cx="965.6" cy="589.6" r="6.0"/><circle cx="978.6" cy="592.3" r="6.0"/><circle cx="938.7" cy="595.1" r="6.0"/><circle cx="875.6" cy="591.4" r="6.0"/><circle cx="891.4" cy="591.4" r="6.0"/><circle cx="809.7" cy="584.0" r="6.0"/><circle cx="824.5" cy="589.6" r="6.0"/><circle cx="798.6" cy="587.7" r="6.0"/><circle cx="810.6" cy="599.8" r="6.0"/><circle cx="827.3" cy="600.7" r="6.0"/><circle cx="795.8" cy="610.0" r="6.0"/><circle cx="844.0" cy="610.0" r="6.0"/><circle cx="887.7" cy="611.8" r="6.0"/><circle cx="906.2" cy="610.0" r="6.0"/><circle cx="921.1" cy="604.4" r="6.0"/><circle cx="950.8" cy="608.1" r="6.0"/><circle cx="930.3" cy="615.5" r="6.0"/><circle cx="873.5" cy="623.6" r="6.0"/><circle cx="887.5" cy="622.7" r="6.0"/><circle cx="823.4" cy="616.2" r="6.0"/><circle cx="806.7" cy="622.7" r="6.0"/><circle cx="829.9" cy="627.3" r="6.0"/><circle cx="848.5" cy="630.1" r="6.0"/><circle cx="786.3" cy="630.1" r="6.0"/><circle cx="763.1" cy="635.7" r="6.0"/><circle cx="946.9" cy="624.5" r="6.0"/><circle cx="958.0" cy="623.6" r="6.0"/><circle cx="971.9" cy="626.4" r="6.0"/><circle cx="984.9" cy="630.1" r="6.0"/><circle cx="987.7" cy="659.8" r="6.0"/><circle cx="971.9" cy="680.2" r="6.0"/><circle cx="963.6" cy="691.4" r="6.0"/><circle cx="946.9" cy="691.4" r="6.0"/><circle cx="938.5" cy="704.4" r="6.0"/><circle cx="954.3" cy="700.6" r="6.0"/><circle cx="959.9" cy="740.6" r="6.0"/><circle cx="769.6" cy="649.6" r="6.0"/><circle cx="777.0" cy="660.7" r="6.0"/><circle cx="791.0" cy="656.1" r="6.0"/><circle cx="806.7" cy="654.2" r="6.0"/><circle cx="801.2" cy="641.3" r="6.0"/><circle cx="826.2" cy="641.3" r="6.0"/><circle cx="837.4" cy="645.0" r="6.0"/><circle cx="868.0" cy="671.0" r="6.0"/><circle cx="883.8" cy="659.8" r="6.0"/><circle cx="894.9" cy="651.5" r="6.0"/><circle cx="906.0" cy="658.0" r="6.0"/><circle cx="911.6" cy="672.8" r="6.0"/><circle cx="896.8" cy="675.6" r="6.0"/><circle cx="844.8" cy="676.5" r="6.0"/><circle cx="861.5" cy="684.9" r="6.0"/><circle cx="836.4" cy="691.4" r="6.0"/><circle cx="817.9" cy="670.0" r="6.0"/><circle cx="803.9" cy="671.0" r="6.0"/><circle cx="791.0" cy="668.2" r="6.0"/><circle cx="750.1" cy="676.5" r="6.0"/><circle cx="802.1" cy="685.8" r="6.0"/><circle cx="811.4" cy="691.4" r="6.0"/><circle cx="788.2" cy="701.6" r="6.0"/><circle cx="798.4" cy="715.5" r="6.0"/><circle cx="814.2" cy="709.9" r="6.0"/><circle cx="828.1" cy="708.1" r="6.0"/><circle cx="859.6" cy="700.6" r="6.0"/><circle cx="849.4" cy="709.0" r="6.0"/><circle cx="885.6" cy="693.2" r="6.0"/><circle cx="901.4" cy="708.1" r="6.0"/><circle cx="926.5" cy="681.2" r="6.0"/><circle cx="878.2" cy="713.6" r="6.0"/><circle cx="873.5" cy="722.0" r="6.0"/><circle cx="887.5" cy="726.6" r="6.0"/><circle cx="882.8" cy="737.8" r="6.0"/><circle cx="831.8" cy="720.1" r="6.0"/><circle cx="828.1" cy="734.1" r="6.0"/><circle cx="853.1" cy="738.7" r="6.0"/><circle cx="794.7" cy="726.6" r="6.0"/><circle cx="777.0" cy="733.1" r="6.0"/><circle cx="770.5" cy="708.1" r="6.0"/><circle cx="711.1" cy="713.6" r="6.0"/><circle cx="726.0" cy="715.5" r="6.0"/><circle cx="735.3" cy="726.6" r="6.0"/><circle cx="722.3" cy="734.1" r="6.0"/><circle cx="793.7" cy="748.0" r="6.0"/><circle cx="807.7" cy="744.3" r="6.0"/><circle cx="727.8" cy="757.3" r="6.0"/><circle cx="747.3" cy="755.4" r="6.0"/><circle cx="849.4" cy="763.8" r="6.0"/><circle cx="868.0" cy="760.0" r="6.0"/><circle cx="922.7" cy="766.5" r="6.0"/><circle cx="821.6" cy="769.3" r="6.0"/><circle cx="775.2" cy="776.8" r="6.0"/><circle cx="728.8" cy="777.7" r="6.0"/><circle cx="818.8" cy="782.3" r="6.0"/><circle cx="861.5" cy="780.5" r="6.0"/><circle cx="878.2" cy="777.7" r="6.0"/><circle cx="911.6" cy="787.0" r="6.0"/><circle cx="850.3" cy="789.7" r="6.0"/><circle cx="858.7" cy="794.4" r="6.0"/><circle cx="893.0" cy="796.2" r="6.0"/><circle cx="811.4" cy="794.4" r="6.0"/><circle cx="796.5" cy="795.3" r="6.0"/><circle cx="770.5" cy="800.9" r="6.0"/><circle cx="742.7" cy="801.8" r="6.0"/><circle cx="721.3" cy="793.5" r="6.0"/><circle cx="828.1" cy="803.7" r="6.0"/><circle cx="818.8" cy="809.2" r="6.0"/><circle cx="841.1" cy="809.2" r="6.0"/><circle cx="797.4" cy="811.1" r="6.0"/><circle cx="885.6" cy="807.4" r="6.0"/><circle cx="864.3" cy="814.8" r="6.0"/><circle cx="743.6" cy="821.3" r="6.0"/><circle cx="707.4" cy="817.6" r="6.0"/><circle cx="724.1" cy="826.9" r="6.0"/><circle cx="762.2" cy="827.8" r="6.0"/><circle cx="819.7" cy="822.2" r="6.0"/><circle cx="805.8" cy="828.7" r="6.0"/><circle cx="806.7" cy="841.7" r="6.0"/><circle cx="786.3" cy="839.9" r="6.0"/><circle cx="764.0" cy="847.3" r="6.0"/><circle cx="719.5" cy="852.9" r="6.0"/><circle cx="747.3" cy="858.4" r="6.0"/><circle cx="705.6" cy="838.9" r="6.0"/><circle cx="746.4" cy="888.1" r="6.0"/><circle cx="517.9" cy="681.8" r="6.0"/><circle cx="532.7" cy="652.1" r="6.0"/><circle cx="555.0" cy="694.8" r="6.0"/><circle cx="568.9" cy="715.2" r="6.0"/><circle cx="591.2" cy="722.6" r="6.0"/><circle cx="602.3" cy="700.3" r="6.0"/><circle cx="614.4" cy="713.3" r="6.0"/><circle cx="627.4" cy="720.7" r="6.0"/><circle cx="636.7" cy="703.1" r="6.0"/><circle cx="624.6" cy="666.9" r="6.0"/><circle cx="641.3" cy="666.9" r="6.0"/><circle cx="633.9" cy="647.4" r="6.0"/><circle cx="646.9" cy="647.4" r="6.0"/><circle cx="661.7" cy="645.6" r="6.0"/><circle cx="677.5" cy="643.7" r="6.0"/><circle cx="662.6" cy="657.6" r="6.0"/><circle cx="658.0" cy="677.1" r="6.0"/><circle cx="685.8" cy="693.8" r="6.0"/><circle cx="652.4" cy="709.6" r="6.0"/><circle cx="667.3" cy="710.5" r="6.0"/><circle cx="648.7" cy="721.7" r="6.0"/><circle cx="665.4" cy="725.4" r="6.0"/><circle cx="651.5" cy="738.4" r="6.0"/><circle cx="482.6" cy="747.7" r="6.0"/><circle cx="550.3" cy="754.2" r="6.0"/><circle cx="602.3" cy="743.9" r="6.0"/><circle cx="628.3" cy="740.2" r="6.0"/><circle cx="625.5" cy="749.5" r="6.0"/><circle cx="633.9" cy="751.4" r="6.0"/><circle cx="624.6" cy="758.8" r="6.0"/><circle cx="687.7" cy="740.2" r="6.0"/><circle cx="571.7" cy="772.7" r="6.0"/><circle cx="598.6" cy="769.9" r="6.0"/><circle cx="627.4" cy="783.9" r="6.0"/><circle cx="587.5" cy="795.9" r="6.0"/><circle cx="610.7" cy="793.1" r="6.0"/><circle cx="531.8" cy="808.9" r="6.0"/><circle cx="594.9" cy="808.0" r="6.0"/><circle cx="659.9" cy="808.9" r="6.0"/><circle cx="684.9" cy="804.3" r="6.0"/><circle cx="697.0" cy="844.2" r="6.0"/><circle cx="691.4" cy="849.7" r="6.0"/><circle cx="730.4" cy="899.9" r="6.0"/><circle cx="752.7" cy="907.3" r="6.0"/><circle cx="737.8" cy="912.9" r="6.0"/><circle cx="740.6" cy="924.9" r="6.0"/><circle cx="730.4" cy="934.2" r="6.0"/><circle cx="251.9" cy="615.1" r="6.0"/><circle cx="263.9" cy="606.7" r="6.0"/><circle cx="291.8" cy="609.5" r="6.0"/><circle cx="304.8" cy="618.8" r="6.0"/><circle cx="321.5" cy="621.6" r="6.0"/><circle cx="363.2" cy="644.8" r="6.0"/><circle cx="787.4" cy="718.0" r="6.0"/><circle cx="633.9" cy="516.9" r="6.0"/><circle cx="766.3" cy="754.6" r="6.0"/><circle cx="746.0" cy="765.0" r="6.0"/><circle cx="844.8" cy="546.4" r="6.0"/><circle cx="813.6" cy="436.7" r="6.0"/><circle cx="632.5" cy="687.1" r="6.0"/><circle cx="740.8" cy="489.9" r="6.0"/><circle cx="851.7" cy="805.6" r="6.0"/><circle cx="602.6" cy="786.2" r="6.0"/><circle cx="742.9" cy="415.7" r="6.0"/><circle cx="785.0" cy="792.5" r="6.0"/><circle cx="836.0" cy="476.1" r="6.0"/><circle cx="725.4" cy="465.0" r="6.0"/><circle cx="873.9" cy="663.2" r="6.0"/><circle cx="770.9" cy="439.6" r="6.0"/><circle cx="573.2" cy="729.8" r="6.0"/><circle cx="685.8" cy="828.7" r="6.0"/><circle cx="819.0" cy="452.3" r="6.0"/><circle cx="831.2" cy="353.7" r="6.0"/><circle cx="699.9" cy="807.2" r="6.0"/><circle cx="878.9" cy="767.5" r="6.0"/><circle cx="992.3" cy="378.5" r="6.0"/><circle cx="837.1" cy="556.3" r="6.0"/><circle cx="771.8" cy="405.6" r="6.0"/><circle cx="849.1" cy="599.3" r="6.0"/><circle cx="833.9" cy="593.1" r="6.0"/><circle cx="754.8" cy="794.0" r="6.0"/><circle cx="644.3" cy="657.4" r="6.0"/><circle cx="616.6" cy="765.0" r="6.0"/><circle cx="895.6" cy="548.4" r="6.0"/><circle cx="716.8" cy="504.5" r="6.0"/><circle cx="846.3" cy="354.5" r="6.0"/><circle cx="897.7" cy="491.0" r="6.0"/><circle cx="788.2" cy="580.3" r="6.0"/><circle cx="829.9" cy="824.4" r="6.0"/><circle cx="836.4" cy="794.3" r="6.0"/><circle cx="920.9" cy="335.0" r="6.0"/><circle cx="604.9" cy="808.0" r="6.0"/><circle cx="839.4" cy="566.1" r="6.0"/><circle cx="815.8" cy="728.6" r="6.0"/><circle cx="684.2" cy="814.0" r="6.0"/><circle cx="759.0" cy="764.9" r="6.0"/><circle cx="617.9" cy="731.3" r="6.0"/><circle cx="767.3" cy="665.4" r="6.0"/><circle cx="784.9" cy="612.6" r="6.0"/><circle cx="657.9" cy="697.2" r="6.0"/><circle cx="710.1" cy="433.2" r="6.0"/><circle cx="608.5" cy="721.7" r="6.0"/><circle cx="625.8" cy="770.7" r="6.0"/><circle cx="829.6" cy="448.5" r="6.0"/><circle cx="859.9" cy="747.6" r="6.0"/><circle cx="841.7" cy="437.4" r="6.0"/><circle cx="733.3" cy="746.6" r="6.0"/><circle cx="810.2" cy="804.5" r="6.0"/><circle cx="611.3" cy="693.8" r="6.0"/><circle cx="868.8" cy="693.9" r="6.0"/><circle cx="808.7" cy="816.7" r="6.0"/><circle cx="896.8" cy="365.9" r="6.0"/><circle cx="611.2" cy="754.0" r="6.0"/><circle cx="637.2" cy="721.9" r="6.0"/><circle cx="760.3" cy="656.1" r="6.0"/><circle cx="764.9" cy="384.8" r="6.0"/><circle cx="769.2" cy="811.9" r="6.0"/><circle cx="847.8" cy="395.6" r="6.0"/><circle cx="985.4" cy="649.5" r="6.0"/><circle cx="902.6" cy="351.2" r="6.0"/><circle cx="834.7" cy="404.1" r="6.0"/><circle cx="946.2" cy="470.7" r="6.0"/><circle cx="833.7" cy="493.7" r="6.0"/><circle cx="582.7" cy="781.2" r="6.0"/><circle cx="718.3" cy="777.1" r="6.0"/><circle cx="825.2" cy="690.1" r="6.0"/><circle cx="684.6" cy="488.1" r="6.0"/><circle cx="844.7" cy="404.9" r="6.0"/><circle cx="707.1" cy="508.3" r="6.0"/><circle cx="736.3" cy="765.8" r="6.0"/><circle cx="875.8" cy="365.0" r="6.0"/><circle cx="590.7" cy="747.0" r="6.0"/><circle cx="636.7" cy="494.5" r="6.0"/><circle cx="805.5" cy="405.3" r="6.0"/><circle cx="859.4" cy="522.6" r="6.0"/><circle cx="869.6" cy="579.0" r="6.0"/><circle cx="819.7" cy="577.4" r="6.0"/><circle cx="733.9" cy="793.2" r="6.0"/><circle cx="777.1" cy="496.4" r="6.0"/><circle cx="862.7" cy="490.0" r="6.0"/><circle cx="718.8" cy="836.7" r="6.0"/><circle cx="916.2" cy="485.3" r="6.0"/><circle cx="818.2" cy="631.7" r="6.0"/><circle cx="810.0" cy="565.2" r="6.0"/><circle cx="777.0" cy="571.5" r="6.0"/><circle cx="797.1" cy="442.8" r="6.0"/><circle cx="842.4" cy="716.2" r="6.0"/><circle cx="858.2" cy="346.5" r="6.0"/><circle cx="825.4" cy="748.5" r="6.0"/><circle cx="736.9" cy="814.4" r="6.0"/><circle cx="729.9" cy="408.7" r="6.0"/><circle cx="728.6" cy="840.3" r="6.0"/><circle cx="768.4" cy="449.7" r="6.0"/><circle cx="749.1" cy="840.5" r="6.0"/><circle cx="842.6" cy="522.8" r="6.0"/><circle cx="920.9" cy="619.7" r="6.0"/><circle cx="816.5" cy="368.2" r="6.0"/><circle cx="671.5" cy="803.2" r="6.0"/><circle cx="892.4" cy="578.0" r="6.0"/><circle cx="935.3" cy="521.3" r="6.0"/><circle cx="983.2" cy="334.9" r="6.0"/><circle cx="775.9" cy="385.0" r="6.0"/><circle cx="848.4" cy="337.5" r="6.0"/><circle cx="720.5" cy="431.1" r="6.0"/>
</g>
<g fill="#0a6a0a">
<circle cx="166.1" cy="277.5" r="6.0"/><circle cx="258.0" cy="233.9" r="6.0"/><circle cx="257.1" cy="205.1" r="6.0"/><circle cx="268.2" cy="200.5" r="6.0"/><circle cx="285.8" cy="165.2" r="6.0"/><circle cx="290.5" cy="187.5" r="6.0"/><circle cx="309.0" cy="201.4" r="6.0"/><circle cx="299.8" cy="229.2" r="6.0"/><circle cx="347.1" cy="254.3" r="6.0"/><circle cx="355.5" cy="257.1" r="6.0"/><circle cx="348.0" cy="297.0" r="6.0"/><circle cx="338.7" cy="161.5" r="6.0"/><circle cx="349.9" cy="149.4" r="6.0"/><circle cx="355.5" cy="159.6" r="6.0"/><circle cx="375.9" cy="163.3" r="6.0"/><circle cx="395.4" cy="187.5" r="6.0"/><circle cx="399.1" cy="230.2" r="6.0"/><circle cx="439.4" cy="281.0" r="6.0"/><circle cx="467.2" cy="294.0" r="6.0"/><circle cx="425.5" cy="399.8" r="6.0"/><circle cx="769.8" cy="374.7" r="6.0"/><circle cx="380.0" cy="404.4" r="6.0"/><circle cx="966.5" cy="89.6" r="6.0"/><circle cx="1048.2" cy="277.1" r="6.0"/><circle cx="1093.7" cy="215.8" r="6.0"/><circle cx="1102.0" cy="226.0" r="6.0"/><circle cx="1084.4" cy="298.4" r="6.0"/><circle cx="1041.7" cy="295.6" r="6.0"/><circle cx="1049.1" cy="322.6" r="6.0"/><circle cx="1075.1" cy="329.0" r="6.0"/><circle cx="883.0" cy="300.3" r="6.0"/><circle cx="1012.0" cy="324.4" r="6.0"/><circle cx="1030.6" cy="330.0" r="6.0"/><circle cx="133.7" cy="484.2" r="6.0"/><circle cx="404.7" cy="483.2" r="6.0"/><circle cx="325.8" cy="562.1" r="6.0"/><circle cx="368.5" cy="568.6" r="6.0"/><circle cx="585.6" cy="432.7" r="6.0"/><circle cx="495.6" cy="443.9" r="6.0"/><circle cx="516.0" cy="457.8" r="6.0"/><circle cx="602.3" cy="458.7" r="6.0"/><circle cx="599.5" cy="480.0" r="6.0"/><circle cx="569.8" cy="484.7" r="6.0"/><circle cx="606.0" cy="499.5" r="6.0"/><circle cx="619.0" cy="504.2" r="6.0"/><circle cx="572.6" cy="516.2" r="6.0"/><circle cx="597.7" cy="513.5" r="6.0"/><circle cx="581.0" cy="535.7" r="6.0"/><circle cx="657.1" cy="527.4" r="6.0"/><circle cx="631.1" cy="601.6" r="6.0"/><circle cx="609.7" cy="610.0" r="6.0"/><circle cx="658.0" cy="600.7" r="6.0"/><circle cx="672.9" cy="593.3" r="6.0"/><circle cx="656.1" cy="576.6" r="6.0"/><circle cx="661.7" cy="558.0" r="6.0"/><circle cx="678.4" cy="548.7" r="6.0"/><circle cx="680.3" cy="563.6" r="6.0"/><circle cx="699.8" cy="553.4" r="6.0"/><circle cx="706.3" cy="564.5" r="6.0"/><circle cx="698.8" cy="578.4" r="6.0"/><circle cx="698.8" cy="588.6" r="6.0"/><circle cx="723.0" cy="550.6" r="6.0"/><circle cx="720.2" cy="572.9" r="6.0"/><circle cx="739.7" cy="545.9" r="6.0"/><circle cx="754.5" cy="565.4" r="6.0"/><circle cx="756.4" cy="589.6" r="6.0"/><circle cx="761.9" cy="539.4" r="6.0"/><circle cx="774.0" cy="547.8" r="6.0"/><circle cx="767.5" cy="555.2" r="6.0"/><circle cx="686.8" cy="539.4" r="6.0"/><circle cx="677.5" cy="520.0" r="6.0"/><circle cx="687.7" cy="529.2" r="6.0"/><circle cx="704.4" cy="525.5" r="6.0"/><circle cx="774.9" cy="506.0" r="6.0"/><circle cx="754.5" cy="489.3" r="6.0"/><circle cx="676.6" cy="504.2" r="6.0"/><circle cx="774.9" cy="421.6" r="6.0"/><circle cx="791.6" cy="423.4" r="6.0"/><circle cx="687.7" cy="610.0" r="6.0"/><circle cx="726.7" cy="613.7" r="6.0"/><circle cx="882.1" cy="341.8" r="6.0"/><circle cx="1023.2" cy="340.8" r="6.0"/><circle cx="1039.9" cy="341.8" r="6.0"/><circle cx="999.0" cy="344.5" r="6.0"/><circle cx="1013.9" cy="355.7" r="6.0"/><circle cx="830.1" cy="374.2" r="6.0"/><circle cx="843.1" cy="381.7" r="6.0"/><circle cx="874.7" cy="604.4" r="6.0"/><circle cx="860.6" cy="619.0" r="6.0"/><circle cx="734.3" cy="624.5" r="6.0"/><circle cx="706.5" cy="620.8" r="6.0"/><circle cx="720.4" cy="630.1" r="6.0"/><circle cx="765.9" cy="619.9" r="6.0"/><circle cx="902.3" cy="635.7" r="6.0"/><circle cx="915.3" cy="635.7" r="6.0"/><circle cx="952.4" cy="647.7" r="6.0"/><circle cx="971.0" cy="654.2" r="6.0"/><circle cx="932.0" cy="655.2" r="6.0"/><circle cx="954.3" cy="667.2" r="6.0"/><circle cx="947.8" cy="676.5" r="6.0"/><circle cx="946.9" cy="726.6" r="6.0"/><circle cx="934.8" cy="745.2" r="6.0"/><circle cx="713.9" cy="651.5" r="6.0"/><circle cx="728.8" cy="651.5" r="6.0"/><circle cx="744.5" cy="653.3" r="6.0"/><circle cx="854.1" cy="654.2" r="6.0"/><circle cx="840.1" cy="659.8" r="6.0"/><circle cx="916.2" cy="667.2" r="6.0"/><circle cx="713.9" cy="669.1" r="6.0"/><circle cx="733.4" cy="672.8" r="6.0"/><circle cx="766.8" cy="679.3" r="6.0"/><circle cx="703.7" cy="689.5" r="6.0"/><circle cx="723.2" cy="689.5" r="6.0"/><circle cx="754.8" cy="690.4" r="6.0"/><circle cx="769.6" cy="695.1" r="6.0"/><circle cx="739.9" cy="699.7" r="6.0"/><circle cx="729.7" cy="698.8" r="6.0"/><circle cx="883.8" cy="702.5" r="6.0"/><circle cx="904.2" cy="698.8" r="6.0"/><circle cx="919.0" cy="691.4" r="6.0"/><circle cx="920.9" cy="706.2" r="6.0"/><circle cx="918.1" cy="683.9" r="6.0"/><circle cx="905.1" cy="732.2" r="6.0"/><circle cx="920.9" cy="721.1" r="6.0"/><circle cx="841.1" cy="726.6" r="6.0"/><circle cx="753.8" cy="709.9" r="6.0"/><circle cx="752.9" cy="722.9" r="6.0"/><circle cx="708.4" cy="739.6" r="6.0"/><circle cx="776.1" cy="748.9" r="6.0"/><circle cx="837.4" cy="758.2" r="6.0"/><circle cx="886.5" cy="755.4" r="6.0"/><circle cx="896.8" cy="752.6" r="6.0"/><circle cx="907.9" cy="748.0" r="6.0"/><circle cx="894.0" cy="767.5" r="6.0"/><circle cx="910.7" cy="767.5" r="6.0"/><circle cx="794.7" cy="765.6" r="6.0"/><circle cx="752.0" cy="781.4" r="6.0"/><circle cx="837.4" cy="782.3" r="6.0"/><circle cx="842.9" cy="776.8" r="6.0"/><circle cx="881.0" cy="786.0" r="6.0"/><circle cx="875.4" cy="795.3" r="6.0"/><circle cx="778.0" cy="819.4" r="6.0"/><circle cx="501.2" cy="664.1" r="6.0"/><circle cx="505.8" cy="695.7" r="6.0"/><circle cx="550.3" cy="681.8" r="6.0"/><circle cx="571.7" cy="684.5" r="6.0"/><circle cx="583.8" cy="683.6" r="6.0"/><circle cx="601.4" cy="677.1" r="6.0"/><circle cx="607.0" cy="646.5" r="6.0"/><circle cx="525.3" cy="705.9" r="6.0"/><circle cx="546.6" cy="714.2" r="6.0"/><circle cx="557.8" cy="715.2" r="6.0"/><circle cx="641.3" cy="681.8" r="6.0"/><circle cx="692.3" cy="643.7" r="6.0"/><circle cx="667.3" cy="666.9" r="6.0"/><circle cx="665.4" cy="688.3" r="6.0"/><circle cx="674.7" cy="685.5" r="6.0"/><circle cx="685.8" cy="675.3" r="6.0"/><circle cx="694.2" cy="706.8" r="6.0"/><circle cx="696.1" cy="721.7" r="6.0"/><circle cx="686.8" cy="731.0" r="6.0"/><circle cx="743.4" cy="729.1" r="6.0"/><circle cx="498.4" cy="746.7" r="6.0"/><circle cx="616.2" cy="741.2" r="6.0"/><circle cx="652.4" cy="756.9" r="6.0"/><circle cx="668.2" cy="751.4" r="6.0"/><circle cx="692.3" cy="751.4" r="6.0"/><circle cx="464.0" cy="769.9" r="6.0"/><circle cx="534.6" cy="766.2" r="6.0"/><circle cx="515.1" cy="778.3" r="6.0"/><circle cx="507.7" cy="786.6" r="6.0"/><circle cx="498.4" cy="786.6" r="6.0"/><circle cx="645.0" cy="799.6" r="6.0"/><circle cx="663.6" cy="788.5" r="6.0"/><circle cx="672.9" cy="772.7" r="6.0"/><circle cx="677.5" cy="782.9" r="6.0"/><circle cx="697.0" cy="769.0" r="6.0"/><circle cx="697.9" cy="789.4" r="6.0"/><circle cx="508.6" cy="810.8" r="6.0"/><circle cx="552.2" cy="814.5" r="6.0"/><circle cx="527.1" cy="827.5" r="6.0"/><circle cx="543.9" cy="842.3" r="6.0"/><circle cx="668.2" cy="828.4" r="6.0"/><circle cx="318.7" cy="609.5" r="6.0"/><circle cx="351.2" cy="621.6" r="6.0"/><circle cx="534.0" cy="629.9" r="6.0"/><circle cx="288.1" cy="648.5" r="6.0"/><circle cx="652.4" cy="566.8" r="6.0"/><circle cx="592.1" cy="634.5" r="6.0"/><circle cx="795.6" cy="417.8" r="6.0"/><circle cx="758.5" cy="552.4" r="6.0"/><circle cx="663.3" cy="567.5" r="6.0"/><circle cx="757.3" cy="574.4" r="6.0"/><circle cx="1015.2" cy="331.8" r="6.0"/><circle cx="946.0" cy="649.8" r="6.0"/><circle cx="673.8" cy="693.4" r="6.0"/><circle cx="733.2" cy="683.2" r="6.0"/><circle cx="951.3" cy="711.0" r="6.0"/><circle cx="931.4" cy="695.7" r="6.0"/><circle cx="617.3" cy="627.2" r="6.0"/><circle cx="652.7" cy="516.8" r="6.0"/><circle cx="651.0" cy="782.9" r="6.0"/><circle cx="927.8" cy="667.1" r="6.0"/><circle cx="744.7" cy="713.7" r="6.0"/><circle cx="685.2" cy="627.6" r="6.0"/><circle cx="623.1" cy="610.2" r="6.0"/><circle cx="775.9" cy="763.9" r="6.0"/><circle cx="747.0" cy="667.0" r="6.0"/><circle cx="645.7" cy="538.6" r="6.0"/><circle cx="653.5" cy="550.6" r="6.0"/><circle cx="698.0" cy="626.9" r="6.0"/><circle cx="643.6" cy="563.1" r="6.0"/><circle cx="635.3" cy="576.7" r="6.0"/><circle cx="621.3" cy="681.1" r="6.0"/><circle cx="742.5" cy="563.8" r="6.0"/><circle cx="644.3" cy="608.1" r="6.0"/><circle cx="729.2" cy="536.8" r="6.0"/><circle cx="680.5" cy="655.9" r="6.0"/><circle cx="633.8" cy="614.9" r="6.0"/><circle cx="1028.4" cy="319.5" r="6.0"/><circle cx="677.8" cy="710.1" r="6.0"/><circle cx="646.8" cy="622.5" r="6.0"/><circle cx="779.2" cy="685.9" r="6.0"/><circle cx="687.6" cy="570.4" r="6.0"/><circle cx="714.8" cy="757.8" r="6.0"/><circle cx="742.3" cy="632.4" r="6.0"/><circle cx="762.4" cy="579.2" r="6.0"/><circle cx="722.3" cy="583.5" r="6.0"/><circle cx="708.6" cy="765.4" r="6.0"/><circle cx="626.6" cy="586.6" r="6.0"/><circle cx="939.6" cy="717.4" r="6.0"/><circle cx="662.7" cy="509.6" r="6.0"/><circle cx="589.6" cy="696.6" r="6.0"/><circle cx="656.3" cy="773.1" r="6.0"/><circle cx="968.2" cy="665.9" r="6.0"/><circle cx="1007.7" cy="337.2" r="6.0"/><circle cx="660.7" cy="542.3" r="6.0"/><circle cx="686.9" cy="785.2" r="6.0"/><circle cx="942.3" cy="647.2" r="6.0"/><circle cx="674.8" cy="531.3" r="6.0"/><circle cx="931.1" cy="725.7" r="6.0"/><circle cx="747.9" cy="582.2" r="6.0"/><circle cx="1008.0" cy="363.5" r="6.0"/><circle cx="615.2" cy="590.7" r="6.0"/><circle cx="602.7" cy="617.4" r="6.0"/><circle cx="671.1" cy="572.6" r="6.0"/><circle cx="919.4" cy="648.1" r="6.0"/><circle cx="658.3" cy="590.9" r="6.0"/><circle cx="948.9" cy="737.0" r="6.0"/><circle cx="649.4" cy="583.6" r="6.0"/><circle cx="937.9" cy="668.8" r="6.0"/>
</g>
<g fill="#f00000">
<circle cx="307.2" cy="309.0" r="6.0"/><circle cx="545.2" cy="377.5" r="6.0"/><circle cx="1069.6" cy="316.1" r="6.0"/><circle cx="935.0" cy="561.7" r="6.0"/><circle cx="959.1" cy="600.7" r="6.0"/><circle cx="910.7" cy="627.3" r="6.0"/><circle cx="932.9" cy="640.3" r="6.0"/><circle cx="800.2" cy="704.4" r="6.0"/><circle cx="598.6" cy="646.8" r="6.0"/><circle cx="967.1" cy="606.5" r="6.0"/>
</g>
<g fill="#0000f5">
<circle cx="109.5" cy="269.1" r="6.0"/><circle cx="281.2" cy="258.9" r="6.0"/><circle cx="230.2" cy="242.2" r="6.0"/><circle cx="241.3" cy="199.5" r="6.0"/><circle cx="336.9" cy="262.6" r="6.0"/><circle cx="317.4" cy="275.6" r="6.0"/><circle cx="520.1" cy="411.8" r="6.0"/><circle cx="83.6" cy="330.1" r="6.0"/><circle cx="363.9" cy="548.2" r="6.0"/><circle cx="405.7" cy="565.8" r="6.0"/><circle cx="343.5" cy="589.0" r="6.0"/><circle cx="389.0" cy="593.7" r="6.0"/><circle cx="437.2" cy="547.3" r="6.0"/><circle cx="437.2" cy="584.4" r="6.0"/><circle cx="541.1" cy="423.4" r="6.0"/><circle cx="554.1" cy="431.8" r="6.0"/><circle cx="459.4" cy="427.1" r="6.0"/><circle cx="578.2" cy="452.2" r="6.0"/><circle cx="581.9" cy="496.8" r="6.0"/><circle cx="505.8" cy="505.1" r="6.0"/><circle cx="454.8" cy="517.2" r="6.0"/><circle cx="479.8" cy="529.2" r="6.0"/><circle cx="544.8" cy="520.9" r="6.0"/><circle cx="530.9" cy="536.7" r="6.0"/><circle cx="620.0" cy="528.3" r="6.0"/><circle cx="474.2" cy="547.8" r="6.0"/><circle cx="496.5" cy="551.5" r="6.0"/><circle cx="568.0" cy="548.7" r="6.0"/><circle cx="596.8" cy="546.9" r="6.0"/><circle cx="551.3" cy="558.9" r="6.0"/><circle cx="587.5" cy="564.5" r="6.0"/><circle cx="608.8" cy="570.1" r="6.0"/><circle cx="636.7" cy="554.3" r="6.0"/><circle cx="541.1" cy="573.8" r="6.0"/><circle cx="462.2" cy="567.3" r="6.0"/><circle cx="503.9" cy="582.1" r="6.0"/><circle cx="531.8" cy="589.6" r="6.0"/><circle cx="579.1" cy="586.8" r="6.0"/><circle cx="473.3" cy="594.2" r="6.0"/><circle cx="442.7" cy="600.7" r="6.0"/><circle cx="537.4" cy="607.2" r="6.0"/><circle cx="554.1" cy="607.2" r="6.0"/><circle cx="580.0" cy="609.0" r="6.0"/><circle cx="732.3" cy="593.3" r="6.0"/><circle cx="752.7" cy="610.0" r="6.0"/><circle cx="757.5" cy="615.3" r="6.0"/><circle cx="471.5" cy="653.9" r="6.0"/><circle cx="493.7" cy="679.9" r="6.0"/><circle cx="557.8" cy="656.7" r="6.0"/><circle cx="579.1" cy="666.9" r="6.0"/><circle cx="492.8" cy="727.2" r="6.0"/><circle cx="559.6" cy="737.4" r="6.0"/><circle cx="557.8" cy="790.3" r="6.0"/><circle cx="340.0" cy="609.5" r="6.0"/><circle cx="224.0" cy="620.6" r="6.0"/><circle cx="408.7" cy="622.5" r="6.0"/><circle cx="437.5" cy="621.6" r="6.0"/><circle cx="482.0" cy="631.8" r="6.0"/><circle cx="509.9" cy="628.1" r="6.0"/><circle cx="350.3" cy="653.1" r="6.0"/><circle cx="570.5" cy="631.8" r="6.0"/><circle cx="729.5" cy="633.6" r="6.0"/><circle cx="572.8" cy="742.1" r="6.0"/><circle cx="757.3" cy="601.6" r="6.0"/><circle cx="742.0" cy="593.8" r="6.0"/><circle cx="623.1" cy="558.4" r="6.0"/><circle cx="744.1" cy="617.6" r="6.0"/>
</g>
<rect x="1026.8" y="705.1" width="175.2" height="253.9" fill="#fff"/>
<g transform="translate(1026.8 705.1)"><use href="#inset"/></g>
<path d="M1026.8 960 V705.1 H1203" fill="none" stroke="#161616" stroke-width="2.8"/>
</g>
<text x="47.8" y="1043.1" font-size="47.8">(c) MBE (<tspan class="cj">℃</tspan>)</text>
<circle cx="62.7" cy="1649.7" r="9" fill="#0000f5"/>
<text x="93.3" y="1667.3" font-size="47.8">&lt;-4.5</text>
<circle cx="62.7" cy="1706.3" r="9" fill="#0a6a0a"/>
<text x="93.3" y="1723.9" font-size="47.8">-4.5~-1.5</text>
<circle cx="62.7" cy="1762.9" r="9" fill="#ffff00"/>
<text x="93.3" y="1780.5" font-size="47.8">-1.5~1.5</text>
<circle cx="62.7" cy="1819.4" r="9" fill="#ffa200"/>
<text x="93.3" y="1837.1" font-size="47.8">1.5~4.5</text>
<circle cx="62.7" cy="1876.0" r="9" fill="#f00000"/>
<text x="93.3" y="1893.7" font-size="47.8">&gt;4.5</text>
<path d="M1216.4 976.3 H2409.4 V1924.3 H1216.4 Z M1219.1 978.5 H2407.1 V1922.9 H1219.1 Z" fill="#9c9c9c" fill-rule="evenodd"/>
<path d="M1219.1 978.5 H2407.1 V1922.9 H1219.1 Z M1222.8 980.8 H2402.2 V1918.0 H1222.8 Z" fill="#0a0a0a" fill-rule="evenodd"/>
<g transform="translate(1199.6 959.0)">
<use href="#map"/>
<g fill="#ffa200">
<circle cx="116.0" cy="293.3" r="6.0"/><circle cx="173.5" cy="291.4" r="6.0"/><circle cx="202.3" cy="284.9" r="6.0"/><circle cx="213.5" cy="303.5" r="6.0"/><circle cx="251.5" cy="284.9" r="6.0"/><circle cx="348.0" cy="297.0" r="6.0"/><circle cx="387.0" cy="288.6" r="6.0"/><circle cx="415.3" cy="286.5" r="6.0"/><circle cx="474.7" cy="282.8" r="6.0"/><circle cx="461.7" cy="336.7" r="6.0"/><circle cx="504.4" cy="335.7" r="6.0"/><circle cx="577.7" cy="340.4" r="6.0"/><circle cx="600.9" cy="357.1" r="6.0"/><circle cx="455.2" cy="370.1" r="6.0"/><circle cx="425.5" cy="399.8" r="6.0"/><circle cx="583.2" cy="408.1" r="6.0"/><circle cx="571.2" cy="415.5" r="6.0"/><circle cx="643.6" cy="389.6" r="6.0"/><circle cx="661.2" cy="399.8" r="6.0"/><circle cx="675.1" cy="359.9" r="6.0"/><circle cx="714.1" cy="357.1" r="6.0"/><circle cx="164.4" cy="376.5" r="6.0"/><circle cx="329.6" cy="372.8" r="6.0"/><circle cx="210.8" cy="512.0" r="6.0"/><circle cx="138.4" cy="542.6" r="6.0"/><circle cx="603.2" cy="442.0" r="6.0"/><circle cx="549.4" cy="451.3" r="6.0"/><circle cx="625.5" cy="459.6" r="6.0"/><circle cx="624.6" cy="493.0" r="6.0"/><circle cx="641.3" cy="505.1" r="6.0"/><circle cx="631.1" cy="601.6" r="6.0"/><circle cx="658.0" cy="600.7" r="6.0"/><circle cx="672.9" cy="593.3" r="6.0"/><circle cx="656.1" cy="576.6" r="6.0"/><circle cx="720.2" cy="572.9" r="6.0"/><circle cx="756.4" cy="589.6" r="6.0"/><circle cx="767.5" cy="555.2" r="6.0"/><circle cx="778.7" cy="585.8" r="6.0"/><circle cx="792.6" cy="562.6" r="6.0"/><circle cx="778.7" cy="597.0" r="6.0"/><circle cx="715.5" cy="530.2" r="6.0"/><circle cx="721.1" cy="519.0" r="6.0"/><circle cx="732.3" cy="522.7" r="6.0"/><circle cx="756.4" cy="521.8" r="6.0"/><circle cx="765.7" cy="513.5" r="6.0"/><circle cx="789.8" cy="501.4" r="6.0"/><circle cx="789.8" cy="520.9" r="6.0"/><circle cx="693.3" cy="500.5" r="6.0"/><circle cx="697.0" cy="511.6" r="6.0"/><circle cx="728.5" cy="498.6" r="6.0"/><circle cx="750.8" cy="504.2" r="6.0"/><circle cx="767.5" cy="494.9" r="6.0"/><circle cx="754.5" cy="489.3" r="6.0"/><circle cx="730.4" cy="479.1" r="6.0"/><circle cx="743.4" cy="479.1" r="6.0"/><circle cx="760.1" cy="475.4" r="6.0"/><circle cx="658.0" cy="461.5" r="6.0"/><circle cx="656.1" cy="476.3" r="6.0"/><circle cx="656.1" cy="453.1" r="6.0"/><circle cx="667.3" cy="441.1" r="6.0"/><circle cx="658.0" cy="421.6" r="6.0"/><circle cx="745.2" cy="455.9" r="6.0"/><circle cx="789.8" cy="454.1" r="6.0"/><circle cx="706.3" cy="608.1" r="6.0"/><circle cx="687.7" cy="610.0" r="6.0"/><circle cx="726.7" cy="613.7" r="6.0"/><circle cx="962.8" cy="355.7" r="6.0"/><circle cx="971.2" cy="361.3" r="6.0"/><circle cx="852.4" cy="380.7" r="6.0"/><circle cx="868.2" cy="381.7" r="6.0"/><circle cx="888.6" cy="383.5" r="6.0"/><circle cx="907.1" cy="377.0" r="6.0"/><circle cx="934.1" cy="377.0" r="6.0"/><circle cx="920.1" cy="389.1" r="6.0"/><circle cx="1008.3" cy="375.2" r="6.0"/><circle cx="984.2" cy="386.3" r="6.0"/><circle cx="965.6" cy="388.2" r="6.0"/><circle cx="861.7" cy="396.5" r="6.0"/><circle cx="895.1" cy="400.2" r="6.0"/><circle cx="900.6" cy="409.5" r="6.0"/><circle cx="860.7" cy="411.4" r="6.0"/><circle cx="873.7" cy="412.3" r="6.0"/><circle cx="963.8" cy="409.5" r="6.0"/><circle cx="844.0" cy="422.5" r="6.0"/><circle cx="851.5" cy="435.5" r="6.0"/><circle cx="881.2" cy="429.0" r="6.0"/><circle cx="824.5" cy="440.1" r="6.0"/><circle cx="826.4" cy="463.3" r="6.0"/><circle cx="845.0" cy="456.8" r="6.0"/><circle cx="886.7" cy="450.3" r="6.0"/><circle cx="905.3" cy="447.6" r="6.0"/><circle cx="940.6" cy="442.9" r="6.0"/><circle cx="957.3" cy="443.9" r="6.0"/><circle cx="975.8" cy="442.9" r="6.0"/><circle cx="959.1" cy="461.5" r="6.0"/><circle cx="920.1" cy="465.2" r="6.0"/><circle cx="935.9" cy="463.3" r="6.0"/><circle cx="944.3" cy="480.0" r="6.0"/><circle cx="888.6" cy="469.8" r="6.0"/><circle cx="881.2" cy="474.5" r="6.0"/><circle cx="901.6" cy="481.9" r="6.0"/><circle cx="822.7" cy="490.3" r="6.0"/><circle cx="852.4" cy="483.8" r="6.0"/><circle cx="876.5" cy="499.5" r="6.0"/><circle cx="898.8" cy="504.2" r="6.0"/><circle cx="916.4" cy="495.8" r="6.0"/><circle cx="930.3" cy="496.8" r="6.0"/><circle cx="819.0" cy="507.0" r="6.0"/><circle cx="851.5" cy="511.6" r="6.0"/><circle cx="924.8" cy="511.6" r="6.0"/><circle cx="807.8" cy="527.4" r="6.0"/><circle cx="826.4" cy="520.9" r="6.0"/><circle cx="851.5" cy="528.3" r="6.0"/><circle cx="869.1" cy="527.4" r="6.0"/><circle cx="887.7" cy="530.2" r="6.0"/><circle cx="902.5" cy="526.5" r="6.0"/><circle cx="908.1" cy="519.0" r="6.0"/><circle cx="926.6" cy="526.5" r="6.0"/><circle cx="919.2" cy="533.9" r="6.0"/><circle cx="941.5" cy="536.7" r="6.0"/><circle cx="802.3" cy="545.0" r="6.0"/><circle cx="819.9" cy="538.5" r="6.0"/><circle cx="832.9" cy="545.0" r="6.0"/><circle cx="858.0" cy="542.2" r="6.0"/><circle cx="871.0" cy="540.4" r="6.0"/><circle cx="883.9" cy="545.0" r="6.0"/><circle cx="906.2" cy="541.3" r="6.0"/><circle cx="922.9" cy="542.2" r="6.0"/><circle cx="954.5" cy="546.9" r="6.0"/><circle cx="909.9" cy="550.6" r="6.0"/><circle cx="950.8" cy="558.0" r="6.0"/><circle cx="873.7" cy="555.2" r="6.0"/><circle cx="915.5" cy="558.9" r="6.0"/><circle cx="820.8" cy="566.4" r="6.0"/><circle cx="858.0" cy="565.4" r="6.0"/><circle cx="891.4" cy="563.6" r="6.0"/><circle cx="898.8" cy="570.1" r="6.0"/><circle cx="909.9" cy="572.9" r="6.0"/><circle cx="880.2" cy="576.6" r="6.0"/><circle cx="856.1" cy="584.0" r="6.0"/><circle cx="937.8" cy="576.6" r="6.0"/><circle cx="958.2" cy="569.1" r="6.0"/><circle cx="967.5" cy="574.7" r="6.0"/><circle cx="922.9" cy="584.0" r="6.0"/><circle cx="947.1" cy="584.0" r="6.0"/><circle cx="965.6" cy="589.6" r="6.0"/><circle cx="978.6" cy="592.3" r="6.0"/><circle cx="938.7" cy="595.1" r="6.0"/><circle cx="875.6" cy="591.4" r="6.0"/><circle cx="891.4" cy="591.4" r="6.0"/><circle cx="902.5" cy="595.1" r="6.0"/><circle cx="809.7" cy="584.0" r="6.0"/><circle cx="824.5" cy="589.6" r="6.0"/><circle cx="798.6" cy="587.7" r="6.0"/><circle cx="810.6" cy="599.8" r="6.0"/><circle cx="827.3" cy="600.7" r="6.0"/><circle cx="795.8" cy="610.0" r="6.0"/><circle cx="844.0" cy="610.0" r="6.0"/><circle cx="874.7" cy="604.4" r="6.0"/><circle cx="887.7" cy="611.8" r="6.0"/><circle cx="906.2" cy="610.0" r="6.0"/><circle cx="921.1" cy="604.4" r="6.0"/><circle cx="950.8" cy="608.1" r="6.0"/><circle cx="974.9" cy="613.7" r="6.0"/><circle cx="930.3" cy="615.5" r="6.0"/><circle cx="860.6" cy="619.0" r="6.0"/><circle cx="873.5" cy="623.6" r="6.0"/><circle cx="887.5" cy="622.7" r="6.0"/><circle cx="823.4" cy="616.2" r="6.0"/><circle cx="806.7" cy="622.7" r="6.0"/><circle cx="829.9" cy="627.3" r="6.0"/><circle cx="848.5" cy="630.1" r="6.0"/><circle cx="786.3" cy="630.1" r="6.0"/><circle cx="763.1" cy="635.7" r="6.0"/><circle cx="706.5" cy="620.8" r="6.0"/><circle cx="720.4" cy="630.1" r="6.0"/><circle cx="765.9" cy="619.9" r="6.0"/><circle cx="902.3" cy="635.7" r="6.0"/><circle cx="915.3" cy="635.7" r="6.0"/><circle cx="946.9" cy="624.5" r="6.0"/><circle cx="958.0" cy="623.6" r="6.0"/><circle cx="971.9" cy="626.4" r="6.0"/><circle cx="984.9" cy="630.1" r="6.0"/><circle cx="952.4" cy="647.7" r="6.0"/><circle cx="932.0" cy="655.2" r="6.0"/><circle cx="987.7" cy="659.8" r="6.0"/><circle cx="954.3" cy="667.2" r="6.0"/><circle cx="971.9" cy="680.2" r="6.0"/><circle cx="963.6" cy="691.4" r="6.0"/><circle cx="946.9" cy="691.4" r="6.0"/><circle cx="938.5" cy="704.4" r="6.0"/><circle cx="954.3" cy="700.6" r="6.0"/><circle cx="946.9" cy="726.6" r="6.0"/><circle cx="959.9" cy="740.6" r="6.0"/><circle cx="934.8" cy="745.2" r="6.0"/><circle cx="713.9" cy="651.5" r="6.0"/><circle cx="769.6" cy="649.6" r="6.0"/><circle cx="777.0" cy="660.7" r="6.0"/><circle cx="791.0" cy="656.1" r="6.0"/><circle cx="806.7" cy="654.2" r="6.0"/><circle cx="801.2" cy="641.3" r="6.0"/><circle cx="815.1" cy="642.2" r="6.0"/><circle cx="826.2" cy="641.3" r="6.0"/><circle cx="837.4" cy="645.0" r="6.0"/><circle cx="854.1" cy="654.2" r="6.0"/><circle cx="840.1" cy="659.8" r="6.0"/><circle cx="868.0" cy="671.0" r="6.0"/><circle cx="883.8" cy="659.8" r="6.0"/><circle cx="894.9" cy="651.5" r="6.0"/><circle cx="906.0" cy="658.0" r="6.0"/><circle cx="916.2" cy="667.2" r="6.0"/><circle cx="911.6" cy="672.8" r="6.0"/><circle cx="896.8" cy="675.6" r="6.0"/><circle cx="844.8" cy="676.5" r="6.0"/><circle cx="861.5" cy="684.9" r="6.0"/><circle cx="836.4" cy="691.4" r="6.0"/><circle cx="817.9" cy="670.0" r="6.0"/><circle cx="803.9" cy="671.0" r="6.0"/><circle cx="791.0" cy="668.2" r="6.0"/><circle cx="713.9" cy="669.1" r="6.0"/><circle cx="733.4" cy="672.8" r="6.0"/><circle cx="750.1" cy="676.5" r="6.0"/><circle cx="766.8" cy="679.3" r="6.0"/><circle cx="802.1" cy="685.8" r="6.0"/><circle cx="811.4" cy="691.4" r="6.0"/><circle cx="723.2" cy="689.5" r="6.0"/><circle cx="754.8" cy="690.4" r="6.0"/><circle cx="769.6" cy="695.1" r="6.0"/><circle cx="739.9" cy="699.7" r="6.0"/><circle cx="729.7" cy="698.8" r="6.0"/><circle cx="788.2" cy="701.6" r="6.0"/><circle cx="798.4" cy="715.5" r="6.0"/><circle cx="814.2" cy="709.9" r="6.0"/><circle cx="828.1" cy="708.1" r="6.0"/><circle cx="859.6" cy="700.6" r="6.0"/><circle cx="849.4" cy="709.0" r="6.0"/><circle cx="885.6" cy="693.2" r="6.0"/><circle cx="883.8" cy="702.5" r="6.0"/><circle cx="904.2" cy="698.8" r="6.0"/><circle cx="901.4" cy="708.1" r="6.0"/><circle cx="919.0" cy="691.4" r="6.0"/><circle cx="920.9" cy="706.2" r="6.0"/><circle cx="926.5" cy="681.2" r="6.0"/><circle cx="918.1" cy="683.9" r="6.0"/><circle cx="878.2" cy="713.6" r="6.0"/><circle cx="873.5" cy="722.0" r="6.0"/><circle cx="887.5" cy="726.6" r="6.0"/><circle cx="882.8" cy="737.8" r="6.0"/><circle cx="905.1" cy="732.2" r="6.0"/><circle cx="920.9" cy="721.1" r="6.0"/><circle cx="921.8" cy="735.9" r="6.0"/><circle cx="831.8" cy="720.1" r="6.0"/><circle cx="828.1" cy="734.1" r="6.0"/><circle cx="841.1" cy="726.6" r="6.0"/><circle cx="853.1" cy="738.7" r="6.0"/><circle cx="794.7" cy="726.6" r="6.0"/><circle cx="777.0" cy="733.1" r="6.0"/><circle cx="770.5" cy="708.1" r="6.0"/><circle cx="753.8" cy="709.9" r="6.0"/><circle cx="711.1" cy="713.6" r="6.0"/><circle cx="726.0" cy="715.5" r="6.0"/><circle cx="752.9" cy="722.9" r="6.0"/><circle cx="735.3" cy="726.6" r="6.0"/><circle cx="722.3" cy="734.1" r="6.0"/><circle cx="708.4" cy="739.6" r="6.0"/><circle cx="776.1" cy="748.9" r="6.0"/><circle cx="793.7" cy="748.0" r="6.0"/><circle cx="807.7" cy="744.3" r="6.0"/><circle cx="727.8" cy="757.3" r="6.0"/><circle cx="747.3" cy="755.4" r="6.0"/><circle cx="837.4" cy="758.2" r="6.0"/><circle cx="849.4" cy="763.8" r="6.0"/><circle cx="868.0" cy="760.0" r="6.0"/><circle cx="886.5" cy="755.4" r="6.0"/><circle cx="896.8" cy="752.6" r="6.0"/><circle cx="907.9" cy="748.0" r="6.0"/><circle cx="894.0" cy="767.5" r="6.0"/><circle cx="910.7" cy="767.5" r="6.0"/><circle cx="794.7" cy="765.6" r="6.0"/><circle cx="821.6" cy="769.3" r="6.0"/><circle cx="775.2" cy="776.8" r="6.0"/><circle cx="752.0" cy="781.4" r="6.0"/><circle cx="818.8" cy="782.3" r="6.0"/><circle cx="837.4" cy="782.3" r="6.0"/><circle cx="842.9" cy="776.8" r="6.0"/><circle cx="861.5" cy="780.5" r="6.0"/><circle cx="878.2" cy="777.7" r="6.0"/><circle cx="881.0" cy="786.0" r="6.0"/><circle cx="850.3" cy="789.7" r="6.0"/><circle cx="858.7" cy="794.4" r="6.0"/><circle cx="875.4" cy="795.3" r="6.0"/><circle cx="796.5" cy="795.3" r="6.0"/><circle cx="742.7" cy="801.8" r="6.0"/><circle cx="721.3" cy="793.5" r="6.0"/><circle cx="797.4" cy="811.1" r="6.0"/><circle cx="778.0" cy="819.4" r="6.0"/><circle cx="743.6" cy="821.3" r="6.0"/><circle cx="762.2" cy="827.8" r="6.0"/><circle cx="806.7" cy="841.7" r="6.0"/><circle cx="719.5" cy="852.9" r="6.0"/><circle cx="601.4" cy="677.1" r="6.0"/><circle cx="555.0" cy="694.8" r="6.0"/><circle cx="525.3" cy="705.9" r="6.0"/><circle cx="568.9" cy="715.2" r="6.0"/><circle cx="591.2" cy="722.6" r="6.0"/><circle cx="602.3" cy="700.3" r="6.0"/><circle cx="614.4" cy="713.3" r="6.0"/><circle cx="627.4" cy="720.7" r="6.0"/><circle cx="636.7" cy="703.1" r="6.0"/><circle cx="624.6" cy="666.9" r="6.0"/><circle cx="641.3" cy="666.9" r="6.0"/><circle cx="641.3" cy="681.8" r="6.0"/><circle cx="633.9" cy="647.4" r="6.0"/><circle cx="646.9" cy="647.4" r="6.0"/><circle cx="661.7" cy="645.6" r="6.0"/><circle cx="677.5" cy="643.7" r="6.0"/><circle cx="692.3" cy="643.7" r="6.0"/><circle cx="662.6" cy="657.6" r="6.0"/><circle cx="667.3" cy="666.9" r="6.0"/><circle cx="658.0" cy="677.1" r="6.0"/><circle cx="665.4" cy="688.3" r="6.0"/><circle cx="674.7" cy="685.5" r="6.0"/><circle cx="685.8" cy="693.8" r="6.0"/><circle cx="652.4" cy="709.6" r="6.0"/><circle cx="667.3" cy="710.5" r="6.0"/><circle cx="694.2" cy="706.8" r="6.0"/><circle cx="648.7" cy="721.7" r="6.0"/><circle cx="665.4" cy="725.4" r="6.0"/><circle cx="696.1" cy="721.7" r="6.0"/><circle cx="686.8" cy="731.0" r="6.0"/><circle cx="651.5" cy="738.4" r="6.0"/><circle cx="743.4" cy="729.1" r="6.0"/><circle cx="482.6" cy="747.7" r="6.0"/><circle cx="498.4" cy="746.7" r="6.0"/><circle cx="521.6" cy="734.7" r="6.0"/><circle cx="550.3" cy="754.2" r="6.0"/><circle cx="575.4" cy="756.9" r="6.0"/><circle cx="602.3" cy="743.9" r="6.0"/><circle cx="616.2" cy="741.2" r="6.0"/><circle cx="628.3" cy="740.2" r="6.0"/><circle cx="625.5" cy="749.5" r="6.0"/><circle cx="633.9" cy="751.4" r="6.0"/><circle cx="624.6" cy="758.8" r="6.0"/><circle cx="652.4" cy="756.9" r="6.0"/><circle cx="668.2" cy="751.4" r="6.0"/><circle cx="687.7" cy="740.2" r="6.0"/><circle cx="692.3" cy="751.4" r="6.0"/><circle cx="464.0" cy="769.9" r="6.0"/><circle cx="571.7" cy="772.7" r="6.0"/><circle cx="598.6" cy="769.9" r="6.0"/><circle cx="627.4" cy="783.9" r="6.0"/><circle cx="515.1" cy="778.3" r="6.0"/><circle cx="507.7" cy="786.6" r="6.0"/><circle cx="498.4" cy="786.6" r="6.0"/><circle cx="587.5" cy="795.9" r="6.0"/><circle cx="610.7" cy="793.1" r="6.0"/><circle cx="645.0" cy="799.6" r="6.0"/><circle cx="663.6" cy="788.5" r="6.0"/><circle cx="672.9" cy="772.7" r="6.0"/><circle cx="677.5" cy="782.9" r="6.0"/><circle cx="697.0" cy="769.0" r="6.0"/><circle cx="697.9" cy="789.4" r="6.0"/><circle cx="508.6" cy="810.8" r="6.0"/><circle cx="531.8" cy="808.9" r="6.0"/><circle cx="552.2" cy="814.5" r="6.0"/><circle cx="594.9" cy="808.0" r="6.0"/><circle cx="659.9" cy="808.9" r="6.0"/><circle cx="684.9" cy="804.3" r="6.0"/><circle cx="527.1" cy="827.5" r="6.0"/><circle cx="543.9" cy="842.3" r="6.0"/><circle cx="668.2" cy="828.4" r="6.0"/><circle cx="737.8" cy="912.9" r="6.0"/><circle cx="892.7" cy="394.6" r="6.0"/><circle cx="787.4" cy="718.0" r="6.0"/><circle cx="633.9" cy="516.9" r="6.0"/><circle cx="885.3" cy="414.1" r="6.0"/><circle cx="766.3" cy="754.6" r="6.0"/><circle cx="746.0" cy="765.0" r="6.0"/><circle cx="844.8" cy="546.4" r="6.0"/><circle cx="931.4" cy="695.7" r="6.0"/><circle cx="632.5" cy="687.1" r="6.0"/><circle cx="740.8" cy="489.9" r="6.0"/><circle cx="602.6" cy="786.2" r="6.0"/><circle cx="785.0" cy="792.5" r="6.0"/><circle cx="836.0" cy="476.1" r="6.0"/><circle cx="873.9" cy="663.2" r="6.0"/><circle cx="572.8" cy="742.1" r="6.0"/><circle cx="573.2" cy="729.8" r="6.0"/><circle cx="819.0" cy="452.3" r="6.0"/><circle cx="699.9" cy="807.2" r="6.0"/><circle cx="651.0" cy="782.9" r="6.0"/><circle cx="878.9" cy="767.5" r="6.0"/><circle cx="992.3" cy="378.5" r="6.0"/><circle cx="837.1" cy="556.3" r="6.0"/><circle cx="849.1" cy="599.3" r="6.0"/><circle cx="927.8" cy="667.1" r="6.0"/><circle cx="833.9" cy="593.1" r="6.0"/><circle cx="744.7" cy="713.7" r="6.0"/><circle cx="754.8" cy="794.0" r="6.0"/><circle cx="685.2" cy="627.6" r="6.0"/><circle cx="644.3" cy="657.4" r="6.0"/><circle cx="616.6" cy="765.0" r="6.0"/><circle cx="895.6" cy="548.4" r="6.0"/><circle cx="623.1" cy="610.2" r="6.0"/><circle cx="716.8" cy="504.5" r="6.0"/><circle cx="775.9" cy="763.9" r="6.0"/><circle cx="897.7" cy="491.0" r="6.0"/><circle cx="788.2" cy="580.3" r="6.0"/><circle cx="836.4" cy="794.3" r="6.0"/><circle cx="747.0" cy="667.0" r="6.0"/><circle cx="604.9" cy="808.0" r="6.0"/><circle cx="839.4" cy="566.1" r="6.0"/><circle cx="815.8" cy="728.6" r="6.0"/><circle cx="698.0" cy="626.9" r="6.0"/><circle cx="684.2" cy="814.0" r="6.0"/><circle cx="759.0" cy="764.9" r="6.0"/><circle cx="617.9" cy="731.3" r="6.0"/><circle cx="635.3" cy="576.7" r="6.0"/><circle cx="621.3" cy="681.1" r="6.0"/><circle cx="767.3" cy="665.4" r="6.0"/><circle cx="784.9" cy="612.6" r="6.0"/><circle cx="657.9" cy="697.2" r="6.0"/><circle cx="608.5" cy="721.7" r="6.0"/><circle cx="625.8" cy="770.7" r="6.0"/><circle cx="644.3" cy="608.1" r="6.0"/><circle cx="829.6" cy="448.5" r="6.0"/><circle cx="859.9" cy="747.6" r="6.0"/><circle cx="841.7" cy="437.4" r="6.0"/><circle cx="733.3" cy="746.6" r="6.0"/><circle cx="611.3" cy="693.8" r="6.0"/><circle cx="868.8" cy="693.9" r="6.0"/><circle cx="680.5" cy="655.9" r="6.0"/><circle cx="633.8" cy="614.9" r="6.0"/><circle cx="896.8" cy="365.9" r="6.0"/><circle cx="611.2" cy="754.0" r="6.0"/><circle cx="637.2" cy="721.9" r="6.0"/><circle cx="760.3" cy="656.1" r="6.0"/><circle cx="677.8" cy="710.1" r="6.0"/><circle cx="769.2" cy="811.9" r="6.0"/><circle cx="847.8" cy="395.6" r="6.0"/><circle cx="646.8" cy="622.5" r="6.0"/><circle cx="985.4" cy="649.5" r="6.0"/><circle cx="946.2" cy="470.7" r="6.0"/><circle cx="779.2" cy="685.9" r="6.0"/><circle cx="833.7" cy="493.7" r="6.0"/><circle cx="582.7" cy="781.2" r="6.0"/><circle cx="718.3" cy="777.1" r="6.0"/><circle cx="714.8" cy="757.8" r="6.0"/><circle cx="825.2" cy="690.1" r="6.0"/><circle cx="762.4" cy="579.2" r="6.0"/><circle cx="722.3" cy="583.5" r="6.0"/><circle cx="844.7" cy="404.9" r="6.0"/><circle cx="708.6" cy="765.4" r="6.0"/><circle cx="626.6" cy="586.6" r="6.0"/><circle cx="939.6" cy="717.4" r="6.0"/><circle cx="707.1" cy="508.3" r="6.0"/><circle cx="736.3" cy="765.8" r="6.0"/><circle cx="590.7" cy="747.0" r="6.0"/><circle cx="636.7" cy="494.5" r="6.0"/><circle cx="656.3" cy="773.1" r="6.0"/><circle cx="859.4" cy="522.6" r="6.0"/><circle cx="869.6" cy="579.0" r="6.0"/><circle cx="968.2" cy="665.9" r="6.0"/><circle cx="819.7" cy="577.4" r="6.0"/><circle cx="733.9" cy="793.2" r="6.0"/><circle cx="862.7" cy="490.0" r="6.0"/><circle cx="916.2" cy="485.3" r="6.0"/><circle cx="686.9" cy="785.2" r="6.0"/><circle cx="818.2" cy="631.7" r="6.0"/><circle cx="850.1" cy="472.5" r="6.0"/><circle cx="810.0" cy="565.2" r="6.0"/><circle cx="777.0" cy="571.5" r="6.0"/><circle cx="851.3" cy="447.2" r="6.0"/><circle cx="842.4" cy="716.2" r="6.0"/><circle cx="942.3" cy="647.2" r="6.0"/><circle cx="825.4" cy="748.5" r="6.0"/><circle cx="736.9" cy="814.4" r="6.0"/><circle cx="931.1" cy="725.7" r="6.0"/><circle cx="747.9" cy="582.2" r="6.0"/><circle cx="967.1" cy="606.5" r="6.0"/><circle cx="615.2" cy="590.7" r="6.0"/><circle cx="842.6" cy="522.8" r="6.0"/><circle cx="920.9" cy="619.7" r="6.0"/><circle cx="919.4" cy="648.1" r="6.0"/><circle cx="671.5" cy="803.2" r="6.0"/><circle cx="658.3" cy="590.9" r="6.0"/><circle cx="948.9" cy="737.0" r="6.0"/><circle cx="892.4" cy="578.0" r="6.0"/><circle cx="935.3" cy="521.3" r="6.0"/><circle cx="649.4" cy="583.6" r="6.0"/><circle cx="937.9" cy="668.8" r="6.0"/>
</g>
<g fill="#ffff00">
<circle cx="100.2" cy="284.9" r="6.0"/><circle cx="107.7" cy="294.2" r="6.0"/><circle cx="166.1" cy="277.5" r="6.0"/><circle cx="160.6" cy="305.3" r="6.0"/><circle cx="233.9" cy="277.5" r="6.0"/><circle cx="245.9" cy="295.1" r="6.0"/><circle cx="274.7" cy="288.6" r="6.0"/><circle cx="238.5" cy="223.7" r="6.0"/><circle cx="258.0" cy="233.9" r="6.0"/><circle cx="257.1" cy="205.1" r="6.0"/><circle cx="268.2" cy="200.5" r="6.0"/><circle cx="269.1" cy="216.2" r="6.0"/><circle cx="285.8" cy="165.2" r="6.0"/><circle cx="290.5" cy="187.5" r="6.0"/><circle cx="309.0" cy="201.4" r="6.0"/><circle cx="299.8" cy="229.2" r="6.0"/><circle cx="318.3" cy="237.6" r="6.0"/><circle cx="335.0" cy="245.0" r="6.0"/><circle cx="347.1" cy="246.9" r="6.0"/><circle cx="355.5" cy="270.1" r="6.0"/><circle cx="318.3" cy="294.2" r="6.0"/><circle cx="301.6" cy="297.9" r="6.0"/><circle cx="307.2" cy="309.0" r="6.0"/><circle cx="370.3" cy="283.1" r="6.0"/><circle cx="381.4" cy="259.9" r="6.0"/><circle cx="332.3" cy="176.3" r="6.0"/><circle cx="338.7" cy="161.5" r="6.0"/><circle cx="349.9" cy="149.4" r="6.0"/><circle cx="355.5" cy="159.6" r="6.0"/><circle cx="362.9" cy="175.4" r="6.0"/><circle cx="399.1" cy="230.2" r="6.0"/><circle cx="137.4" cy="317.4" r="6.0"/><circle cx="439.4" cy="281.0" r="6.0"/><circle cx="445.0" cy="302.3" r="6.0"/><circle cx="467.2" cy="294.0" r="6.0"/><circle cx="476.5" cy="362.6" r="6.0"/><circle cx="499.7" cy="372.9" r="6.0"/><circle cx="532.2" cy="383.1" r="6.0"/><circle cx="523.9" cy="388.6" r="6.0"/><circle cx="548.9" cy="400.7" r="6.0"/><circle cx="554.5" cy="409.0" r="6.0"/><circle cx="691.8" cy="377.5" r="6.0"/><circle cx="748.4" cy="354.3" r="6.0"/><circle cx="742.9" cy="333.9" r="6.0"/><circle cx="771.6" cy="353.4" r="6.0"/><circle cx="764.2" cy="362.6" r="6.0"/><circle cx="769.8" cy="374.7" r="6.0"/><circle cx="738.2" cy="383.1" r="6.0"/><circle cx="740.1" cy="399.8" r="6.0"/><circle cx="763.3" cy="411.8" r="6.0"/><circle cx="678.8" cy="415.5" r="6.0"/><circle cx="703.0" cy="417.4" r="6.0"/><circle cx="723.4" cy="417.4" r="6.0"/><circle cx="775.4" cy="306.0" r="6.0"/><circle cx="380.0" cy="404.4" r="6.0"/><circle cx="1001.8" cy="82.2" r="6.0"/><circle cx="1021.3" cy="116.5" r="6.0"/><circle cx="967.5" cy="121.2" r="6.0"/><circle cx="989.7" cy="149.9" r="6.0"/><circle cx="899.7" cy="159.2" r="6.0"/><circle cx="936.8" cy="166.6" r="6.0"/><circle cx="859.8" cy="154.6" r="6.0"/><circle cx="853.3" cy="176.8" r="6.0"/><circle cx="878.4" cy="186.1" r="6.0"/><circle cx="952.6" cy="184.3" r="6.0"/><circle cx="982.3" cy="185.2" r="6.0"/><circle cx="974.0" cy="196.3" r="6.0"/><circle cx="963.8" cy="200.0" r="6.0"/><circle cx="932.2" cy="221.4" r="6.0"/><circle cx="970.3" cy="221.4" r="6.0"/><circle cx="948.0" cy="233.5" r="6.0"/><circle cx="961.9" cy="242.7" r="6.0"/><circle cx="861.7" cy="255.7" r="6.0"/><circle cx="1002.7" cy="174.1" r="6.0"/><circle cx="1024.1" cy="187.1" r="6.0"/><circle cx="1008.3" cy="197.3" r="6.0"/><circle cx="1028.7" cy="207.5" r="6.0"/><circle cx="1001.8" cy="217.7" r="6.0"/><circle cx="1025.0" cy="225.1" r="6.0"/><circle cx="1003.7" cy="234.4" r="6.0"/><circle cx="987.0" cy="241.8" r="6.0"/><circle cx="1023.2" cy="237.2" r="6.0"/><circle cx="1019.4" cy="250.2" r="6.0"/><circle cx="1000.0" cy="250.2" r="6.0"/><circle cx="985.1" cy="254.8" r="6.0"/><circle cx="969.3" cy="262.2" r="6.0"/><circle cx="987.0" cy="273.4" r="6.0"/><circle cx="1007.4" cy="266.9" r="6.0"/><circle cx="1010.2" cy="277.1" r="6.0"/><circle cx="1018.5" cy="285.4" r="6.0"/><circle cx="1064.9" cy="282.6" r="6.0"/><circle cx="1085.3" cy="249.2" r="6.0"/><circle cx="1111.3" cy="247.4" r="6.0"/><circle cx="1061.2" cy="217.7" r="6.0"/><circle cx="1075.1" cy="206.5" r="6.0"/><circle cx="1093.7" cy="215.8" r="6.0"/><circle cx="1102.0" cy="226.0" r="6.0"/><circle cx="1117.8" cy="195.4" r="6.0"/><circle cx="1134.5" cy="206.5" r="6.0"/><circle cx="1110.4" cy="175.0" r="6.0"/><circle cx="1116.9" cy="162.9" r="6.0"/><circle cx="1092.8" cy="278.9" r="6.0"/><circle cx="1090.0" cy="289.1" r="6.0"/><circle cx="1084.4" cy="298.4" r="6.0"/><circle cx="1011.1" cy="304.0" r="6.0"/><circle cx="997.2" cy="300.3" r="6.0"/><circle cx="993.5" cy="313.3" r="6.0"/><circle cx="981.4" cy="292.9" r="6.0"/><circle cx="959.1" cy="292.9" r="6.0"/><circle cx="941.5" cy="294.7" r="6.0"/><circle cx="932.2" cy="272.4" r="6.0"/><circle cx="907.1" cy="290.1" r="6.0"/><circle cx="883.0" cy="300.3" r="6.0"/><circle cx="874.7" cy="278.0" r="6.0"/><circle cx="848.7" cy="295.6" r="6.0"/><circle cx="829.2" cy="294.7" r="6.0"/><circle cx="805.1" cy="299.4" r="6.0"/><circle cx="814.3" cy="280.8" r="6.0"/><circle cx="903.4" cy="316.1" r="6.0"/><circle cx="901.6" cy="331.8" r="6.0"/><circle cx="935.0" cy="328.1" r="6.0"/><circle cx="793.9" cy="333.7" r="6.0"/><circle cx="858.0" cy="335.5" r="6.0"/><circle cx="973.0" cy="324.4" r="6.0"/><circle cx="958.2" cy="333.7" r="6.0"/><circle cx="995.3" cy="333.7" r="6.0"/><circle cx="125.4" cy="329.2" r="6.0"/><circle cx="138.4" cy="354.2" r="6.0"/><circle cx="246.0" cy="353.3" r="6.0"/><circle cx="329.6" cy="332.9" r="6.0"/><circle cx="194.1" cy="392.3" r="6.0"/><circle cx="215.4" cy="392.3" r="6.0"/><circle cx="275.7" cy="382.1" r="6.0"/><circle cx="423.3" cy="447.1" r="6.0"/><circle cx="387.1" cy="504.6" r="6.0"/><circle cx="298.0" cy="567.7" r="6.0"/><circle cx="325.8" cy="562.1" r="6.0"/><circle cx="795.4" cy="369.6" r="6.0"/><circle cx="787.0" cy="394.7" r="6.0"/><circle cx="585.6" cy="432.7" r="6.0"/><circle cx="608.8" cy="424.4" r="6.0"/><circle cx="495.6" cy="443.9" r="6.0"/><circle cx="446.4" cy="459.6" r="6.0"/><circle cx="475.2" cy="463.3" r="6.0"/><circle cx="516.0" cy="457.8" r="6.0"/><circle cx="528.1" cy="462.4" r="6.0"/><circle cx="506.7" cy="471.7" r="6.0"/><circle cx="579.1" cy="468.0" r="6.0"/><circle cx="602.3" cy="458.7" r="6.0"/><circle cx="599.5" cy="480.0" r="6.0"/><circle cx="621.8" cy="480.0" r="6.0"/><circle cx="635.7" cy="476.3" r="6.0"/><circle cx="555.9" cy="476.3" r="6.0"/><circle cx="569.8" cy="484.7" r="6.0"/><circle cx="541.1" cy="493.0" r="6.0"/><circle cx="557.8" cy="494.9" r="6.0"/><circle cx="606.0" cy="499.5" r="6.0"/><circle cx="619.0" cy="504.2" r="6.0"/><circle cx="597.7" cy="513.5" r="6.0"/><circle cx="657.1" cy="527.4" r="6.0"/><circle cx="609.7" cy="610.0" r="6.0"/><circle cx="661.7" cy="558.0" r="6.0"/><circle cx="678.4" cy="548.7" r="6.0"/><circle cx="680.3" cy="563.6" r="6.0"/><circle cx="699.8" cy="553.4" r="6.0"/><circle cx="706.3" cy="564.5" r="6.0"/><circle cx="698.8" cy="578.4" r="6.0"/><circle cx="698.8" cy="588.6" r="6.0"/><circle cx="723.0" cy="550.6" r="6.0"/><circle cx="739.7" cy="545.9" r="6.0"/><circle cx="754.5" cy="565.4" r="6.0"/><circle cx="761.9" cy="539.4" r="6.0"/><circle cx="774.0" cy="547.8" r="6.0"/><circle cx="686.8" cy="539.4" r="6.0"/><circle cx="677.5" cy="520.0" r="6.0"/><circle cx="687.7" cy="529.2" r="6.0"/><circle cx="704.4" cy="525.5" r="6.0"/><circle cx="743.4" cy="525.5" r="6.0"/><circle cx="774.9" cy="506.0" r="6.0"/><circle cx="787.0" cy="489.3" r="6.0"/><circle cx="778.7" cy="467.1" r="6.0"/><circle cx="687.7" cy="478.2" r="6.0"/><circle cx="704.4" cy="469.8" r="6.0"/><circle cx="658.9" cy="489.3" r="6.0"/><circle cx="667.3" cy="493.0" r="6.0"/><circle cx="676.6" cy="504.2" r="6.0"/><circle cx="646.9" cy="453.1" r="6.0"/><circle cx="665.4" cy="428.1" r="6.0"/><circle cx="692.3" cy="451.3" r="6.0"/><circle cx="719.3" cy="452.2" r="6.0"/><circle cx="728.5" cy="442.9" r="6.0"/><circle cx="736.0" cy="437.4" r="6.0"/><circle cx="749.0" cy="423.4" r="6.0"/><circle cx="762.9" cy="431.8" r="6.0"/><circle cx="774.9" cy="421.6" r="6.0"/><circle cx="789.8" cy="409.5" r="6.0"/><circle cx="791.6" cy="423.4" r="6.0"/><circle cx="761.9" cy="456.8" r="6.0"/><circle cx="797.2" cy="463.3" r="6.0"/><circle cx="814.3" cy="346.4" r="6.0"/><circle cx="882.1" cy="341.8" r="6.0"/><circle cx="917.4" cy="352.0" r="6.0"/><circle cx="932.2" cy="346.4" r="6.0"/><circle cx="945.2" cy="346.4" r="6.0"/><circle cx="1013.9" cy="355.7" r="6.0"/><circle cx="979.5" cy="352.0" r="6.0"/><circle cx="826.4" cy="364.0" r="6.0"/><circle cx="830.1" cy="374.2" r="6.0"/><circle cx="843.1" cy="381.7" r="6.0"/><circle cx="862.6" cy="361.3" r="6.0"/><circle cx="886.7" cy="365.0" r="6.0"/><circle cx="922.9" cy="365.9" r="6.0"/><circle cx="937.8" cy="368.7" r="6.0"/><circle cx="987.9" cy="369.6" r="6.0"/><circle cx="967.5" cy="376.1" r="6.0"/><circle cx="805.1" cy="391.0" r="6.0"/><circle cx="817.1" cy="383.5" r="6.0"/><circle cx="826.4" cy="397.4" r="6.0"/><circle cx="820.8" cy="407.7" r="6.0"/><circle cx="876.5" cy="396.5" r="6.0"/><circle cx="908.1" cy="403.0" r="6.0"/><circle cx="955.4" cy="411.4" r="6.0"/><circle cx="867.2" cy="438.3" r="6.0"/><circle cx="810.6" cy="447.6" r="6.0"/><circle cx="867.2" cy="457.8" r="6.0"/><circle cx="880.2" cy="482.8" r="6.0"/><circle cx="802.3" cy="485.6" r="6.0"/><circle cx="959.1" cy="600.7" r="6.0"/><circle cx="757.5" cy="615.3" r="6.0"/><circle cx="734.3" cy="624.5" r="6.0"/><circle cx="910.7" cy="627.3" r="6.0"/><circle cx="971.0" cy="654.2" r="6.0"/><circle cx="947.8" cy="676.5" r="6.0"/><circle cx="728.8" cy="651.5" r="6.0"/><circle cx="744.5" cy="653.3" r="6.0"/><circle cx="868.0" cy="646.8" r="6.0"/><circle cx="703.7" cy="689.5" r="6.0"/><circle cx="800.2" cy="704.4" r="6.0"/><circle cx="517.9" cy="681.8" r="6.0"/><circle cx="505.8" cy="695.7" r="6.0"/><circle cx="532.7" cy="652.1" r="6.0"/><circle cx="550.3" cy="681.8" r="6.0"/><circle cx="571.7" cy="684.5" r="6.0"/><circle cx="583.8" cy="683.6" r="6.0"/><circle cx="546.6" cy="714.2" r="6.0"/><circle cx="557.8" cy="715.2" r="6.0"/><circle cx="685.8" cy="675.3" r="6.0"/><circle cx="559.6" cy="737.4" r="6.0"/><circle cx="534.6" cy="766.2" r="6.0"/><circle cx="557.8" cy="790.3" r="6.0"/><circle cx="263.9" cy="606.7" r="6.0"/><circle cx="291.8" cy="609.5" r="6.0"/><circle cx="304.8" cy="618.8" r="6.0"/><circle cx="321.5" cy="621.6" r="6.0"/><circle cx="351.2" cy="621.6" r="6.0"/><circle cx="534.0" cy="629.9" r="6.0"/><circle cx="288.1" cy="648.5" r="6.0"/><circle cx="363.2" cy="644.8" r="6.0"/><circle cx="591.5" cy="635.2" r="6.0"/><circle cx="674.3" cy="423.6" r="6.0"/><circle cx="776.4" cy="403.9" r="6.0"/><circle cx="794.9" cy="475.8" r="6.0"/><circle cx="663.8" cy="567.5" r="6.0"/><circle cx="748.5" cy="617.4" r="6.0"/><circle cx="972.5" cy="342.6" r="6.0"/><circle cx="813.6" cy="436.7" r="6.0"/><circle cx="742.9" cy="415.7" r="6.0"/><circle cx="725.4" cy="465.0" r="6.0"/><circle cx="617.3" cy="627.2" r="6.0"/><circle cx="770.9" cy="439.6" r="6.0"/><circle cx="831.2" cy="353.7" r="6.0"/><circle cx="652.7" cy="516.8" r="6.0"/><circle cx="771.8" cy="405.6" r="6.0"/><circle cx="846.3" cy="354.5" r="6.0"/><circle cx="920.9" cy="335.0" r="6.0"/><circle cx="645.7" cy="538.6" r="6.0"/><circle cx="653.5" cy="550.6" r="6.0"/><circle cx="742.5" cy="563.8" r="6.0"/><circle cx="710.1" cy="433.2" r="6.0"/><circle cx="729.2" cy="536.8" r="6.0"/><circle cx="764.9" cy="384.8" r="6.0"/><circle cx="902.6" cy="351.2" r="6.0"/><circle cx="834.7" cy="404.1" r="6.0"/><circle cx="875.9" cy="447.8" r="6.0"/><circle cx="951.7" cy="359.4" r="6.0"/><circle cx="687.6" cy="570.4" r="6.0"/><circle cx="742.3" cy="632.4" r="6.0"/><circle cx="684.6" cy="488.1" r="6.0"/><circle cx="875.8" cy="365.0" r="6.0"/><circle cx="662.7" cy="509.6" r="6.0"/><circle cx="589.6" cy="696.6" r="6.0"/><circle cx="805.5" cy="405.3" r="6.0"/><circle cx="777.1" cy="496.4" r="6.0"/><circle cx="660.7" cy="542.3" r="6.0"/><circle cx="797.1" cy="442.8" r="6.0"/><circle cx="858.2" cy="346.5" r="6.0"/><circle cx="729.9" cy="408.7" r="6.0"/><circle cx="674.8" cy="531.3" r="6.0"/><circle cx="768.4" cy="449.7" r="6.0"/><circle cx="1008.0" cy="363.5" r="6.0"/><circle cx="602.7" cy="617.4" r="6.0"/><circle cx="816.5" cy="368.2" r="6.0"/><circle cx="671.1" cy="572.6" r="6.0"/><circle cx="983.2" cy="334.9" r="6.0"/><circle cx="775.9" cy="385.0" r="6.0"/><circle cx="744.1" cy="617.6" r="6.0"/><circle cx="848.4" cy="337.5" r="6.0"/><circle cx="720.5" cy="431.1" r="6.0"/>
</g>
<g fill="#0a6a0a">
<circle cx="230.2" cy="242.2" r="6.0"/><circle cx="347.1" cy="254.3" r="6.0"/><circle cx="355.5" cy="257.1" r="6.0"/><circle cx="375.9" cy="163.3" r="6.0"/><circle cx="395.4" cy="187.5" r="6.0"/><circle cx="408.8" cy="198.4" r="6.0"/><circle cx="545.2" cy="377.5" r="6.0"/><circle cx="520.1" cy="411.8" r="6.0"/><circle cx="933.1" cy="61.8" r="6.0"/><circle cx="969.3" cy="71.0" r="6.0"/><circle cx="951.7" cy="82.2" r="6.0"/><circle cx="966.5" cy="89.6" r="6.0"/><circle cx="1022.2" cy="137.9" r="6.0"/><circle cx="928.5" cy="123.9" r="6.0"/><circle cx="905.3" cy="133.2" r="6.0"/><circle cx="965.6" cy="151.8" r="6.0"/><circle cx="909.0" cy="210.3" r="6.0"/><circle cx="908.1" cy="251.1" r="6.0"/><circle cx="1013.9" cy="168.5" r="6.0"/><circle cx="1055.6" cy="175.0" r="6.0"/><circle cx="1060.3" cy="151.8" r="6.0"/><circle cx="1044.5" cy="195.4" r="6.0"/><circle cx="1034.3" cy="280.8" r="6.0"/><circle cx="1048.2" cy="277.1" r="6.0"/><circle cx="1051.9" cy="238.1" r="6.0"/><circle cx="1084.4" cy="192.6" r="6.0"/><circle cx="1041.7" cy="295.6" r="6.0"/><circle cx="1028.7" cy="298.4" r="6.0"/><circle cx="1043.6" cy="309.6" r="6.0"/><circle cx="1049.1" cy="322.6" r="6.0"/><circle cx="1069.6" cy="316.1" r="6.0"/><circle cx="1075.1" cy="329.0" r="6.0"/><circle cx="1066.8" cy="305.8" r="6.0"/><circle cx="1023.2" cy="310.5" r="6.0"/><circle cx="1012.0" cy="324.4" r="6.0"/><circle cx="1030.6" cy="330.0" r="6.0"/><circle cx="133.7" cy="484.2" r="6.0"/><circle cx="404.7" cy="483.2" r="6.0"/><circle cx="368.5" cy="568.6" r="6.0"/><circle cx="554.1" cy="431.8" r="6.0"/><circle cx="459.4" cy="427.1" r="6.0"/><circle cx="505.8" cy="505.1" r="6.0"/><circle cx="572.6" cy="516.2" r="6.0"/><circle cx="581.0" cy="535.7" r="6.0"/><circle cx="620.0" cy="528.3" r="6.0"/><circle cx="636.7" cy="554.3" r="6.0"/><circle cx="732.3" cy="593.3" r="6.0"/><circle cx="752.7" cy="610.0" r="6.0"/><circle cx="1023.2" cy="340.8" r="6.0"/><circle cx="1039.9" cy="341.8" r="6.0"/><circle cx="999.0" cy="344.5" r="6.0"/><circle cx="807.8" cy="419.7" r="6.0"/><circle cx="935.0" cy="561.7" r="6.0"/><circle cx="932.9" cy="640.3" r="6.0"/><circle cx="501.2" cy="664.1" r="6.0"/><circle cx="579.1" cy="666.9" r="6.0"/><circle cx="607.0" cy="646.5" r="6.0"/><circle cx="492.8" cy="727.2" r="6.0"/><circle cx="251.9" cy="615.1" r="6.0"/><circle cx="318.7" cy="609.5" r="6.0"/><circle cx="340.0" cy="609.5" r="6.0"/><circle cx="1058.6" cy="314.5" r="6.0"/><circle cx="1015.7" cy="331.8" r="6.0"/><circle cx="643.6" cy="563.1" r="6.0"/><circle cx="757.3" cy="601.6" r="6.0"/><circle cx="1028.4" cy="319.5" r="6.0"/><circle cx="742.0" cy="593.8" r="6.0"/><circle cx="1007.7" cy="337.2" r="6.0"/>
</g>
<g fill="#f00000">
<circle cx="922.7" cy="766.5" r="6.0"/><circle cx="728.8" cy="777.7" r="6.0"/><circle cx="911.6" cy="787.0" r="6.0"/><circle cx="893.0" cy="796.2" r="6.0"/><circle cx="811.4" cy="794.4" r="6.0"/><circle cx="770.5" cy="800.9" r="6.0"/><circle cx="828.1" cy="803.7" r="6.0"/><circle cx="818.8" cy="809.2" r="6.0"/><circle cx="841.1" cy="809.2" r="6.0"/><circle cx="885.6" cy="807.4" r="6.0"/><circle cx="864.3" cy="814.8" r="6.0"/><circle cx="707.4" cy="817.6" r="6.0"/><circle cx="724.1" cy="826.9" r="6.0"/><circle cx="819.7" cy="822.2" r="6.0"/><circle cx="805.8" cy="828.7" r="6.0"/><circle cx="786.3" cy="839.9" r="6.0"/><circle cx="764.0" cy="847.3" r="6.0"/><circle cx="747.3" cy="858.4" r="6.0"/><circle cx="705.6" cy="838.9" r="6.0"/><circle cx="746.4" cy="888.1" r="6.0"/><circle cx="697.0" cy="844.2" r="6.0"/><circle cx="691.4" cy="849.7" r="6.0"/><circle cx="730.4" cy="899.9" r="6.0"/><circle cx="752.7" cy="907.3" r="6.0"/><circle cx="740.6" cy="924.9" r="6.0"/><circle cx="730.4" cy="934.2" r="6.0"/><circle cx="826.5" cy="812.3" r="6.0"/><circle cx="851.7" cy="805.6" r="6.0"/><circle cx="685.8" cy="828.7" r="6.0"/><circle cx="829.9" cy="824.4" r="6.0"/><circle cx="810.2" cy="804.5" r="6.0"/><circle cx="808.7" cy="816.7" r="6.0"/><circle cx="718.8" cy="836.7" r="6.0"/><circle cx="728.6" cy="840.3" r="6.0"/><circle cx="749.1" cy="840.5" r="6.0"/>
</g>
<g fill="#0000f5">
<circle cx="109.5" cy="269.1" r="6.0"/><circle cx="281.2" cy="258.9" r="6.0"/><circle cx="241.3" cy="199.5" r="6.0"/><circle cx="336.9" cy="262.6" r="6.0"/><circle cx="317.4" cy="275.6" r="6.0"/><circle cx="83.6" cy="330.1" r="6.0"/><circle cx="363.9" cy="548.2" r="6.0"/><circle cx="405.7" cy="565.8" r="6.0"/><circle cx="343.5" cy="589.0" r="6.0"/><circle cx="389.0" cy="593.7" r="6.0"/><circle cx="437.2" cy="547.3" r="6.0"/><circle cx="437.2" cy="584.4" r="6.0"/><circle cx="541.1" cy="423.4" r="6.0"/><circle cx="578.2" cy="452.2" r="6.0"/><circle cx="581.9" cy="496.8" r="6.0"/><circle cx="454.8" cy="517.2" r="6.0"/><circle cx="479.8" cy="529.2" r="6.0"/><circle cx="544.8" cy="520.9" r="6.0"/><circle cx="530.9" cy="536.7" r="6.0"/><circle cx="474.2" cy="547.8" r="6.0"/><circle cx="496.5" cy="551.5" r="6.0"/><circle cx="568.0" cy="548.7" r="6.0"/><circle cx="596.8" cy="546.9" r="6.0"/><circle cx="551.3" cy="558.9" r="6.0"/><circle cx="587.5" cy="564.5" r="6.0"/><circle cx="608.8" cy="570.1" r="6.0"/><circle cx="541.1" cy="573.8" r="6.0"/><circle cx="462.2" cy="567.3" r="6.0"/><circle cx="503.9" cy="582.1" r="6.0"/><circle cx="531.8" cy="589.6" r="6.0"/><circle cx="579.1" cy="586.8" r="6.0"/><circle cx="473.3" cy="594.2" r="6.0"/><circle cx="442.7" cy="600.7" r="6.0"/><circle cx="537.4" cy="607.2" r="6.0"/><circle cx="554.1" cy="607.2" r="6.0"/><circle cx="580.0" cy="609.0" r="6.0"/><circle cx="471.5" cy="653.9" r="6.0"/><circle cx="493.7" cy="679.9" r="6.0"/><circle cx="557.8" cy="656.7" r="6.0"/><circle cx="224.0" cy="620.6" r="6.0"/><circle cx="408.7" cy="622.5" r="6.0"/><circle cx="437.5" cy="621.6" r="6.0"/><circle cx="482.0" cy="631.8" r="6.0"/><circle cx="509.9" cy="628.1" r="6.0"/><circle cx="350.3" cy="653.1" r="6.0"/><circle cx="571.0" cy="631.8" r="6.0"/><circle cx="623.1" cy="558.4" r="6.0"/>
</g>
<rect x="1026.8" y="705.1" width="175.2" height="253.9" fill="#fff"/>
<g transform="translate(1026.8 705.1)"><use href="#inset"/></g>
<path d="M1026.8 960 V705.1 H1203" fill="none" stroke="#161616" stroke-width="2.8"/>
</g>
<text x="1243.4" y="1042.6" font-size="47.8">(d) RMSE (<tspan class="cj">℃</tspan>)</text>
<circle cx="1262.0" cy="1659.0" r="9" fill="#0000f5"/>
<text x="1292.6" y="1676.6" font-size="47.8">&gt;8.0</text>
<circle cx="1262.0" cy="1712.8" r="9" fill="#0a6a0a"/>
<text x="1292.6" y="1731.3" font-size="47.8">6.0-8.0</text>
<circle cx="1262.0" cy="1767.5" r="9" fill="#ffff00"/>
<text x="1292.6" y="1785.1" font-size="47.8">4.0-6.0</text>
<circle cx="1262.0" cy="1821.3" r="9" fill="#ffa200"/>
<text x="1292.6" y="1839.9" font-size="47.8">2.0-4.0</text>
<circle cx="1262.0" cy="1876.0" r="9" fill="#f00000"/>
<text x="1292.6" y="1893.7" font-size="47.8">0.0-2.0</text>
</g>
</svg></body></html>
